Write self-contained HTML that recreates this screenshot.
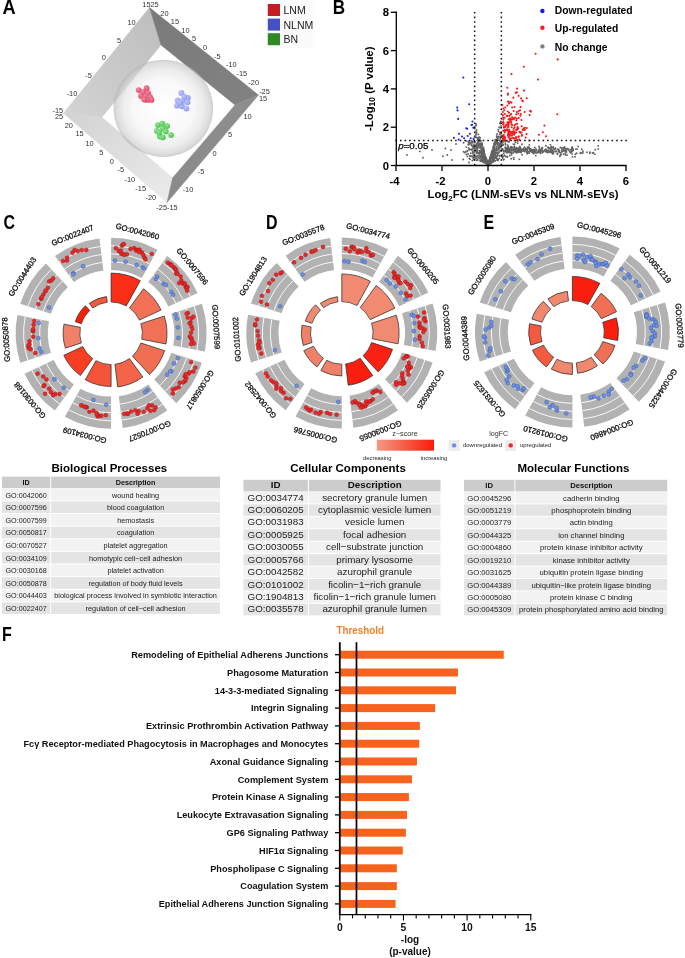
<!DOCTYPE html>
<html><head><meta charset="utf-8"><title>Figure</title>
<style>
html,body{margin:0;padding:0;background:#fff;}
body{width:685px;height:958px;position:relative;overflow:hidden;font-family:"Liberation Sans", sans-serif;}
</style></head><body>
<svg width="685" height="958" viewBox="0 0 685 958" style="position:absolute;left:0;top:0;will-change:transform">
<g font-family='"Liberation Sans", sans-serif'>
<defs><linearGradient id="gTL" x1="1" y1="0" x2="0" y2="1"><stop offset="0" stop-color="#bdbdbd"/><stop offset="1" stop-color="#d4d4d4"/></linearGradient><linearGradient id="gBL" x1="0" y1="0" x2="1" y2="1"><stop offset="0" stop-color="#d2d2d2"/><stop offset="1" stop-color="#ebebeb"/></linearGradient><linearGradient id="gTR" x1="0" y1="0" x2="1" y2="1"><stop offset="0" stop-color="#7a7a7a"/><stop offset="1" stop-color="#828282"/></linearGradient><linearGradient id="gBR" x1="1" y1="0" x2="0" y2="1"><stop offset="0" stop-color="#8e8e8e"/><stop offset="1" stop-color="#8a8a8a"/></linearGradient><radialGradient id="gSph" cx="0.5" cy="0.5" r="0.5"><stop offset="0" stop-color="#ffffff" stop-opacity="0.92"/><stop offset="0.6" stop-color="#f7f7f7" stop-opacity="0.88"/><stop offset="0.8" stop-color="#e6e6e6" stop-opacity="0.72"/><stop offset="0.93" stop-color="#cbcbcb" stop-opacity="0.62"/><stop offset="1" stop-color="#b2b2b2" stop-opacity="0.62"/></radialGradient><radialGradient id="dR" cx="0.35" cy="0.35" r="0.7"><stop offset="0" stop-color="#f08aa0"/><stop offset="1" stop-color="#e0486a"/></radialGradient><radialGradient id="dB" cx="0.35" cy="0.35" r="0.7"><stop offset="0" stop-color="#c0c8ff"/><stop offset="1" stop-color="#8c98ee"/></radialGradient><radialGradient id="dG" cx="0.35" cy="0.35" r="0.7"><stop offset="0" stop-color="#90e890"/><stop offset="1" stop-color="#4cc04c"/></radialGradient></defs>
<polygon points="149.5,7.5 63.4,113.2 102,117.3 161,45" fill="url(#gTL)" stroke="url(#gTL)" stroke-width="0.5" stroke-linejoin="round"/>
<polygon points="63.4,113.2 167,202.5 172.7,177.7 102,117.3" fill="url(#gBL)" stroke="url(#gBL)" stroke-width="0.5" stroke-linejoin="round"/>
<polygon points="149.5,7.5 258.5,95 235,105 161,45" fill="url(#gTR)" stroke="url(#gTR)" stroke-width="0.5" stroke-linejoin="round"/>
<polygon points="167,202.5 258.5,95 235,105 172.7,177.7" fill="url(#gBR)" stroke="url(#gBR)" stroke-width="0.5" stroke-linejoin="round"/>
<ellipse cx="163.3" cy="108.3" rx="49.8" ry="48.6" fill="url(#gSph)"/>
<circle cx="138.78" cy="90.09" r="2.9" fill="url(#dR)"/>
<circle cx="146.62" cy="88.13" r="2.9" fill="url(#dR)"/>
<circle cx="143.29" cy="92.25" r="2.9" fill="url(#dR)"/>
<circle cx="148.19" cy="93.23" r="2.9" fill="url(#dR)"/>
<circle cx="140.93" cy="95.98" r="2.9" fill="url(#dR)"/>
<circle cx="145.64" cy="96.56" r="2.9" fill="url(#dR)"/>
<circle cx="150.16" cy="97.15" r="2.9" fill="url(#dR)"/>
<circle cx="151.53" cy="99.9" r="2.9" fill="url(#dR)"/>
<circle cx="147.21" cy="99.9" r="2.9" fill="url(#dR)"/>
<circle cx="144.27" cy="99.51" r="2.9" fill="url(#dR)"/>
<circle cx="181.42" cy="92.89" r="2.9" fill="url(#dB)"/>
<circle cx="187.89" cy="97.79" r="2.9" fill="url(#dB)"/>
<circle cx="177.69" cy="100.34" r="2.9" fill="url(#dB)"/>
<circle cx="182.99" cy="100.73" r="2.9" fill="url(#dB)"/>
<circle cx="187.5" cy="102.3" r="2.9" fill="url(#dB)"/>
<circle cx="177.1" cy="105.64" r="2.9" fill="url(#dB)"/>
<circle cx="182.01" cy="106.23" r="2.9" fill="url(#dB)"/>
<circle cx="186.32" cy="108.58" r="2.9" fill="url(#dB)"/>
<circle cx="180.04" cy="102.7" r="2.9" fill="url(#dB)"/>
<circle cx="184.36" cy="96.81" r="2.9" fill="url(#dB)"/>
<circle cx="157.93" cy="125.08" r="2.9" fill="url(#dG)"/>
<circle cx="162.44" cy="123.7" r="2.9" fill="url(#dG)"/>
<circle cx="167.15" cy="126.06" r="2.9" fill="url(#dG)"/>
<circle cx="156.95" cy="130.96" r="2.9" fill="url(#dG)"/>
<circle cx="162.84" cy="128.61" r="2.9" fill="url(#dG)"/>
<circle cx="165.78" cy="131.55" r="2.9" fill="url(#dG)"/>
<circle cx="159.89" cy="136.46" r="2.9" fill="url(#dG)"/>
<circle cx="162.84" cy="137.44" r="2.9" fill="url(#dG)"/>
<circle cx="171.08" cy="135.08" r="2.9" fill="url(#dG)"/>
<circle cx="159.3" cy="132.53" r="2.9" fill="url(#dG)"/>
<text x="150.5" y="7.3" font-size="7.4" font-weight="normal" text-anchor="middle" fill="#333" >1525</text>
<text x="131.5" y="25.3" font-size="7.4" font-weight="normal" text-anchor="middle" fill="#333" >10</text>
<text x="119" y="42.5" font-size="7.4" font-weight="normal" text-anchor="middle" fill="#333" >5</text>
<text x="103.7" y="60.3" font-size="7.4" font-weight="normal" text-anchor="middle" fill="#333" >0</text>
<text x="88.6" y="77.5" font-size="7.4" font-weight="normal" text-anchor="middle" fill="#333" >-5</text>
<text x="72" y="95.5" font-size="7.4" font-weight="normal" text-anchor="middle" fill="#333" >-10</text>
<text x="57.8" y="112.7" font-size="7.4" font-weight="normal" text-anchor="middle" fill="#333" >-15</text>
<text x="59" y="118.8" font-size="7.4" font-weight="normal" text-anchor="middle" fill="#333" >25</text>
<text x="68.8" y="127.5" font-size="7.4" font-weight="normal" text-anchor="middle" fill="#333" >20</text>
<text x="79.6" y="136.4" font-size="7.4" font-weight="normal" text-anchor="middle" fill="#333" >15</text>
<text x="89.6" y="145.8" font-size="7.4" font-weight="normal" text-anchor="middle" fill="#333" >10</text>
<text x="101.2" y="154.8" font-size="7.4" font-weight="normal" text-anchor="middle" fill="#333" >5</text>
<text x="111.7" y="163.5" font-size="7.4" font-weight="normal" text-anchor="middle" fill="#333" >0</text>
<text x="120.9" y="172.4" font-size="7.4" font-weight="normal" text-anchor="middle" fill="#333" >-5</text>
<text x="129.8" y="181.8" font-size="7.4" font-weight="normal" text-anchor="middle" fill="#333" >-10</text>
<text x="140.7" y="190.8" font-size="7.4" font-weight="normal" text-anchor="middle" fill="#333" >-15</text>
<text x="150.8" y="200" font-size="7.4" font-weight="normal" text-anchor="middle" fill="#333" >-20</text>
<text x="167" y="209.5" font-size="7.4" font-weight="normal" text-anchor="middle" fill="#333" >-25-15</text>
<text x="164.4" y="15.5" font-size="7.4" font-weight="normal" text-anchor="middle" fill="#333" >20</text>
<text x="174.9" y="24.3" font-size="7.4" font-weight="normal" text-anchor="middle" fill="#333" >15</text>
<text x="185.4" y="32.7" font-size="7.4" font-weight="normal" text-anchor="middle" fill="#333" >10</text>
<text x="194" y="41.4" font-size="7.4" font-weight="normal" text-anchor="middle" fill="#333" >5</text>
<text x="205" y="49.8" font-size="7.4" font-weight="normal" text-anchor="middle" fill="#333" >0</text>
<text x="217.4" y="59" font-size="7.4" font-weight="normal" text-anchor="middle" fill="#333" >-5</text>
<text x="231.4" y="66.9" font-size="7.4" font-weight="normal" text-anchor="middle" fill="#333" >-10</text>
<text x="241.9" y="76.1" font-size="7.4" font-weight="normal" text-anchor="middle" fill="#333" >-15</text>
<text x="253.7" y="85.3" font-size="7.4" font-weight="normal" text-anchor="middle" fill="#333" >-20</text>
<text x="264.5" y="94.3" font-size="7.4" font-weight="normal" text-anchor="middle" fill="#333" >-25</text>
<text x="263" y="100.7" font-size="7.4" font-weight="normal" text-anchor="middle" fill="#333" >15</text>
<text x="247.5" y="118.7" font-size="7.4" font-weight="normal" text-anchor="middle" fill="#333" >10</text>
<text x="230" y="136.7" font-size="7.4" font-weight="normal" text-anchor="middle" fill="#333" >5</text>
<text x="214.5" y="155.5" font-size="7.4" font-weight="normal" text-anchor="middle" fill="#333" >0</text>
<text x="201" y="173.6" font-size="7.4" font-weight="normal" text-anchor="middle" fill="#333" >-5</text>
<text x="188" y="191.6" font-size="7.4" font-weight="normal" text-anchor="middle" fill="#333" >-10</text>
<rect x="265" y="0" width="48.5" height="48" fill="#fbfbfb"/>
<rect x="267.8" y="4" width="12.2" height="12" fill="#c41c23"/>
<text x="283.5" y="14" font-size="10.5" font-weight="normal" text-anchor="start" fill="#222" >LNM</text>
<rect x="267.8" y="18.6" width="12.2" height="12" fill="#4750c2"/>
<text x="283.5" y="28.6" font-size="10.5" font-weight="normal" text-anchor="start" fill="#222" >NLNM</text>
<rect x="267.8" y="33.2" width="12.2" height="12" fill="#2e8b24"/>
<text x="283.5" y="43.2" font-size="10.5" font-weight="normal" text-anchor="start" fill="#222" >BN</text>
<circle cx="489.06" cy="160.59" r="0.95" fill="#636363"/>
<circle cx="490.46" cy="160.11" r="0.95" fill="#636363"/>
<circle cx="502.66" cy="149.25" r="0.95" fill="#636363"/>
<circle cx="487.74" cy="163.9" r="0.95" fill="#636363"/>
<circle cx="486.38" cy="159.53" r="0.95" fill="#636363"/>
<circle cx="499.05" cy="152.01" r="0.95" fill="#636363"/>
<circle cx="488.48" cy="163.94" r="0.95" fill="#636363"/>
<circle cx="482.09" cy="144.48" r="0.95" fill="#636363"/>
<circle cx="485.27" cy="162.91" r="0.95" fill="#636363"/>
<circle cx="487.37" cy="163.74" r="0.95" fill="#636363"/>
<circle cx="481.43" cy="149.77" r="0.95" fill="#636363"/>
<circle cx="473.02" cy="153.74" r="0.95" fill="#636363"/>
<circle cx="498.08" cy="159.64" r="0.95" fill="#636363"/>
<circle cx="477.88" cy="150.35" r="0.95" fill="#636363"/>
<circle cx="488.88" cy="162.59" r="0.95" fill="#636363"/>
<circle cx="490" cy="158.6" r="0.95" fill="#636363"/>
<circle cx="480.84" cy="140.93" r="0.95" fill="#636363"/>
<circle cx="477.22" cy="146.7" r="0.95" fill="#636363"/>
<circle cx="486.28" cy="163.24" r="0.95" fill="#636363"/>
<circle cx="494.82" cy="160.47" r="0.95" fill="#636363"/>
<circle cx="499.48" cy="148.54" r="0.95" fill="#636363"/>
<circle cx="493.85" cy="152.88" r="0.95" fill="#636363"/>
<circle cx="485.85" cy="160.6" r="0.95" fill="#636363"/>
<circle cx="500.72" cy="121.59" r="0.95" fill="#636363"/>
<circle cx="497.63" cy="153.86" r="0.95" fill="#636363"/>
<circle cx="491.51" cy="152.42" r="0.95" fill="#636363"/>
<circle cx="500.5" cy="137.68" r="0.95" fill="#636363"/>
<circle cx="485.5" cy="161.88" r="0.95" fill="#636363"/>
<circle cx="463.57" cy="151.82" r="0.95" fill="#636363"/>
<circle cx="481.47" cy="145.74" r="0.95" fill="#636363"/>
<circle cx="501" cy="125.98" r="0.95" fill="#636363"/>
<circle cx="488.66" cy="162.93" r="0.95" fill="#636363"/>
<circle cx="471.51" cy="156.27" r="0.95" fill="#636363"/>
<circle cx="496.94" cy="159.99" r="0.95" fill="#636363"/>
<circle cx="488.07" cy="164.2" r="0.95" fill="#636363"/>
<circle cx="500.35" cy="142.03" r="0.95" fill="#636363"/>
<circle cx="489.65" cy="161.07" r="0.95" fill="#636363"/>
<circle cx="500.01" cy="123.3" r="0.95" fill="#636363"/>
<circle cx="494.82" cy="144.21" r="0.95" fill="#636363"/>
<circle cx="505.46" cy="156.53" r="0.95" fill="#636363"/>
<circle cx="502.87" cy="145.22" r="0.95" fill="#636363"/>
<circle cx="488.5" cy="164.72" r="0.95" fill="#636363"/>
<circle cx="484.01" cy="154.14" r="0.95" fill="#636363"/>
<circle cx="500.54" cy="147.38" r="0.95" fill="#636363"/>
<circle cx="482.36" cy="157.82" r="0.95" fill="#636363"/>
<circle cx="477.46" cy="145.2" r="0.95" fill="#636363"/>
<circle cx="495.15" cy="141.81" r="0.95" fill="#636363"/>
<circle cx="481.53" cy="152.25" r="0.95" fill="#636363"/>
<circle cx="483.43" cy="161.78" r="0.95" fill="#636363"/>
<circle cx="499.95" cy="143.62" r="0.95" fill="#636363"/>
<circle cx="508.52" cy="147.7" r="0.95" fill="#636363"/>
<circle cx="479.84" cy="144.95" r="0.95" fill="#636363"/>
<circle cx="503.43" cy="159.74" r="0.95" fill="#636363"/>
<circle cx="475.78" cy="151.33" r="0.95" fill="#636363"/>
<circle cx="496.66" cy="147.22" r="0.95" fill="#636363"/>
<circle cx="481.33" cy="150.79" r="0.95" fill="#636363"/>
<circle cx="501.26" cy="144.58" r="0.95" fill="#636363"/>
<circle cx="499.91" cy="144.94" r="0.95" fill="#636363"/>
<circle cx="497.43" cy="144.86" r="0.95" fill="#636363"/>
<circle cx="480.45" cy="152.52" r="0.95" fill="#636363"/>
<circle cx="488.87" cy="163.36" r="0.95" fill="#636363"/>
<circle cx="472.52" cy="141.88" r="0.95" fill="#636363"/>
<circle cx="471.69" cy="149.47" r="0.95" fill="#636363"/>
<circle cx="479.93" cy="141.43" r="0.95" fill="#636363"/>
<circle cx="487.47" cy="163.61" r="0.95" fill="#636363"/>
<circle cx="484.56" cy="157.2" r="0.95" fill="#636363"/>
<circle cx="487.6" cy="164.2" r="0.95" fill="#636363"/>
<circle cx="467.3" cy="150.82" r="0.95" fill="#636363"/>
<circle cx="486.19" cy="160.26" r="0.95" fill="#636363"/>
<circle cx="484.18" cy="158.78" r="0.95" fill="#636363"/>
<circle cx="483.93" cy="159.24" r="0.95" fill="#636363"/>
<circle cx="477.2" cy="146.22" r="0.95" fill="#636363"/>
<circle cx="472.85" cy="152.23" r="0.95" fill="#636363"/>
<circle cx="480.75" cy="144.84" r="0.95" fill="#636363"/>
<circle cx="483.41" cy="147.37" r="0.95" fill="#636363"/>
<circle cx="509.06" cy="141.88" r="0.95" fill="#636363"/>
<circle cx="494.34" cy="144.06" r="0.95" fill="#636363"/>
<circle cx="480.33" cy="155.79" r="0.95" fill="#636363"/>
<circle cx="493.3" cy="155.31" r="0.95" fill="#636363"/>
<circle cx="476.18" cy="131.09" r="0.95" fill="#636363"/>
<circle cx="480.37" cy="146.01" r="0.95" fill="#636363"/>
<circle cx="479.34" cy="158.55" r="0.95" fill="#636363"/>
<circle cx="497.46" cy="143.21" r="0.95" fill="#636363"/>
<circle cx="503.07" cy="141.8" r="0.95" fill="#636363"/>
<circle cx="488.5" cy="163.07" r="0.95" fill="#636363"/>
<circle cx="487.09" cy="162.16" r="0.95" fill="#636363"/>
<circle cx="484.78" cy="161.51" r="0.95" fill="#636363"/>
<circle cx="492.99" cy="152.81" r="0.95" fill="#636363"/>
<circle cx="480.09" cy="151.15" r="0.95" fill="#636363"/>
<circle cx="506.16" cy="151.47" r="0.95" fill="#636363"/>
<circle cx="474.05" cy="145.4" r="0.95" fill="#636363"/>
<circle cx="473.92" cy="159.6" r="0.95" fill="#636363"/>
<circle cx="493.13" cy="155.99" r="0.95" fill="#636363"/>
<circle cx="494.6" cy="157.58" r="0.95" fill="#636363"/>
<circle cx="500.43" cy="138.75" r="0.95" fill="#636363"/>
<circle cx="481.64" cy="161.01" r="0.95" fill="#636363"/>
<circle cx="507.3" cy="157.13" r="0.95" fill="#636363"/>
<circle cx="477.67" cy="143.65" r="0.95" fill="#636363"/>
<circle cx="483.46" cy="159.83" r="0.95" fill="#636363"/>
<circle cx="473.01" cy="146.98" r="0.95" fill="#636363"/>
<circle cx="487.02" cy="163.45" r="0.95" fill="#636363"/>
<circle cx="485.55" cy="157.34" r="0.95" fill="#636363"/>
<circle cx="474.37" cy="152.42" r="0.95" fill="#636363"/>
<circle cx="500.61" cy="144.09" r="0.95" fill="#636363"/>
<circle cx="488.89" cy="163.85" r="0.95" fill="#636363"/>
<circle cx="487.52" cy="164.25" r="0.95" fill="#636363"/>
<circle cx="494.54" cy="150.88" r="0.95" fill="#636363"/>
<circle cx="486.3" cy="162.23" r="0.95" fill="#636363"/>
<circle cx="492.07" cy="153.39" r="0.95" fill="#636363"/>
<circle cx="484.91" cy="155.27" r="0.95" fill="#636363"/>
<circle cx="485.05" cy="161.02" r="0.95" fill="#636363"/>
<circle cx="485.28" cy="161.2" r="0.95" fill="#636363"/>
<circle cx="486.92" cy="164.53" r="0.95" fill="#636363"/>
<circle cx="493.88" cy="153.07" r="0.95" fill="#636363"/>
<circle cx="496.61" cy="156.58" r="0.95" fill="#636363"/>
<circle cx="491.87" cy="157.28" r="0.95" fill="#636363"/>
<circle cx="484.82" cy="161.75" r="0.95" fill="#636363"/>
<circle cx="473.84" cy="155.86" r="0.95" fill="#636363"/>
<circle cx="481.7" cy="159.56" r="0.95" fill="#636363"/>
<circle cx="481.58" cy="160.12" r="0.95" fill="#636363"/>
<circle cx="495.33" cy="153.46" r="0.95" fill="#636363"/>
<circle cx="479.78" cy="150.99" r="0.95" fill="#636363"/>
<circle cx="510.97" cy="148.97" r="0.95" fill="#636363"/>
<circle cx="482.25" cy="144.99" r="0.95" fill="#636363"/>
<circle cx="490.74" cy="156.56" r="0.95" fill="#636363"/>
<circle cx="485.56" cy="162.3" r="0.95" fill="#636363"/>
<circle cx="484.44" cy="162.07" r="0.95" fill="#636363"/>
<circle cx="490.54" cy="163.54" r="0.95" fill="#636363"/>
<circle cx="476.06" cy="123.97" r="0.95" fill="#636363"/>
<circle cx="479.73" cy="150.65" r="0.95" fill="#636363"/>
<circle cx="472.39" cy="160.57" r="0.95" fill="#636363"/>
<circle cx="496.59" cy="146.41" r="0.95" fill="#636363"/>
<circle cx="489.6" cy="162.38" r="0.95" fill="#636363"/>
<circle cx="499.91" cy="140.48" r="0.95" fill="#636363"/>
<circle cx="491.3" cy="154.02" r="0.95" fill="#636363"/>
<circle cx="486.91" cy="162.35" r="0.95" fill="#636363"/>
<circle cx="487.95" cy="164.84" r="0.95" fill="#636363"/>
<circle cx="469.61" cy="149.25" r="0.95" fill="#636363"/>
<circle cx="495.82" cy="139.63" r="0.95" fill="#636363"/>
<circle cx="489.17" cy="162.76" r="0.95" fill="#636363"/>
<circle cx="492.55" cy="156.98" r="0.95" fill="#636363"/>
<circle cx="484.39" cy="156.93" r="0.95" fill="#636363"/>
<circle cx="514.33" cy="146.75" r="0.95" fill="#636363"/>
<circle cx="508.04" cy="147" r="0.95" fill="#636363"/>
<circle cx="488.99" cy="164.3" r="0.95" fill="#636363"/>
<circle cx="473.73" cy="155.99" r="0.95" fill="#636363"/>
<circle cx="490.81" cy="161.93" r="0.95" fill="#636363"/>
<circle cx="501.9" cy="144.02" r="0.95" fill="#636363"/>
<circle cx="494.03" cy="151.33" r="0.95" fill="#636363"/>
<circle cx="490.14" cy="158.37" r="0.95" fill="#636363"/>
<circle cx="478.39" cy="153.37" r="0.95" fill="#636363"/>
<circle cx="483.4" cy="151.66" r="0.95" fill="#636363"/>
<circle cx="482.94" cy="156.64" r="0.95" fill="#636363"/>
<circle cx="473.17" cy="146.24" r="0.95" fill="#636363"/>
<circle cx="488.85" cy="164.28" r="0.95" fill="#636363"/>
<circle cx="467.39" cy="156.55" r="0.95" fill="#636363"/>
<circle cx="495.24" cy="160.75" r="0.95" fill="#636363"/>
<circle cx="475.86" cy="149.55" r="0.95" fill="#636363"/>
<circle cx="476.46" cy="133.15" r="0.95" fill="#636363"/>
<circle cx="469.76" cy="155.74" r="0.95" fill="#636363"/>
<circle cx="504.09" cy="141" r="0.95" fill="#636363"/>
<circle cx="495.06" cy="157.93" r="0.95" fill="#636363"/>
<circle cx="485.64" cy="162.47" r="0.95" fill="#636363"/>
<circle cx="503.32" cy="144.67" r="0.95" fill="#636363"/>
<circle cx="513.62" cy="157.82" r="0.95" fill="#636363"/>
<circle cx="481.96" cy="153.88" r="0.95" fill="#636363"/>
<circle cx="481.27" cy="158.32" r="0.95" fill="#636363"/>
<circle cx="478.98" cy="155.96" r="0.95" fill="#636363"/>
<circle cx="500.29" cy="137.19" r="0.95" fill="#636363"/>
<circle cx="479.05" cy="139.73" r="0.95" fill="#636363"/>
<circle cx="485.14" cy="156.71" r="0.95" fill="#636363"/>
<circle cx="496.57" cy="149.97" r="0.95" fill="#636363"/>
<circle cx="491.67" cy="158.03" r="0.95" fill="#636363"/>
<circle cx="486.1" cy="162.26" r="0.95" fill="#636363"/>
<circle cx="492.67" cy="156.2" r="0.95" fill="#636363"/>
<circle cx="486.29" cy="158.98" r="0.95" fill="#636363"/>
<circle cx="487.47" cy="165.2" r="0.95" fill="#636363"/>
<circle cx="477.3" cy="140.46" r="0.95" fill="#636363"/>
<circle cx="485.78" cy="160.14" r="0.95" fill="#636363"/>
<circle cx="492.75" cy="152.22" r="0.95" fill="#636363"/>
<circle cx="487.84" cy="164.09" r="0.95" fill="#636363"/>
<circle cx="494.16" cy="149.15" r="0.95" fill="#636363"/>
<circle cx="486.03" cy="158.35" r="0.95" fill="#636363"/>
<circle cx="500.14" cy="123.38" r="0.95" fill="#636363"/>
<circle cx="517.66" cy="141.1" r="0.95" fill="#636363"/>
<circle cx="478.07" cy="145.26" r="0.95" fill="#636363"/>
<circle cx="483.88" cy="156.36" r="0.95" fill="#636363"/>
<circle cx="475.92" cy="157.68" r="0.95" fill="#636363"/>
<circle cx="513.8" cy="159.17" r="0.95" fill="#636363"/>
<circle cx="466.36" cy="154.56" r="0.95" fill="#636363"/>
<circle cx="507.15" cy="141.1" r="0.95" fill="#636363"/>
<circle cx="491.59" cy="161.35" r="0.95" fill="#636363"/>
<circle cx="479.09" cy="147.8" r="0.95" fill="#636363"/>
<circle cx="490.12" cy="161.82" r="0.95" fill="#636363"/>
<circle cx="491.76" cy="154.19" r="0.95" fill="#636363"/>
<circle cx="497.8" cy="160.49" r="0.95" fill="#636363"/>
<circle cx="484.84" cy="159.33" r="0.95" fill="#636363"/>
<circle cx="486.34" cy="161.03" r="0.95" fill="#636363"/>
<circle cx="469.83" cy="142.08" r="0.95" fill="#636363"/>
<circle cx="468.61" cy="142.62" r="0.95" fill="#636363"/>
<circle cx="486.28" cy="161.19" r="0.95" fill="#636363"/>
<circle cx="483.38" cy="154.71" r="0.95" fill="#636363"/>
<circle cx="485.35" cy="162.81" r="0.95" fill="#636363"/>
<circle cx="483.36" cy="149.58" r="0.95" fill="#636363"/>
<circle cx="497.21" cy="138.91" r="0.95" fill="#636363"/>
<circle cx="469.89" cy="143.66" r="0.95" fill="#636363"/>
<circle cx="480.45" cy="140.73" r="0.95" fill="#636363"/>
<circle cx="483.29" cy="151.88" r="0.95" fill="#636363"/>
<circle cx="487.5" cy="162.39" r="0.95" fill="#636363"/>
<circle cx="487.31" cy="162.88" r="0.95" fill="#636363"/>
<circle cx="464.81" cy="152.67" r="0.95" fill="#636363"/>
<circle cx="490.36" cy="157.81" r="0.95" fill="#636363"/>
<circle cx="492.29" cy="151.16" r="0.95" fill="#636363"/>
<circle cx="476.88" cy="145.74" r="0.95" fill="#636363"/>
<circle cx="488.18" cy="164.47" r="0.95" fill="#636363"/>
<circle cx="486.79" cy="163.14" r="0.95" fill="#636363"/>
<circle cx="485.85" cy="160.87" r="0.95" fill="#636363"/>
<circle cx="493.77" cy="150.03" r="0.95" fill="#636363"/>
<circle cx="483.3" cy="151.66" r="0.95" fill="#636363"/>
<circle cx="492.89" cy="159.82" r="0.95" fill="#636363"/>
<circle cx="493.77" cy="147.46" r="0.95" fill="#636363"/>
<circle cx="483.56" cy="156.86" r="0.95" fill="#636363"/>
<circle cx="493.76" cy="150.03" r="0.95" fill="#636363"/>
<circle cx="489.55" cy="161.87" r="0.95" fill="#636363"/>
<circle cx="478.13" cy="157.34" r="0.95" fill="#636363"/>
<circle cx="499.57" cy="156.06" r="0.95" fill="#636363"/>
<circle cx="494.87" cy="144.16" r="0.95" fill="#636363"/>
<circle cx="481.04" cy="151.47" r="0.95" fill="#636363"/>
<circle cx="490.65" cy="160.45" r="0.95" fill="#636363"/>
<circle cx="496.63" cy="136.05" r="0.95" fill="#636363"/>
<circle cx="487.05" cy="161.31" r="0.95" fill="#636363"/>
<circle cx="505.05" cy="151.73" r="0.95" fill="#636363"/>
<circle cx="475.9" cy="137.15" r="0.95" fill="#636363"/>
<circle cx="493.54" cy="155.48" r="0.95" fill="#636363"/>
<circle cx="477" cy="156.35" r="0.95" fill="#636363"/>
<circle cx="483.95" cy="151.32" r="0.95" fill="#636363"/>
<circle cx="482.9" cy="150.76" r="0.95" fill="#636363"/>
<circle cx="500.96" cy="132.38" r="0.95" fill="#636363"/>
<circle cx="493.78" cy="159.45" r="0.95" fill="#636363"/>
<circle cx="487.92" cy="164.42" r="0.95" fill="#636363"/>
<circle cx="493.28" cy="159.01" r="0.95" fill="#636363"/>
<circle cx="493.14" cy="157.57" r="0.95" fill="#636363"/>
<circle cx="490.97" cy="162.31" r="0.95" fill="#636363"/>
<circle cx="498.37" cy="136.78" r="0.95" fill="#636363"/>
<circle cx="486.61" cy="162.74" r="0.95" fill="#636363"/>
<circle cx="484.4" cy="157.87" r="0.95" fill="#636363"/>
<circle cx="488.89" cy="162.9" r="0.95" fill="#636363"/>
<circle cx="488.52" cy="163.93" r="0.95" fill="#636363"/>
<circle cx="476.66" cy="129.88" r="0.95" fill="#636363"/>
<circle cx="476.66" cy="160.22" r="0.95" fill="#636363"/>
<circle cx="507.11" cy="151.11" r="0.95" fill="#636363"/>
<circle cx="485.58" cy="160.76" r="0.95" fill="#636363"/>
<circle cx="484.97" cy="155.68" r="0.95" fill="#636363"/>
<circle cx="497.21" cy="152.25" r="0.95" fill="#636363"/>
<circle cx="489.62" cy="161.47" r="0.95" fill="#636363"/>
<circle cx="476.57" cy="146.18" r="0.95" fill="#636363"/>
<circle cx="482.98" cy="149.67" r="0.95" fill="#636363"/>
<circle cx="485.36" cy="157.07" r="0.95" fill="#636363"/>
<circle cx="481.38" cy="144.52" r="0.95" fill="#636363"/>
<circle cx="486.28" cy="160.21" r="0.95" fill="#636363"/>
<circle cx="503.98" cy="159.37" r="0.95" fill="#636363"/>
<circle cx="484.59" cy="158.65" r="0.95" fill="#636363"/>
<circle cx="484.38" cy="157.7" r="0.95" fill="#636363"/>
<circle cx="473.16" cy="145.87" r="0.95" fill="#636363"/>
<circle cx="495.04" cy="154.99" r="0.95" fill="#636363"/>
<circle cx="481.92" cy="160.49" r="0.95" fill="#636363"/>
<circle cx="493.4" cy="147.87" r="0.95" fill="#636363"/>
<circle cx="505.8" cy="147.4" r="0.95" fill="#636363"/>
<circle cx="485.81" cy="159.47" r="0.95" fill="#636363"/>
<circle cx="495.46" cy="142.01" r="0.95" fill="#636363"/>
<circle cx="491.83" cy="158" r="0.95" fill="#636363"/>
<circle cx="481.74" cy="157.95" r="0.95" fill="#636363"/>
<circle cx="485.94" cy="159.2" r="0.95" fill="#636363"/>
<circle cx="483.2" cy="149.17" r="0.95" fill="#636363"/>
<circle cx="485.35" cy="162.39" r="0.95" fill="#636363"/>
<circle cx="478.3" cy="134.47" r="0.95" fill="#636363"/>
<circle cx="495.77" cy="155.17" r="0.95" fill="#636363"/>
<circle cx="493.52" cy="157.17" r="0.95" fill="#636363"/>
<circle cx="470.9" cy="149.76" r="0.95" fill="#636363"/>
<circle cx="473.97" cy="144.09" r="0.95" fill="#636363"/>
<circle cx="493.56" cy="155.9" r="0.95" fill="#636363"/>
<circle cx="493.31" cy="159.69" r="0.95" fill="#636363"/>
<circle cx="507.8" cy="150.87" r="0.95" fill="#636363"/>
<circle cx="487.1" cy="164.31" r="0.95" fill="#636363"/>
<circle cx="492.99" cy="160.65" r="0.95" fill="#636363"/>
<circle cx="494.58" cy="150.16" r="0.95" fill="#636363"/>
<circle cx="482.28" cy="156.11" r="0.95" fill="#636363"/>
<circle cx="509.28" cy="151.28" r="0.95" fill="#636363"/>
<circle cx="488.96" cy="162.38" r="0.95" fill="#636363"/>
<circle cx="482.3" cy="153.18" r="0.95" fill="#636363"/>
<circle cx="482.31" cy="150.72" r="0.95" fill="#636363"/>
<circle cx="484.77" cy="155.91" r="0.95" fill="#636363"/>
<circle cx="489.42" cy="160.56" r="0.95" fill="#636363"/>
<circle cx="489.95" cy="162.23" r="0.95" fill="#636363"/>
<circle cx="485.88" cy="162.37" r="0.95" fill="#636363"/>
<circle cx="503.38" cy="156.43" r="0.95" fill="#636363"/>
<circle cx="476.74" cy="145.81" r="0.95" fill="#636363"/>
<circle cx="491.95" cy="157.69" r="0.95" fill="#636363"/>
<circle cx="485.95" cy="158.19" r="0.95" fill="#636363"/>
<circle cx="493.1" cy="154.29" r="0.95" fill="#636363"/>
<circle cx="481.04" cy="160.38" r="0.95" fill="#636363"/>
<circle cx="475.12" cy="135.77" r="0.95" fill="#636363"/>
<circle cx="494.63" cy="153.78" r="0.95" fill="#636363"/>
<circle cx="491.81" cy="162.38" r="0.95" fill="#636363"/>
<circle cx="485.61" cy="162.93" r="0.95" fill="#636363"/>
<circle cx="479.69" cy="152.99" r="0.95" fill="#636363"/>
<circle cx="463.6" cy="142.71" r="0.95" fill="#636363"/>
<circle cx="489.8" cy="162.72" r="0.95" fill="#636363"/>
<circle cx="482.5" cy="149.78" r="0.95" fill="#636363"/>
<circle cx="479.78" cy="139.63" r="0.95" fill="#636363"/>
<circle cx="490.95" cy="156.74" r="0.95" fill="#636363"/>
<circle cx="480.95" cy="160.47" r="0.95" fill="#636363"/>
<circle cx="483.28" cy="161.24" r="0.95" fill="#636363"/>
<circle cx="471.61" cy="144.52" r="0.95" fill="#636363"/>
<circle cx="496.48" cy="148.64" r="0.95" fill="#636363"/>
<circle cx="475.22" cy="147.12" r="0.95" fill="#636363"/>
<circle cx="485.77" cy="161.95" r="0.95" fill="#636363"/>
<circle cx="496.07" cy="142.17" r="0.95" fill="#636363"/>
<circle cx="483.72" cy="154.64" r="0.95" fill="#636363"/>
<circle cx="489.46" cy="159.94" r="0.95" fill="#636363"/>
<circle cx="489.7" cy="163.02" r="0.95" fill="#636363"/>
<circle cx="483.85" cy="153.47" r="0.95" fill="#636363"/>
<circle cx="501.23" cy="142.27" r="0.95" fill="#636363"/>
<circle cx="482.09" cy="159.57" r="0.95" fill="#636363"/>
<circle cx="501.4" cy="143.3" r="0.95" fill="#636363"/>
<circle cx="487.28" cy="163.64" r="0.95" fill="#636363"/>
<circle cx="497.4" cy="139.2" r="0.95" fill="#636363"/>
<circle cx="486.96" cy="161.49" r="0.95" fill="#636363"/>
<circle cx="487.48" cy="163.47" r="0.95" fill="#636363"/>
<circle cx="480.32" cy="147.65" r="0.95" fill="#636363"/>
<circle cx="491.7" cy="154.16" r="0.95" fill="#636363"/>
<circle cx="473.77" cy="147.82" r="0.95" fill="#636363"/>
<circle cx="478.08" cy="138.03" r="0.95" fill="#636363"/>
<circle cx="492.53" cy="157.81" r="0.95" fill="#636363"/>
<circle cx="490.97" cy="156.68" r="0.95" fill="#636363"/>
<circle cx="476.25" cy="132.2" r="0.95" fill="#636363"/>
<circle cx="478.29" cy="141.63" r="0.95" fill="#636363"/>
<circle cx="496.28" cy="139.9" r="0.95" fill="#636363"/>
<circle cx="474.69" cy="128.54" r="0.95" fill="#636363"/>
<circle cx="489.99" cy="161.2" r="0.95" fill="#636363"/>
<circle cx="506.22" cy="149.78" r="0.95" fill="#636363"/>
<circle cx="502.96" cy="150.49" r="0.95" fill="#636363"/>
<circle cx="481.18" cy="159.65" r="0.95" fill="#636363"/>
<circle cx="493.67" cy="160.69" r="0.95" fill="#636363"/>
<circle cx="480.98" cy="153.58" r="0.95" fill="#636363"/>
<circle cx="488.92" cy="162.11" r="0.95" fill="#636363"/>
<circle cx="498.16" cy="149.81" r="0.95" fill="#636363"/>
<circle cx="483.13" cy="159.87" r="0.95" fill="#636363"/>
<circle cx="485.34" cy="158.82" r="0.95" fill="#636363"/>
<circle cx="484.35" cy="156.46" r="0.95" fill="#636363"/>
<circle cx="480.44" cy="156.82" r="0.95" fill="#636363"/>
<circle cx="499.4" cy="155.71" r="0.95" fill="#636363"/>
<circle cx="488.8" cy="164.24" r="0.95" fill="#636363"/>
<circle cx="491.95" cy="152.23" r="0.95" fill="#636363"/>
<circle cx="484.22" cy="152.27" r="0.95" fill="#636363"/>
<circle cx="477.51" cy="142.86" r="0.95" fill="#636363"/>
<circle cx="477.61" cy="147.68" r="0.95" fill="#636363"/>
<circle cx="488.43" cy="164.27" r="0.95" fill="#636363"/>
<circle cx="474.54" cy="148.06" r="0.95" fill="#636363"/>
<circle cx="498.89" cy="152.88" r="0.95" fill="#636363"/>
<circle cx="480.86" cy="161.28" r="0.95" fill="#636363"/>
<circle cx="492.37" cy="157.56" r="0.95" fill="#636363"/>
<circle cx="483.25" cy="153.6" r="0.95" fill="#636363"/>
<circle cx="470.53" cy="156.32" r="0.95" fill="#636363"/>
<circle cx="511.11" cy="158.81" r="0.95" fill="#636363"/>
<circle cx="481.27" cy="155.42" r="0.95" fill="#636363"/>
<circle cx="477.19" cy="151.38" r="0.95" fill="#636363"/>
<circle cx="471.54" cy="145.66" r="0.95" fill="#636363"/>
<circle cx="469.68" cy="143.45" r="0.95" fill="#636363"/>
<circle cx="479.53" cy="137.31" r="0.95" fill="#636363"/>
<circle cx="488.65" cy="164.17" r="0.95" fill="#636363"/>
<circle cx="502.59" cy="154.85" r="0.95" fill="#636363"/>
<circle cx="484.67" cy="160.37" r="0.95" fill="#636363"/>
<circle cx="494.32" cy="152.42" r="0.95" fill="#636363"/>
<circle cx="494.28" cy="147.16" r="0.95" fill="#636363"/>
<circle cx="487.1" cy="164.52" r="0.95" fill="#636363"/>
<circle cx="498.13" cy="145" r="0.95" fill="#636363"/>
<circle cx="485.8" cy="161.91" r="0.95" fill="#636363"/>
<circle cx="491.2" cy="158.57" r="0.95" fill="#636363"/>
<circle cx="482.16" cy="155.25" r="0.95" fill="#636363"/>
<circle cx="479.08" cy="145.17" r="0.95" fill="#636363"/>
<circle cx="515.47" cy="142.29" r="0.95" fill="#636363"/>
<circle cx="486.9" cy="162.35" r="0.95" fill="#636363"/>
<circle cx="487.93" cy="165.28" r="0.95" fill="#636363"/>
<circle cx="495.72" cy="143.92" r="0.95" fill="#636363"/>
<circle cx="490.45" cy="156.47" r="0.95" fill="#636363"/>
<circle cx="475.87" cy="145.24" r="0.95" fill="#636363"/>
<circle cx="501.94" cy="149.17" r="0.95" fill="#636363"/>
<circle cx="491.7" cy="153.85" r="0.95" fill="#636363"/>
<circle cx="487.17" cy="161.97" r="0.95" fill="#636363"/>
<circle cx="478.12" cy="140.04" r="0.95" fill="#636363"/>
<circle cx="506.85" cy="148.94" r="0.95" fill="#636363"/>
<circle cx="477.34" cy="145.23" r="0.95" fill="#636363"/>
<circle cx="481.59" cy="145.52" r="0.95" fill="#636363"/>
<circle cx="476.96" cy="149.2" r="0.95" fill="#636363"/>
<circle cx="491.03" cy="163.56" r="0.95" fill="#636363"/>
<circle cx="491.84" cy="151.22" r="0.95" fill="#636363"/>
<circle cx="486.78" cy="161.67" r="0.95" fill="#636363"/>
<circle cx="486.51" cy="160.75" r="0.95" fill="#636363"/>
<circle cx="498.75" cy="136.48" r="0.95" fill="#636363"/>
<circle cx="486.48" cy="161.41" r="0.95" fill="#636363"/>
<circle cx="483.61" cy="152.84" r="0.95" fill="#636363"/>
<circle cx="493.21" cy="147.91" r="0.95" fill="#636363"/>
<circle cx="469.4" cy="158.45" r="0.95" fill="#636363"/>
<circle cx="514.33" cy="147.71" r="0.95" fill="#636363"/>
<circle cx="494.07" cy="158.4" r="0.95" fill="#636363"/>
<circle cx="508.22" cy="141.73" r="0.95" fill="#636363"/>
<circle cx="469.34" cy="143.05" r="0.95" fill="#636363"/>
<circle cx="491.82" cy="154.06" r="0.95" fill="#636363"/>
<circle cx="494.77" cy="148" r="0.95" fill="#636363"/>
<circle cx="493.51" cy="157.85" r="0.95" fill="#636363"/>
<circle cx="488.56" cy="164.42" r="0.95" fill="#636363"/>
<circle cx="484.23" cy="156.4" r="0.95" fill="#636363"/>
<circle cx="494.21" cy="150.17" r="0.95" fill="#636363"/>
<circle cx="502.55" cy="157.94" r="0.95" fill="#636363"/>
<circle cx="475.83" cy="158.34" r="0.95" fill="#636363"/>
<circle cx="486.6" cy="161.26" r="0.95" fill="#636363"/>
<circle cx="473.11" cy="158.08" r="0.95" fill="#636363"/>
<circle cx="495.11" cy="156.01" r="0.95" fill="#636363"/>
<circle cx="490.31" cy="159.49" r="0.95" fill="#636363"/>
<circle cx="483.77" cy="151.26" r="0.95" fill="#636363"/>
<circle cx="485.48" cy="160.87" r="0.95" fill="#636363"/>
<circle cx="502.15" cy="156.3" r="0.95" fill="#636363"/>
<circle cx="484.36" cy="158.54" r="0.95" fill="#636363"/>
<circle cx="482.98" cy="156.45" r="0.95" fill="#636363"/>
<circle cx="485.02" cy="159.01" r="0.95" fill="#636363"/>
<circle cx="480.66" cy="143.73" r="0.95" fill="#636363"/>
<circle cx="473.6" cy="157.7" r="0.95" fill="#636363"/>
<circle cx="511.53" cy="154.9" r="0.95" fill="#636363"/>
<circle cx="486.83" cy="162.51" r="0.95" fill="#636363"/>
<circle cx="500.9" cy="123.59" r="0.95" fill="#636363"/>
<circle cx="494.07" cy="143.33" r="0.95" fill="#636363"/>
<circle cx="501.04" cy="121.53" r="0.95" fill="#636363"/>
<circle cx="494.01" cy="151.12" r="0.95" fill="#636363"/>
<circle cx="488.07" cy="164.82" r="0.95" fill="#636363"/>
<circle cx="492.62" cy="154.36" r="0.95" fill="#636363"/>
<circle cx="483.55" cy="159.95" r="0.95" fill="#636363"/>
<circle cx="475.47" cy="149.91" r="0.95" fill="#636363"/>
<circle cx="492.16" cy="153.6" r="0.95" fill="#636363"/>
<circle cx="500.85" cy="144.76" r="0.95" fill="#636363"/>
<circle cx="483.6" cy="149.74" r="0.95" fill="#636363"/>
<circle cx="496.06" cy="158.07" r="0.95" fill="#636363"/>
<circle cx="502.64" cy="144.27" r="0.95" fill="#636363"/>
<circle cx="478.6" cy="145.55" r="0.95" fill="#636363"/>
<circle cx="481.99" cy="154.23" r="0.95" fill="#636363"/>
<circle cx="487.72" cy="164.42" r="0.95" fill="#636363"/>
<circle cx="507.23" cy="156.44" r="0.95" fill="#636363"/>
<circle cx="497.77" cy="143.35" r="0.95" fill="#636363"/>
<circle cx="499.76" cy="134.36" r="0.95" fill="#636363"/>
<circle cx="495.46" cy="152.35" r="0.95" fill="#636363"/>
<circle cx="490.12" cy="158.03" r="0.95" fill="#636363"/>
<circle cx="498.25" cy="137.91" r="0.95" fill="#636363"/>
<circle cx="480.73" cy="145.63" r="0.95" fill="#636363"/>
<circle cx="476.79" cy="148.17" r="0.95" fill="#636363"/>
<circle cx="466.3" cy="140.9" r="0.95" fill="#636363"/>
<circle cx="478.72" cy="137.46" r="0.95" fill="#636363"/>
<circle cx="487.24" cy="161.51" r="0.95" fill="#636363"/>
<circle cx="501.94" cy="149.19" r="0.95" fill="#636363"/>
<circle cx="482.6" cy="158.83" r="0.95" fill="#636363"/>
<circle cx="489.49" cy="163.6" r="0.95" fill="#636363"/>
<circle cx="520.87" cy="150.38" r="0.95" fill="#636363"/>
<circle cx="482.96" cy="158.6" r="0.95" fill="#636363"/>
<circle cx="493.33" cy="158.45" r="0.95" fill="#636363"/>
<circle cx="479" cy="146.04" r="0.95" fill="#636363"/>
<circle cx="483.21" cy="155.22" r="0.95" fill="#636363"/>
<circle cx="493.71" cy="158.52" r="0.95" fill="#636363"/>
<circle cx="472.3" cy="149.1" r="0.95" fill="#636363"/>
<circle cx="486.65" cy="161.14" r="0.95" fill="#636363"/>
<circle cx="494.82" cy="143.44" r="0.95" fill="#636363"/>
<circle cx="470.75" cy="143.16" r="0.95" fill="#636363"/>
<circle cx="476.02" cy="125.46" r="0.95" fill="#636363"/>
<circle cx="487.24" cy="163.1" r="0.95" fill="#636363"/>
<circle cx="490.71" cy="156.04" r="0.95" fill="#636363"/>
<circle cx="496.54" cy="142.89" r="0.95" fill="#636363"/>
<circle cx="476.33" cy="143.92" r="0.95" fill="#636363"/>
<circle cx="504.65" cy="155.17" r="0.95" fill="#636363"/>
<circle cx="468.07" cy="154.03" r="0.95" fill="#636363"/>
<circle cx="483.09" cy="159.4" r="0.95" fill="#636363"/>
<circle cx="493.95" cy="144.94" r="0.95" fill="#636363"/>
<circle cx="496.08" cy="150.53" r="0.95" fill="#636363"/>
<circle cx="472.57" cy="156.52" r="0.95" fill="#636363"/>
<circle cx="487.32" cy="163.76" r="0.95" fill="#636363"/>
<circle cx="483.69" cy="162.4" r="0.95" fill="#636363"/>
<circle cx="487.27" cy="162.98" r="0.95" fill="#636363"/>
<circle cx="483.65" cy="151.26" r="0.95" fill="#636363"/>
<circle cx="488.91" cy="164.23" r="0.95" fill="#636363"/>
<circle cx="482.19" cy="148.42" r="0.95" fill="#636363"/>
<circle cx="480.47" cy="143.75" r="0.95" fill="#636363"/>
<circle cx="500" cy="151.02" r="0.95" fill="#636363"/>
<circle cx="496.37" cy="152.77" r="0.95" fill="#636363"/>
<circle cx="480" cy="137.95" r="0.95" fill="#636363"/>
<circle cx="493.82" cy="146.86" r="0.95" fill="#636363"/>
<circle cx="488.61" cy="163.19" r="0.95" fill="#636363"/>
<circle cx="486.64" cy="160.78" r="0.95" fill="#636363"/>
<circle cx="488.49" cy="163.18" r="0.95" fill="#636363"/>
<circle cx="480" cy="144.05" r="0.95" fill="#636363"/>
<circle cx="496.8" cy="136.83" r="0.95" fill="#636363"/>
<circle cx="472.79" cy="142.07" r="0.95" fill="#636363"/>
<circle cx="481.5" cy="145.21" r="0.95" fill="#636363"/>
<circle cx="479.5" cy="154.07" r="0.95" fill="#636363"/>
<circle cx="475.98" cy="134.68" r="0.95" fill="#636363"/>
<circle cx="487.72" cy="163.54" r="0.95" fill="#636363"/>
<circle cx="500.87" cy="133.82" r="0.95" fill="#636363"/>
<circle cx="469.92" cy="159.34" r="0.95" fill="#636363"/>
<circle cx="493.26" cy="151.02" r="0.95" fill="#636363"/>
<circle cx="493.52" cy="146.71" r="0.95" fill="#636363"/>
<circle cx="497.56" cy="154.98" r="0.95" fill="#636363"/>
<circle cx="485.44" cy="160.58" r="0.95" fill="#636363"/>
<circle cx="483.56" cy="159.75" r="0.95" fill="#636363"/>
<circle cx="483.66" cy="149.05" r="0.95" fill="#636363"/>
<circle cx="481.05" cy="157.4" r="0.95" fill="#636363"/>
<circle cx="483.04" cy="153.13" r="0.95" fill="#636363"/>
<circle cx="488.45" cy="163.76" r="0.95" fill="#636363"/>
<circle cx="498.57" cy="146.98" r="0.95" fill="#636363"/>
<circle cx="493.85" cy="154.05" r="0.95" fill="#636363"/>
<circle cx="489.23" cy="160.93" r="0.95" fill="#636363"/>
<circle cx="474.52" cy="154.82" r="0.95" fill="#636363"/>
<circle cx="488.28" cy="164.29" r="0.95" fill="#636363"/>
<circle cx="497.37" cy="143.52" r="0.95" fill="#636363"/>
<circle cx="480.84" cy="144.89" r="0.95" fill="#636363"/>
<circle cx="481.06" cy="147.04" r="0.95" fill="#636363"/>
<circle cx="477.5" cy="159.13" r="0.95" fill="#636363"/>
<circle cx="497.11" cy="136.94" r="0.95" fill="#636363"/>
<circle cx="473.46" cy="147.72" r="0.95" fill="#636363"/>
<circle cx="474.89" cy="141.91" r="0.95" fill="#636363"/>
<circle cx="471.84" cy="140.96" r="0.95" fill="#636363"/>
<circle cx="479.59" cy="143.82" r="0.95" fill="#636363"/>
<circle cx="490.73" cy="156.59" r="0.95" fill="#636363"/>
<circle cx="470.77" cy="153.25" r="0.95" fill="#636363"/>
<circle cx="488.49" cy="164.4" r="0.95" fill="#636363"/>
<circle cx="509.76" cy="155.64" r="0.95" fill="#636363"/>
<circle cx="504.06" cy="150.86" r="0.95" fill="#636363"/>
<circle cx="489.48" cy="159.87" r="0.95" fill="#636363"/>
<circle cx="486.47" cy="162.73" r="0.95" fill="#636363"/>
<circle cx="467.28" cy="151.62" r="0.95" fill="#636363"/>
<circle cx="487.26" cy="164.09" r="0.95" fill="#636363"/>
<circle cx="507.85" cy="145.25" r="0.95" fill="#636363"/>
<circle cx="479.12" cy="153.3" r="0.95" fill="#636363"/>
<circle cx="499.45" cy="146.65" r="0.95" fill="#636363"/>
<circle cx="496.7" cy="141.61" r="0.95" fill="#636363"/>
<circle cx="483.03" cy="148.81" r="0.95" fill="#636363"/>
<circle cx="499.73" cy="144.56" r="0.95" fill="#636363"/>
<circle cx="484.12" cy="153.22" r="0.95" fill="#636363"/>
<circle cx="499.14" cy="158.43" r="0.95" fill="#636363"/>
<circle cx="480.91" cy="161" r="0.95" fill="#636363"/>
<circle cx="479.2" cy="144.61" r="0.95" fill="#636363"/>
<circle cx="487.56" cy="163.84" r="0.95" fill="#636363"/>
<circle cx="482.96" cy="150.9" r="0.95" fill="#636363"/>
<circle cx="484.84" cy="161.81" r="0.95" fill="#636363"/>
<circle cx="477.73" cy="142.79" r="0.95" fill="#636363"/>
<circle cx="497.55" cy="137.44" r="0.95" fill="#636363"/>
<circle cx="491.46" cy="158.2" r="0.95" fill="#636363"/>
<circle cx="494.92" cy="141.62" r="0.95" fill="#636363"/>
<circle cx="466.35" cy="147.11" r="0.95" fill="#636363"/>
<circle cx="480.24" cy="157.25" r="0.95" fill="#636363"/>
<circle cx="477.11" cy="155.36" r="0.95" fill="#636363"/>
<circle cx="487.29" cy="164.44" r="0.95" fill="#636363"/>
<circle cx="485.65" cy="157.74" r="0.95" fill="#636363"/>
<circle cx="483.14" cy="149.68" r="0.95" fill="#636363"/>
<circle cx="501.26" cy="150.48" r="0.95" fill="#636363"/>
<circle cx="492.28" cy="157.89" r="0.95" fill="#636363"/>
<circle cx="493.9" cy="152.25" r="0.95" fill="#636363"/>
<circle cx="476.8" cy="151.37" r="0.95" fill="#636363"/>
<circle cx="492.07" cy="157.84" r="0.95" fill="#636363"/>
<circle cx="493.04" cy="157.97" r="0.95" fill="#636363"/>
<circle cx="481.87" cy="160.09" r="0.95" fill="#636363"/>
<circle cx="476.51" cy="152.95" r="0.95" fill="#636363"/>
<circle cx="482.83" cy="154.66" r="0.95" fill="#636363"/>
<circle cx="499.69" cy="127.83" r="0.95" fill="#636363"/>
<circle cx="498.96" cy="147.12" r="0.95" fill="#636363"/>
<circle cx="490.61" cy="158.56" r="0.95" fill="#636363"/>
<circle cx="517.64" cy="143.28" r="0.95" fill="#636363"/>
<circle cx="476.82" cy="147.21" r="0.95" fill="#636363"/>
<circle cx="491.31" cy="158.14" r="0.95" fill="#636363"/>
<circle cx="483.26" cy="152.69" r="0.95" fill="#636363"/>
<circle cx="497.77" cy="149.81" r="0.95" fill="#636363"/>
<circle cx="479.25" cy="143.78" r="0.95" fill="#636363"/>
<circle cx="468.63" cy="147.9" r="0.95" fill="#636363"/>
<circle cx="493.92" cy="151.83" r="0.95" fill="#636363"/>
<circle cx="478.58" cy="153.41" r="0.95" fill="#636363"/>
<circle cx="468.26" cy="144.38" r="0.95" fill="#636363"/>
<circle cx="487.6" cy="163.95" r="0.95" fill="#636363"/>
<circle cx="491.39" cy="161.45" r="0.95" fill="#636363"/>
<circle cx="486.59" cy="163.6" r="0.95" fill="#636363"/>
<circle cx="468.98" cy="162.47" r="0.95" fill="#636363"/>
<circle cx="486.45" cy="159.7" r="0.95" fill="#636363"/>
<circle cx="486.04" cy="160.15" r="0.95" fill="#636363"/>
<circle cx="482.43" cy="149.35" r="0.95" fill="#636363"/>
<circle cx="477.6" cy="138.78" r="0.95" fill="#636363"/>
<circle cx="494.81" cy="149.66" r="0.95" fill="#636363"/>
<circle cx="499.51" cy="132.58" r="0.95" fill="#636363"/>
<circle cx="484.59" cy="159.34" r="0.95" fill="#636363"/>
<circle cx="495.79" cy="152.21" r="0.95" fill="#636363"/>
<circle cx="491.62" cy="157.67" r="0.95" fill="#636363"/>
<circle cx="493.44" cy="148.81" r="0.95" fill="#636363"/>
<circle cx="483.86" cy="153.28" r="0.95" fill="#636363"/>
<circle cx="484.49" cy="153.84" r="0.95" fill="#636363"/>
<circle cx="492.74" cy="149.83" r="0.95" fill="#636363"/>
<circle cx="493.95" cy="146.52" r="0.95" fill="#636363"/>
<circle cx="505.27" cy="141.11" r="0.95" fill="#636363"/>
<circle cx="489.59" cy="160.68" r="0.95" fill="#636363"/>
<circle cx="502.58" cy="149.28" r="0.95" fill="#636363"/>
<circle cx="484.63" cy="156.2" r="0.95" fill="#636363"/>
<circle cx="488.19" cy="164.15" r="0.95" fill="#636363"/>
<circle cx="465.72" cy="151.65" r="0.95" fill="#636363"/>
<circle cx="519.35" cy="159.37" r="0.95" fill="#636363"/>
<circle cx="475.71" cy="125.48" r="0.95" fill="#636363"/>
<circle cx="483.93" cy="160.19" r="0.95" fill="#636363"/>
<circle cx="485.72" cy="157.57" r="0.95" fill="#636363"/>
<circle cx="482.38" cy="148.75" r="0.95" fill="#636363"/>
<circle cx="501.16" cy="133.46" r="0.95" fill="#636363"/>
<circle cx="486.23" cy="163.67" r="0.95" fill="#636363"/>
<circle cx="490.57" cy="161.54" r="0.95" fill="#636363"/>
<circle cx="486.46" cy="161.24" r="0.95" fill="#636363"/>
<circle cx="501.61" cy="149.65" r="0.95" fill="#636363"/>
<circle cx="481.76" cy="160.29" r="0.95" fill="#636363"/>
<circle cx="481.63" cy="145.28" r="0.95" fill="#636363"/>
<circle cx="491.73" cy="160.93" r="0.95" fill="#636363"/>
<circle cx="501.25" cy="145.49" r="0.95" fill="#636363"/>
<circle cx="476.99" cy="137.63" r="0.95" fill="#636363"/>
<circle cx="490.95" cy="159.06" r="0.95" fill="#636363"/>
<circle cx="492.66" cy="158.18" r="0.95" fill="#636363"/>
<circle cx="481.29" cy="148.65" r="0.95" fill="#636363"/>
<circle cx="513.32" cy="144.1" r="0.95" fill="#636363"/>
<circle cx="485.29" cy="158.45" r="0.95" fill="#636363"/>
<circle cx="492.96" cy="152.22" r="0.95" fill="#636363"/>
<circle cx="489.76" cy="159.23" r="0.95" fill="#636363"/>
<circle cx="493.74" cy="161.37" r="0.95" fill="#636363"/>
<circle cx="489.49" cy="161.42" r="0.95" fill="#636363"/>
<circle cx="480.03" cy="160.85" r="0.95" fill="#636363"/>
<circle cx="494.63" cy="145.65" r="0.95" fill="#636363"/>
<circle cx="481.72" cy="149.04" r="0.95" fill="#636363"/>
<circle cx="472.05" cy="142.81" r="0.95" fill="#636363"/>
<circle cx="482.48" cy="148.59" r="0.95" fill="#636363"/>
<circle cx="498.24" cy="129.75" r="0.95" fill="#636363"/>
<circle cx="472.64" cy="151.21" r="0.95" fill="#636363"/>
<circle cx="463.24" cy="159.54" r="0.95" fill="#636363"/>
<circle cx="499.03" cy="140.25" r="0.95" fill="#636363"/>
<circle cx="468.22" cy="141.39" r="0.95" fill="#636363"/>
<circle cx="503.69" cy="153.13" r="0.95" fill="#636363"/>
<circle cx="491.16" cy="162.19" r="0.95" fill="#636363"/>
<circle cx="502.01" cy="149.49" r="0.95" fill="#636363"/>
<circle cx="501.68" cy="156.46" r="0.95" fill="#636363"/>
<circle cx="474.08" cy="146.87" r="0.95" fill="#636363"/>
<circle cx="503.66" cy="151.09" r="0.95" fill="#636363"/>
<circle cx="496.02" cy="140.81" r="0.95" fill="#636363"/>
<circle cx="479.16" cy="144.65" r="0.95" fill="#636363"/>
<circle cx="498.5" cy="131.34" r="0.95" fill="#636363"/>
<circle cx="484.64" cy="155.88" r="0.95" fill="#636363"/>
<circle cx="497.45" cy="154.04" r="0.95" fill="#636363"/>
<circle cx="482.24" cy="154.6" r="0.95" fill="#636363"/>
<circle cx="489.93" cy="158.59" r="0.95" fill="#636363"/>
<circle cx="497.12" cy="141.91" r="0.95" fill="#636363"/>
<circle cx="484" cy="153.79" r="0.95" fill="#636363"/>
<circle cx="484.27" cy="155.85" r="0.95" fill="#636363"/>
<circle cx="485.31" cy="162.67" r="0.95" fill="#636363"/>
<circle cx="490.69" cy="160.5" r="0.95" fill="#636363"/>
<circle cx="500.03" cy="146.83" r="0.95" fill="#636363"/>
<circle cx="490.71" cy="157.23" r="0.95" fill="#636363"/>
<circle cx="491.93" cy="154.21" r="0.95" fill="#636363"/>
<circle cx="482.02" cy="143.35" r="0.95" fill="#636363"/>
<circle cx="485.16" cy="158.73" r="0.95" fill="#636363"/>
<circle cx="494.97" cy="144.79" r="0.95" fill="#636363"/>
<circle cx="494.63" cy="143.53" r="0.95" fill="#636363"/>
<circle cx="488.11" cy="164.87" r="0.95" fill="#636363"/>
<circle cx="482.54" cy="161.53" r="0.95" fill="#636363"/>
<circle cx="485.92" cy="161.55" r="0.95" fill="#636363"/>
<circle cx="483.11" cy="147.74" r="0.95" fill="#636363"/>
<circle cx="495.33" cy="139.75" r="0.95" fill="#636363"/>
<circle cx="501.68" cy="143.54" r="0.95" fill="#636363"/>
<circle cx="487.99" cy="164.98" r="0.95" fill="#636363"/>
<circle cx="485.07" cy="155.87" r="0.95" fill="#636363"/>
<circle cx="501.24" cy="135.79" r="0.95" fill="#636363"/>
<circle cx="489" cy="161.87" r="0.95" fill="#636363"/>
<circle cx="478.55" cy="152.76" r="0.95" fill="#636363"/>
<circle cx="503.3" cy="141.44" r="0.95" fill="#636363"/>
<circle cx="468.98" cy="149.81" r="0.95" fill="#636363"/>
<circle cx="475.44" cy="156.88" r="0.95" fill="#636363"/>
<circle cx="484.04" cy="154.03" r="0.95" fill="#636363"/>
<circle cx="496.34" cy="149.39" r="0.95" fill="#636363"/>
<circle cx="494.11" cy="157.39" r="0.95" fill="#636363"/>
<circle cx="481.69" cy="143.32" r="0.95" fill="#636363"/>
<circle cx="474.19" cy="149.92" r="0.95" fill="#636363"/>
<circle cx="511.37" cy="153.6" r="0.95" fill="#636363"/>
<circle cx="493.25" cy="161.91" r="0.95" fill="#636363"/>
<circle cx="477.26" cy="143.85" r="0.95" fill="#636363"/>
<circle cx="489.52" cy="162.17" r="0.95" fill="#636363"/>
<circle cx="495.17" cy="144.49" r="0.95" fill="#636363"/>
<circle cx="490.89" cy="156.22" r="0.95" fill="#636363"/>
<circle cx="485.36" cy="159.01" r="0.95" fill="#636363"/>
<circle cx="487.03" cy="164.08" r="0.95" fill="#636363"/>
<circle cx="492.9" cy="152.35" r="0.95" fill="#636363"/>
<circle cx="487.2" cy="162.88" r="0.95" fill="#636363"/>
<circle cx="477.85" cy="160.01" r="0.95" fill="#636363"/>
<circle cx="484.58" cy="157.56" r="0.95" fill="#636363"/>
<circle cx="486.93" cy="160.68" r="0.95" fill="#636363"/>
<circle cx="493.46" cy="146.84" r="0.95" fill="#636363"/>
<circle cx="481.31" cy="157.25" r="0.95" fill="#636363"/>
<circle cx="494.94" cy="155.41" r="0.95" fill="#636363"/>
<circle cx="483.71" cy="150.61" r="0.95" fill="#636363"/>
<circle cx="508.45" cy="147.84" r="0.95" fill="#636363"/>
<circle cx="487.43" cy="163.66" r="0.95" fill="#636363"/>
<circle cx="475.57" cy="150.08" r="0.95" fill="#636363"/>
<circle cx="487.98" cy="164.99" r="0.95" fill="#636363"/>
<circle cx="477.33" cy="152.36" r="0.95" fill="#636363"/>
<circle cx="474.68" cy="148.43" r="0.95" fill="#636363"/>
<circle cx="496.9" cy="140.25" r="0.95" fill="#636363"/>
<circle cx="468.7" cy="144.79" r="0.95" fill="#636363"/>
<circle cx="474.33" cy="159.44" r="0.95" fill="#636363"/>
<circle cx="486.09" cy="160.72" r="0.95" fill="#636363"/>
<circle cx="474.04" cy="157.64" r="0.95" fill="#636363"/>
<circle cx="486.39" cy="159.93" r="0.95" fill="#636363"/>
<circle cx="499.2" cy="127.15" r="0.95" fill="#636363"/>
<circle cx="483.17" cy="160.45" r="0.95" fill="#636363"/>
<circle cx="497.06" cy="134.06" r="0.95" fill="#636363"/>
<circle cx="498.39" cy="142.97" r="0.95" fill="#636363"/>
<circle cx="485.83" cy="159.59" r="0.95" fill="#636363"/>
<circle cx="500.71" cy="122.94" r="0.95" fill="#636363"/>
<circle cx="495.43" cy="155.63" r="0.95" fill="#636363"/>
<circle cx="499.33" cy="144.92" r="0.95" fill="#636363"/>
<circle cx="482.14" cy="158.83" r="0.95" fill="#636363"/>
<circle cx="489.05" cy="162.96" r="0.95" fill="#636363"/>
<circle cx="486.36" cy="162.73" r="0.95" fill="#636363"/>
<circle cx="492.24" cy="151.98" r="0.95" fill="#636363"/>
<circle cx="482.38" cy="147.13" r="0.95" fill="#636363"/>
<circle cx="490.72" cy="158.56" r="0.95" fill="#636363"/>
<circle cx="484.01" cy="155.69" r="0.95" fill="#636363"/>
<circle cx="496.15" cy="157.8" r="0.95" fill="#636363"/>
<circle cx="497.3" cy="158.8" r="0.95" fill="#636363"/>
<circle cx="496.17" cy="143.05" r="0.95" fill="#636363"/>
<circle cx="486.57" cy="160.63" r="0.95" fill="#636363"/>
<circle cx="483.32" cy="161.71" r="0.95" fill="#636363"/>
<circle cx="483.07" cy="151.8" r="0.95" fill="#636363"/>
<circle cx="491.41" cy="155.07" r="0.95" fill="#636363"/>
<circle cx="492.81" cy="152.3" r="0.95" fill="#636363"/>
<circle cx="498.44" cy="148.51" r="0.95" fill="#636363"/>
<circle cx="484.08" cy="152.43" r="0.95" fill="#636363"/>
<circle cx="489.98" cy="157.58" r="0.95" fill="#636363"/>
<circle cx="486.99" cy="162.28" r="0.95" fill="#636363"/>
<circle cx="497.08" cy="156.14" r="0.95" fill="#636363"/>
<circle cx="529.87" cy="150.93" r="0.95" fill="#636363"/>
<circle cx="582.18" cy="153.1" r="0.95" fill="#636363"/>
<circle cx="548.16" cy="150.78" r="0.95" fill="#636363"/>
<circle cx="559.86" cy="156.38" r="0.95" fill="#636363"/>
<circle cx="505.79" cy="149.61" r="0.95" fill="#636363"/>
<circle cx="524.28" cy="151.61" r="0.95" fill="#636363"/>
<circle cx="514.42" cy="144.55" r="0.95" fill="#636363"/>
<circle cx="561.57" cy="148.03" r="0.95" fill="#636363"/>
<circle cx="541.97" cy="149.98" r="0.95" fill="#636363"/>
<circle cx="559.18" cy="152.11" r="0.95" fill="#636363"/>
<circle cx="566.42" cy="151.88" r="0.95" fill="#636363"/>
<circle cx="573.04" cy="148.93" r="0.95" fill="#636363"/>
<circle cx="582.88" cy="152.83" r="0.95" fill="#636363"/>
<circle cx="598.24" cy="148.89" r="0.95" fill="#636363"/>
<circle cx="552.82" cy="147.65" r="0.95" fill="#636363"/>
<circle cx="515.49" cy="149.27" r="0.95" fill="#636363"/>
<circle cx="559.06" cy="151.55" r="0.95" fill="#636363"/>
<circle cx="571.94" cy="150.8" r="0.95" fill="#636363"/>
<circle cx="509.15" cy="150.37" r="0.95" fill="#636363"/>
<circle cx="510.55" cy="147.18" r="0.95" fill="#636363"/>
<circle cx="527.38" cy="150.22" r="0.95" fill="#636363"/>
<circle cx="589.88" cy="152.18" r="0.95" fill="#636363"/>
<circle cx="563.78" cy="150.71" r="0.95" fill="#636363"/>
<circle cx="510.46" cy="149.88" r="0.95" fill="#636363"/>
<circle cx="511.44" cy="147.37" r="0.95" fill="#636363"/>
<circle cx="530.5" cy="151.09" r="0.95" fill="#636363"/>
<circle cx="565.48" cy="154.95" r="0.95" fill="#636363"/>
<circle cx="516.42" cy="149.85" r="0.95" fill="#636363"/>
<circle cx="505.53" cy="150.51" r="0.95" fill="#636363"/>
<circle cx="512.14" cy="147.56" r="0.95" fill="#636363"/>
<circle cx="534.84" cy="150.92" r="0.95" fill="#636363"/>
<circle cx="507.67" cy="150.69" r="0.95" fill="#636363"/>
<circle cx="513.18" cy="150.8" r="0.95" fill="#636363"/>
<circle cx="553.19" cy="146.96" r="0.95" fill="#636363"/>
<circle cx="520.31" cy="148.53" r="0.95" fill="#636363"/>
<circle cx="537.59" cy="152.57" r="0.95" fill="#636363"/>
<circle cx="535.78" cy="150.6" r="0.95" fill="#636363"/>
<circle cx="576.62" cy="153.29" r="0.95" fill="#636363"/>
<circle cx="529.31" cy="148.92" r="0.95" fill="#636363"/>
<circle cx="574.94" cy="156.77" r="0.95" fill="#636363"/>
<circle cx="505.26" cy="147.54" r="0.95" fill="#636363"/>
<circle cx="523.73" cy="150.16" r="0.95" fill="#636363"/>
<circle cx="507.24" cy="151.11" r="0.95" fill="#636363"/>
<circle cx="572" cy="148.8" r="0.95" fill="#636363"/>
<circle cx="546.29" cy="151.48" r="0.95" fill="#636363"/>
<circle cx="553.31" cy="151.97" r="0.95" fill="#636363"/>
<circle cx="516.57" cy="152.8" r="0.95" fill="#636363"/>
<circle cx="540.89" cy="151.66" r="0.95" fill="#636363"/>
<circle cx="515.87" cy="151.15" r="0.95" fill="#636363"/>
<circle cx="514.28" cy="151.76" r="0.95" fill="#636363"/>
<circle cx="508.31" cy="150.88" r="0.95" fill="#636363"/>
<circle cx="553.25" cy="151.67" r="0.95" fill="#636363"/>
<circle cx="582.94" cy="151.28" r="0.95" fill="#636363"/>
<circle cx="530.52" cy="148.74" r="0.95" fill="#636363"/>
<circle cx="581.82" cy="149.23" r="0.95" fill="#636363"/>
<circle cx="533.67" cy="149.59" r="0.95" fill="#636363"/>
<circle cx="519.81" cy="150.82" r="0.95" fill="#636363"/>
<circle cx="551.06" cy="152.36" r="0.95" fill="#636363"/>
<circle cx="565.84" cy="150.29" r="0.95" fill="#636363"/>
<circle cx="553.13" cy="149.3" r="0.95" fill="#636363"/>
<circle cx="561.99" cy="151.77" r="0.95" fill="#636363"/>
<circle cx="520.26" cy="150.4" r="0.95" fill="#636363"/>
<circle cx="538.41" cy="150.91" r="0.95" fill="#636363"/>
<circle cx="545.36" cy="151.09" r="0.95" fill="#636363"/>
<circle cx="538.34" cy="151.83" r="0.95" fill="#636363"/>
<circle cx="511.88" cy="150.34" r="0.95" fill="#636363"/>
<circle cx="563.7" cy="154.06" r="0.95" fill="#636363"/>
<circle cx="525.17" cy="148.11" r="0.95" fill="#636363"/>
<circle cx="521.18" cy="151.51" r="0.95" fill="#636363"/>
<circle cx="528.87" cy="147.11" r="0.95" fill="#636363"/>
<circle cx="563.47" cy="150.53" r="0.95" fill="#636363"/>
<circle cx="529.33" cy="144.92" r="0.95" fill="#636363"/>
<circle cx="551.62" cy="152.12" r="0.95" fill="#636363"/>
<circle cx="523.36" cy="148.73" r="0.95" fill="#636363"/>
<circle cx="557.55" cy="154.27" r="0.95" fill="#636363"/>
<circle cx="580.19" cy="153.18" r="0.95" fill="#636363"/>
<circle cx="549.31" cy="151.81" r="0.95" fill="#636363"/>
<circle cx="556.62" cy="151.41" r="0.95" fill="#636363"/>
<circle cx="547.38" cy="152.36" r="0.95" fill="#636363"/>
<circle cx="553.55" cy="153.59" r="0.95" fill="#636363"/>
<circle cx="547.37" cy="152.47" r="0.95" fill="#636363"/>
<circle cx="564.68" cy="148.13" r="0.95" fill="#636363"/>
<circle cx="507.94" cy="151.3" r="0.95" fill="#636363"/>
<circle cx="565.32" cy="148.7" r="0.95" fill="#636363"/>
<circle cx="510.52" cy="152.06" r="0.95" fill="#636363"/>
<circle cx="549.21" cy="152.32" r="0.95" fill="#636363"/>
<circle cx="542.05" cy="147.73" r="0.95" fill="#636363"/>
<circle cx="560.48" cy="147.47" r="0.95" fill="#636363"/>
<circle cx="560.23" cy="155.12" r="0.95" fill="#636363"/>
<circle cx="516.15" cy="152.23" r="0.95" fill="#636363"/>
<circle cx="508.14" cy="147.65" r="0.95" fill="#636363"/>
<circle cx="508.28" cy="150.51" r="0.95" fill="#636363"/>
<circle cx="555.29" cy="148.27" r="0.95" fill="#636363"/>
<circle cx="563.33" cy="149.08" r="0.95" fill="#636363"/>
<circle cx="520.92" cy="150.36" r="0.95" fill="#636363"/>
<circle cx="555.22" cy="148.37" r="0.95" fill="#636363"/>
<circle cx="553.13" cy="151.43" r="0.95" fill="#636363"/>
<circle cx="567.11" cy="148.64" r="0.95" fill="#636363"/>
<circle cx="598.23" cy="145.89" r="0.95" fill="#636363"/>
<circle cx="507.17" cy="148.02" r="0.95" fill="#636363"/>
<circle cx="535.75" cy="155.6" r="0.95" fill="#636363"/>
<circle cx="527.52" cy="147.22" r="0.95" fill="#636363"/>
<circle cx="514.2" cy="148.39" r="0.95" fill="#636363"/>
<circle cx="518.37" cy="151.24" r="0.95" fill="#636363"/>
<circle cx="533.26" cy="149.68" r="0.95" fill="#636363"/>
<circle cx="528.08" cy="151.88" r="0.95" fill="#636363"/>
<circle cx="551.08" cy="148.38" r="0.95" fill="#636363"/>
<circle cx="527.73" cy="152.71" r="0.95" fill="#636363"/>
<circle cx="515.82" cy="151.91" r="0.95" fill="#636363"/>
<circle cx="548.19" cy="150.42" r="0.95" fill="#636363"/>
<circle cx="508.33" cy="152.22" r="0.95" fill="#636363"/>
<circle cx="567.19" cy="155.08" r="0.95" fill="#636363"/>
<circle cx="572.47" cy="156.92" r="0.95" fill="#636363"/>
<circle cx="562.12" cy="149.53" r="0.95" fill="#636363"/>
<circle cx="593.41" cy="152.74" r="0.95" fill="#636363"/>
<circle cx="569.6" cy="151.51" r="0.95" fill="#636363"/>
<circle cx="549.97" cy="151.51" r="0.95" fill="#636363"/>
<circle cx="564.42" cy="148.48" r="0.95" fill="#636363"/>
<circle cx="518.1" cy="152.21" r="0.95" fill="#636363"/>
<circle cx="532.03" cy="151.9" r="0.95" fill="#636363"/>
<circle cx="549.33" cy="151.81" r="0.95" fill="#636363"/>
<circle cx="542.87" cy="151.78" r="0.95" fill="#636363"/>
<circle cx="508.92" cy="151.92" r="0.95" fill="#636363"/>
<circle cx="510.83" cy="146.87" r="0.95" fill="#636363"/>
<circle cx="539.49" cy="148" r="0.95" fill="#636363"/>
<circle cx="548.16" cy="147.18" r="0.95" fill="#636363"/>
<circle cx="530.96" cy="149.4" r="0.95" fill="#636363"/>
<circle cx="565.88" cy="150.59" r="0.95" fill="#636363"/>
<circle cx="551" cy="151.9" r="0.95" fill="#636363"/>
<circle cx="551.79" cy="150.43" r="0.95" fill="#636363"/>
<circle cx="511.88" cy="147.58" r="0.95" fill="#636363"/>
<circle cx="546.23" cy="150.08" r="0.95" fill="#636363"/>
<circle cx="540.67" cy="152.03" r="0.95" fill="#636363"/>
<circle cx="542.45" cy="150.79" r="0.95" fill="#636363"/>
<circle cx="520.21" cy="148.06" r="0.95" fill="#636363"/>
<circle cx="524.35" cy="147.31" r="0.95" fill="#636363"/>
<circle cx="565.28" cy="151.85" r="0.95" fill="#636363"/>
<circle cx="509.48" cy="149.15" r="0.95" fill="#636363"/>
<circle cx="507.6" cy="149.78" r="0.95" fill="#636363"/>
<circle cx="526.5" cy="151.51" r="0.95" fill="#636363"/>
<circle cx="511.76" cy="147.27" r="0.95" fill="#636363"/>
<circle cx="516.15" cy="147.59" r="0.95" fill="#636363"/>
<circle cx="552.36" cy="152.46" r="0.95" fill="#636363"/>
<circle cx="505.5" cy="148.44" r="0.95" fill="#636363"/>
<circle cx="526.98" cy="152.23" r="0.95" fill="#636363"/>
<circle cx="516.62" cy="148.73" r="0.95" fill="#636363"/>
<circle cx="507.29" cy="152.66" r="0.95" fill="#636363"/>
<circle cx="561.15" cy="154.43" r="0.95" fill="#636363"/>
<circle cx="534.8" cy="147.46" r="0.95" fill="#636363"/>
<circle cx="517.77" cy="149.9" r="0.95" fill="#636363"/>
<circle cx="544.66" cy="150.32" r="0.95" fill="#636363"/>
<circle cx="521.01" cy="152.43" r="0.95" fill="#636363"/>
<circle cx="570.24" cy="149.59" r="0.95" fill="#636363"/>
<circle cx="568.22" cy="149.83" r="0.95" fill="#636363"/>
<circle cx="559.33" cy="150.62" r="0.95" fill="#636363"/>
<circle cx="592.52" cy="153.06" r="0.95" fill="#636363"/>
<circle cx="559.34" cy="150.72" r="0.95" fill="#636363"/>
<circle cx="505.35" cy="143.25" r="0.95" fill="#636363"/>
<circle cx="533.79" cy="153.46" r="0.95" fill="#636363"/>
<circle cx="530.35" cy="151.25" r="0.95" fill="#636363"/>
<circle cx="526.32" cy="151.68" r="0.95" fill="#636363"/>
<circle cx="555.78" cy="151.34" r="0.95" fill="#636363"/>
<circle cx="532.99" cy="150.33" r="0.95" fill="#636363"/>
<circle cx="542.52" cy="148.12" r="0.95" fill="#636363"/>
<circle cx="511.85" cy="150.67" r="0.95" fill="#636363"/>
<circle cx="525.25" cy="150.27" r="0.95" fill="#636363"/>
<circle cx="534.87" cy="152.31" r="0.95" fill="#636363"/>
<circle cx="519.98" cy="152.25" r="0.95" fill="#636363"/>
<circle cx="514.25" cy="149.64" r="0.95" fill="#636363"/>
<circle cx="594.74" cy="154.13" r="0.95" fill="#636363"/>
<circle cx="550.32" cy="144.62" r="0.95" fill="#636363"/>
<circle cx="519.82" cy="148.06" r="0.95" fill="#636363"/>
<circle cx="529.25" cy="153.33" r="0.95" fill="#636363"/>
<circle cx="514.57" cy="149.09" r="0.95" fill="#636363"/>
<circle cx="511.81" cy="149.7" r="0.95" fill="#636363"/>
<circle cx="545.96" cy="145.68" r="0.95" fill="#636363"/>
<circle cx="572.16" cy="150.48" r="0.95" fill="#636363"/>
<circle cx="507.11" cy="151.41" r="0.95" fill="#636363"/>
<circle cx="519.5" cy="149.13" r="0.95" fill="#636363"/>
<circle cx="525.72" cy="149.32" r="0.95" fill="#636363"/>
<circle cx="527.35" cy="149.88" r="0.95" fill="#636363"/>
<circle cx="595.24" cy="149.65" r="0.95" fill="#636363"/>
<circle cx="533.94" cy="151.8" r="0.95" fill="#636363"/>
<circle cx="542.77" cy="152.62" r="0.95" fill="#636363"/>
<circle cx="532.42" cy="150.82" r="0.95" fill="#636363"/>
<circle cx="533.37" cy="150.63" r="0.95" fill="#636363"/>
<circle cx="572.79" cy="150.03" r="0.95" fill="#636363"/>
<circle cx="518.24" cy="149.38" r="0.95" fill="#636363"/>
<circle cx="518.47" cy="151.63" r="0.95" fill="#636363"/>
<circle cx="505.59" cy="144.72" r="0.95" fill="#636363"/>
<circle cx="572.24" cy="154.11" r="0.95" fill="#636363"/>
<circle cx="578.08" cy="146.45" r="0.95" fill="#636363"/>
<circle cx="573.09" cy="150.46" r="0.95" fill="#636363"/>
<circle cx="558.64" cy="149.57" r="0.95" fill="#636363"/>
<circle cx="505.91" cy="150.84" r="0.95" fill="#636363"/>
<circle cx="522.05" cy="149.36" r="0.95" fill="#636363"/>
<circle cx="540.72" cy="149.58" r="0.95" fill="#636363"/>
<circle cx="508.31" cy="148.84" r="0.95" fill="#636363"/>
<circle cx="539.29" cy="151.73" r="0.95" fill="#636363"/>
<circle cx="557.46" cy="149.14" r="0.95" fill="#636363"/>
<circle cx="545.57" cy="149.46" r="0.95" fill="#636363"/>
<circle cx="510.08" cy="148.86" r="0.95" fill="#636363"/>
<circle cx="509.31" cy="149.46" r="0.95" fill="#636363"/>
<circle cx="557.3" cy="153.49" r="0.95" fill="#636363"/>
<circle cx="576.95" cy="149.14" r="0.95" fill="#636363"/>
<circle cx="547.95" cy="150.54" r="0.95" fill="#636363"/>
<circle cx="558.83" cy="151.42" r="0.95" fill="#636363"/>
<circle cx="540" cy="150.1" r="0.95" fill="#636363"/>
<circle cx="536.7" cy="150.12" r="0.95" fill="#636363"/>
<circle cx="508.71" cy="150.52" r="0.95" fill="#636363"/>
<circle cx="539.11" cy="149.68" r="0.95" fill="#636363"/>
<circle cx="514.43" cy="149.46" r="0.95" fill="#636363"/>
<circle cx="515.66" cy="150.66" r="0.95" fill="#636363"/>
<circle cx="545.27" cy="151.56" r="0.95" fill="#636363"/>
<circle cx="505.67" cy="148.94" r="0.95" fill="#636363"/>
<circle cx="540.36" cy="152.93" r="0.95" fill="#636363"/>
<circle cx="575.45" cy="154.25" r="0.95" fill="#636363"/>
<circle cx="528.58" cy="147.7" r="0.95" fill="#636363"/>
<circle cx="550.93" cy="151.16" r="0.95" fill="#636363"/>
<circle cx="518.38" cy="151.62" r="0.95" fill="#636363"/>
<circle cx="513.5" cy="149.21" r="0.95" fill="#636363"/>
<circle cx="572.11" cy="147.57" r="0.95" fill="#636363"/>
<circle cx="521.97" cy="144.2" r="0.95" fill="#636363"/>
<circle cx="530.51" cy="150.58" r="0.95" fill="#636363"/>
<circle cx="534.3" cy="149.94" r="0.95" fill="#636363"/>
<circle cx="566.12" cy="151.77" r="0.95" fill="#636363"/>
<circle cx="538.9" cy="146.37" r="0.95" fill="#636363"/>
<circle cx="550.88" cy="149.7" r="0.95" fill="#636363"/>
<circle cx="551.31" cy="146.47" r="0.95" fill="#636363"/>
<circle cx="551.4" cy="147.24" r="0.95" fill="#636363"/>
<circle cx="565.77" cy="151.38" r="0.95" fill="#636363"/>
<circle cx="519.86" cy="146.57" r="0.95" fill="#636363"/>
<circle cx="510.95" cy="149.65" r="0.95" fill="#636363"/>
<circle cx="535.91" cy="151.65" r="0.95" fill="#636363"/>
<circle cx="566.66" cy="148.67" r="0.95" fill="#636363"/>
<circle cx="563.76" cy="149.9" r="0.95" fill="#636363"/>
<circle cx="516.55" cy="150.81" r="0.95" fill="#636363"/>
<circle cx="516.14" cy="149.96" r="0.95" fill="#636363"/>
<circle cx="543.18" cy="151.14" r="0.95" fill="#636363"/>
<circle cx="533.26" cy="151.4" r="0.95" fill="#636363"/>
<circle cx="563.69" cy="150.22" r="0.95" fill="#636363"/>
<circle cx="531" cy="150.09" r="0.95" fill="#636363"/>
<circle cx="515" cy="149.29" r="0.95" fill="#636363"/>
<circle cx="554.71" cy="149.58" r="0.95" fill="#636363"/>
<circle cx="517.03" cy="148.38" r="0.95" fill="#636363"/>
<circle cx="551.88" cy="150.74" r="0.95" fill="#636363"/>
<circle cx="565.69" cy="154.04" r="0.95" fill="#636363"/>
<circle cx="570.67" cy="152.44" r="0.95" fill="#636363"/>
<circle cx="513.87" cy="150.08" r="0.95" fill="#636363"/>
<circle cx="560.48" cy="152.73" r="0.95" fill="#636363"/>
<circle cx="521.16" cy="149.34" r="0.95" fill="#636363"/>
<circle cx="589.79" cy="153.3" r="0.95" fill="#636363"/>
<circle cx="575.88" cy="149.13" r="0.95" fill="#636363"/>
<circle cx="556.33" cy="151.21" r="0.95" fill="#636363"/>
<circle cx="516.46" cy="149.36" r="0.95" fill="#636363"/>
<circle cx="517.28" cy="148.46" r="0.95" fill="#636363"/>
<circle cx="535.92" cy="148.98" r="0.95" fill="#636363"/>
<circle cx="539.13" cy="150.55" r="0.95" fill="#636363"/>
<circle cx="572.26" cy="147.53" r="0.95" fill="#636363"/>
<circle cx="508.02" cy="147.39" r="0.95" fill="#636363"/>
<circle cx="569.87" cy="151.11" r="0.95" fill="#636363"/>
<circle cx="564.56" cy="146.96" r="0.95" fill="#636363"/>
<circle cx="530.48" cy="149.54" r="0.95" fill="#636363"/>
<circle cx="553.84" cy="149.47" r="0.95" fill="#636363"/>
<circle cx="551.31" cy="147.36" r="0.95" fill="#636363"/>
<circle cx="540.9" cy="150.47" r="0.95" fill="#636363"/>
<circle cx="541.83" cy="148.42" r="0.95" fill="#636363"/>
<circle cx="555.18" cy="151.59" r="0.95" fill="#636363"/>
<circle cx="518.46" cy="150.7" r="0.95" fill="#636363"/>
<circle cx="529" cy="147.98" r="0.95" fill="#636363"/>
<circle cx="524.19" cy="149.69" r="0.95" fill="#636363"/>
<circle cx="571.93" cy="149.58" r="0.95" fill="#636363"/>
<circle cx="546.52" cy="150.84" r="0.95" fill="#636363"/>
<circle cx="516.29" cy="150.22" r="0.95" fill="#636363"/>
<circle cx="536.1" cy="153.01" r="0.95" fill="#636363"/>
<circle cx="517.3" cy="151.95" r="0.95" fill="#636363"/>
<circle cx="513.96" cy="149.68" r="0.95" fill="#636363"/>
<circle cx="572.36" cy="147.77" r="0.95" fill="#636363"/>
<circle cx="511.64" cy="152.56" r="0.95" fill="#636363"/>
<circle cx="515.3" cy="149.19" r="0.95" fill="#636363"/>
<circle cx="548" cy="147.67" r="0.95" fill="#636363"/>
<circle cx="534.75" cy="150.74" r="0.95" fill="#636363"/>
<circle cx="552.47" cy="153.8" r="0.95" fill="#636363"/>
<circle cx="510.02" cy="152.7" r="0.95" fill="#636363"/>
<circle cx="550.11" cy="149.5" r="0.95" fill="#636363"/>
<circle cx="548.9" cy="148" r="0.95" fill="#636363"/>
<circle cx="531.53" cy="151.94" r="0.95" fill="#636363"/>
<circle cx="522.14" cy="154.79" r="0.95" fill="#636363"/>
<circle cx="513.1" cy="152.95" r="0.95" fill="#636363"/>
<circle cx="508.79" cy="151.93" r="0.95" fill="#636363"/>
<circle cx="523.06" cy="149.56" r="0.95" fill="#636363"/>
<circle cx="538.68" cy="151.47" r="0.95" fill="#636363"/>
<circle cx="533.54" cy="150.01" r="0.95" fill="#636363"/>
<circle cx="526.62" cy="149.52" r="0.95" fill="#636363"/>
<circle cx="580.91" cy="152.82" r="0.95" fill="#636363"/>
<circle cx="527.25" cy="153.68" r="0.95" fill="#636363"/>
<circle cx="563.34" cy="150.85" r="0.95" fill="#636363"/>
<circle cx="532.98" cy="153.05" r="0.95" fill="#636363"/>
<circle cx="513.17" cy="148.86" r="0.95" fill="#636363"/>
<circle cx="516.19" cy="150.44" r="0.95" fill="#636363"/>
<circle cx="568.4" cy="149.41" r="0.95" fill="#636363"/>
<circle cx="520.41" cy="151.74" r="0.95" fill="#636363"/>
<circle cx="537.99" cy="152.41" r="0.95" fill="#636363"/>
<circle cx="540.58" cy="153.22" r="0.95" fill="#636363"/>
<circle cx="522.84" cy="151.15" r="0.95" fill="#636363"/>
<circle cx="517.04" cy="149.85" r="0.95" fill="#636363"/>
<circle cx="533.53" cy="152.79" r="0.95" fill="#636363"/>
<circle cx="570.75" cy="152.76" r="0.95" fill="#636363"/>
<circle cx="586.94" cy="152.22" r="0.95" fill="#636363"/>
<circle cx="549.66" cy="148.27" r="0.95" fill="#636363"/>
<circle cx="562.03" cy="151.03" r="0.95" fill="#636363"/>
<circle cx="521.4" cy="149.73" r="0.95" fill="#636363"/>
<circle cx="521.09" cy="149.6" r="0.95" fill="#636363"/>
<circle cx="561.21" cy="154.39" r="0.95" fill="#636363"/>
<circle cx="553" cy="153.01" r="0.95" fill="#636363"/>
<circle cx="532.15" cy="150.57" r="0.95" fill="#636363"/>
<circle cx="519.6" cy="147.14" r="0.95" fill="#636363"/>
<circle cx="516.33" cy="148.96" r="0.95" fill="#636363"/>
<circle cx="563.09" cy="147.8" r="0.95" fill="#636363"/>
<circle cx="527.16" cy="148.66" r="0.95" fill="#636363"/>
<circle cx="518.55" cy="148.18" r="0.95" fill="#636363"/>
<circle cx="506.83" cy="152.38" r="0.95" fill="#636363"/>
<circle cx="528.89" cy="152.05" r="0.95" fill="#636363"/>
<circle cx="545.94" cy="149.44" r="0.95" fill="#636363"/>
<circle cx="553.09" cy="152.33" r="0.95" fill="#636363"/>
<circle cx="518.67" cy="149.98" r="0.95" fill="#636363"/>
<circle cx="571.72" cy="151.76" r="0.95" fill="#636363"/>
<circle cx="568.34" cy="149.13" r="0.95" fill="#636363"/>
<circle cx="529.63" cy="150.96" r="0.95" fill="#636363"/>
<circle cx="519.52" cy="150.88" r="0.95" fill="#636363"/>
<circle cx="419.8" cy="151.4" r="0.95" fill="#636363"/>
<circle cx="423" cy="157.7" r="0.95" fill="#636363"/>
<circle cx="445.4" cy="148.5" r="0.95" fill="#636363"/>
<circle cx="442.9" cy="156.2" r="0.95" fill="#636363"/>
<circle cx="447.3" cy="155" r="0.95" fill="#636363"/>
<circle cx="407" cy="155" r="0.95" fill="#636363"/>
<circle cx="432" cy="150" r="0.95" fill="#636363"/>
<circle cx="452" cy="160" r="0.95" fill="#636363"/>
<circle cx="456" cy="144" r="0.95" fill="#636363"/>
<circle cx="451" cy="150" r="0.95" fill="#636363"/>
<circle cx="508.39" cy="124.71" r="1.05" fill="#f21b1b"/>
<circle cx="507.38" cy="115.85" r="1.05" fill="#f21b1b"/>
<circle cx="511.34" cy="124.35" r="1.05" fill="#f21b1b"/>
<circle cx="516.96" cy="129.45" r="1.05" fill="#f21b1b"/>
<circle cx="503.41" cy="119.58" r="1.05" fill="#f21b1b"/>
<circle cx="529.59" cy="115.1" r="1.05" fill="#f21b1b"/>
<circle cx="517.45" cy="140.26" r="1.05" fill="#f21b1b"/>
<circle cx="524.71" cy="112.01" r="1.05" fill="#f21b1b"/>
<circle cx="513.42" cy="97.67" r="1.05" fill="#f21b1b"/>
<circle cx="509.66" cy="135.95" r="1.05" fill="#f21b1b"/>
<circle cx="511.28" cy="135.27" r="1.05" fill="#f21b1b"/>
<circle cx="514.44" cy="127.38" r="1.05" fill="#f21b1b"/>
<circle cx="505.15" cy="131.07" r="1.05" fill="#f21b1b"/>
<circle cx="513.59" cy="119.29" r="1.05" fill="#f21b1b"/>
<circle cx="516.18" cy="137.12" r="1.05" fill="#f21b1b"/>
<circle cx="513.48" cy="138.03" r="1.05" fill="#f21b1b"/>
<circle cx="518.36" cy="113.54" r="1.05" fill="#f21b1b"/>
<circle cx="518.84" cy="118.02" r="1.05" fill="#f21b1b"/>
<circle cx="508.45" cy="133.46" r="1.05" fill="#f21b1b"/>
<circle cx="503.68" cy="134.72" r="1.05" fill="#f21b1b"/>
<circle cx="503.18" cy="139.8" r="1.05" fill="#f21b1b"/>
<circle cx="524.09" cy="90.67" r="1.05" fill="#f21b1b"/>
<circle cx="503.71" cy="137.93" r="1.05" fill="#f21b1b"/>
<circle cx="517.49" cy="127.05" r="1.05" fill="#f21b1b"/>
<circle cx="513.08" cy="132.03" r="1.05" fill="#f21b1b"/>
<circle cx="509.03" cy="112.71" r="1.05" fill="#f21b1b"/>
<circle cx="518.74" cy="111.08" r="1.05" fill="#f21b1b"/>
<circle cx="514.25" cy="118.62" r="1.05" fill="#f21b1b"/>
<circle cx="506.07" cy="129.96" r="1.05" fill="#f21b1b"/>
<circle cx="508.54" cy="119.26" r="1.05" fill="#f21b1b"/>
<circle cx="520.33" cy="132.67" r="1.05" fill="#f21b1b"/>
<circle cx="514.27" cy="131.62" r="1.05" fill="#f21b1b"/>
<circle cx="522.75" cy="130.1" r="1.05" fill="#f21b1b"/>
<circle cx="515.21" cy="117.47" r="1.05" fill="#f21b1b"/>
<circle cx="507.8" cy="130.29" r="1.05" fill="#f21b1b"/>
<circle cx="509.71" cy="139.92" r="1.05" fill="#f21b1b"/>
<circle cx="511.65" cy="127.31" r="1.05" fill="#f21b1b"/>
<circle cx="511.08" cy="138.33" r="1.05" fill="#f21b1b"/>
<circle cx="509.89" cy="118.66" r="1.05" fill="#f21b1b"/>
<circle cx="517.18" cy="123.68" r="1.05" fill="#f21b1b"/>
<circle cx="503.77" cy="126.62" r="1.05" fill="#f21b1b"/>
<circle cx="515.96" cy="138.1" r="1.05" fill="#f21b1b"/>
<circle cx="517.08" cy="88.59" r="1.05" fill="#f21b1b"/>
<circle cx="503.06" cy="122.52" r="1.05" fill="#f21b1b"/>
<circle cx="520.55" cy="106.88" r="1.05" fill="#f21b1b"/>
<circle cx="502.3" cy="105.08" r="1.05" fill="#f21b1b"/>
<circle cx="520.05" cy="110.22" r="1.05" fill="#f21b1b"/>
<circle cx="508.19" cy="135.32" r="1.05" fill="#f21b1b"/>
<circle cx="503.3" cy="135.55" r="1.05" fill="#f21b1b"/>
<circle cx="508.64" cy="131.74" r="1.05" fill="#f21b1b"/>
<circle cx="538.95" cy="134.71" r="1.05" fill="#f21b1b"/>
<circle cx="510.56" cy="118.96" r="1.05" fill="#f21b1b"/>
<circle cx="511.09" cy="114.15" r="1.05" fill="#f21b1b"/>
<circle cx="529.37" cy="140.45" r="1.05" fill="#f21b1b"/>
<circle cx="503.2" cy="124.5" r="1.05" fill="#f21b1b"/>
<circle cx="503.64" cy="136.63" r="1.05" fill="#f21b1b"/>
<circle cx="508.64" cy="122.32" r="1.05" fill="#f21b1b"/>
<circle cx="502.81" cy="115.16" r="1.05" fill="#f21b1b"/>
<circle cx="504.57" cy="117.82" r="1.05" fill="#f21b1b"/>
<circle cx="512.6" cy="118.33" r="1.05" fill="#f21b1b"/>
<circle cx="508.18" cy="127.37" r="1.05" fill="#f21b1b"/>
<circle cx="504.79" cy="136.88" r="1.05" fill="#f21b1b"/>
<circle cx="524.49" cy="129.77" r="1.05" fill="#f21b1b"/>
<circle cx="503.45" cy="122.16" r="1.05" fill="#f21b1b"/>
<circle cx="510.16" cy="102.12" r="1.05" fill="#f21b1b"/>
<circle cx="508.22" cy="135.83" r="1.05" fill="#f21b1b"/>
<circle cx="522.86" cy="101.21" r="1.05" fill="#f21b1b"/>
<circle cx="515.8" cy="92.89" r="1.05" fill="#f21b1b"/>
<circle cx="518.3" cy="128.55" r="1.05" fill="#f21b1b"/>
<circle cx="514.29" cy="134.81" r="1.05" fill="#f21b1b"/>
<circle cx="510.93" cy="131.87" r="1.05" fill="#f21b1b"/>
<circle cx="512.51" cy="117.68" r="1.05" fill="#f21b1b"/>
<circle cx="508.61" cy="124.11" r="1.05" fill="#f21b1b"/>
<circle cx="517.24" cy="129.61" r="1.05" fill="#f21b1b"/>
<circle cx="503.99" cy="127.33" r="1.05" fill="#f21b1b"/>
<circle cx="508.3" cy="101.8" r="1.05" fill="#f21b1b"/>
<circle cx="511.96" cy="132" r="1.05" fill="#f21b1b"/>
<circle cx="520.4" cy="115.8" r="1.05" fill="#f21b1b"/>
<circle cx="508.38" cy="101.56" r="1.05" fill="#f21b1b"/>
<circle cx="517.72" cy="128.23" r="1.05" fill="#f21b1b"/>
<circle cx="504.28" cy="127.43" r="1.05" fill="#f21b1b"/>
<circle cx="509.26" cy="129.92" r="1.05" fill="#f21b1b"/>
<circle cx="507.25" cy="87.73" r="1.05" fill="#f21b1b"/>
<circle cx="518.71" cy="136.28" r="1.05" fill="#f21b1b"/>
<circle cx="508.55" cy="137.45" r="1.05" fill="#f21b1b"/>
<circle cx="516.91" cy="111.95" r="1.05" fill="#f21b1b"/>
<circle cx="512.09" cy="117.25" r="1.05" fill="#f21b1b"/>
<circle cx="504.47" cy="129.98" r="1.05" fill="#f21b1b"/>
<circle cx="513.67" cy="110.95" r="1.05" fill="#f21b1b"/>
<circle cx="504.22" cy="110.18" r="1.05" fill="#f21b1b"/>
<circle cx="503.39" cy="108.45" r="1.05" fill="#f21b1b"/>
<circle cx="513.66" cy="129.09" r="1.05" fill="#f21b1b"/>
<circle cx="514.65" cy="125.29" r="1.05" fill="#f21b1b"/>
<circle cx="512.13" cy="133.28" r="1.05" fill="#f21b1b"/>
<circle cx="531.05" cy="111.58" r="1.05" fill="#f21b1b"/>
<circle cx="513.03" cy="138.11" r="1.05" fill="#f21b1b"/>
<circle cx="507.45" cy="122.27" r="1.05" fill="#f21b1b"/>
<circle cx="512.21" cy="124.94" r="1.05" fill="#f21b1b"/>
<circle cx="515.75" cy="124.2" r="1.05" fill="#f21b1b"/>
<circle cx="526.84" cy="127.95" r="1.05" fill="#f21b1b"/>
<circle cx="511.81" cy="119.78" r="1.05" fill="#f21b1b"/>
<circle cx="517.15" cy="139.92" r="1.05" fill="#f21b1b"/>
<circle cx="519.5" cy="131.83" r="1.05" fill="#f21b1b"/>
<circle cx="503.13" cy="138.79" r="1.05" fill="#f21b1b"/>
<circle cx="521.54" cy="132.53" r="1.05" fill="#f21b1b"/>
<circle cx="516.37" cy="114.38" r="1.05" fill="#f21b1b"/>
<circle cx="512.05" cy="135.59" r="1.05" fill="#f21b1b"/>
<circle cx="507.88" cy="135.15" r="1.05" fill="#f21b1b"/>
<circle cx="521.95" cy="135.71" r="1.05" fill="#f21b1b"/>
<circle cx="511.43" cy="102.59" r="1.05" fill="#f21b1b"/>
<circle cx="506.49" cy="124.61" r="1.05" fill="#f21b1b"/>
<circle cx="508.44" cy="133.11" r="1.05" fill="#f21b1b"/>
<circle cx="509.06" cy="103.45" r="1.05" fill="#f21b1b"/>
<circle cx="530.2" cy="110.92" r="1.05" fill="#f21b1b"/>
<circle cx="505.01" cy="137.92" r="1.05" fill="#f21b1b"/>
<circle cx="519.29" cy="139.62" r="1.05" fill="#f21b1b"/>
<circle cx="521.16" cy="98.39" r="1.05" fill="#f21b1b"/>
<circle cx="504.58" cy="139.64" r="1.05" fill="#f21b1b"/>
<circle cx="510.79" cy="114.53" r="1.05" fill="#f21b1b"/>
<circle cx="504.71" cy="132.34" r="1.05" fill="#f21b1b"/>
<circle cx="510.56" cy="121.84" r="1.05" fill="#f21b1b"/>
<circle cx="506.89" cy="129.2" r="1.05" fill="#f21b1b"/>
<circle cx="505.36" cy="126.24" r="1.05" fill="#f21b1b"/>
<circle cx="516.14" cy="129.88" r="1.05" fill="#f21b1b"/>
<circle cx="512.14" cy="107.5" r="1.05" fill="#f21b1b"/>
<circle cx="505.9" cy="125.49" r="1.05" fill="#f21b1b"/>
<circle cx="522.04" cy="135.12" r="1.05" fill="#f21b1b"/>
<circle cx="511.99" cy="132.29" r="1.05" fill="#f21b1b"/>
<circle cx="516.36" cy="120.4" r="1.05" fill="#f21b1b"/>
<circle cx="516.2" cy="132.47" r="1.05" fill="#f21b1b"/>
<circle cx="505.35" cy="127.07" r="1.05" fill="#f21b1b"/>
<circle cx="518.48" cy="137.19" r="1.05" fill="#f21b1b"/>
<circle cx="502.83" cy="136.27" r="1.05" fill="#f21b1b"/>
<circle cx="526.73" cy="98.18" r="1.05" fill="#f21b1b"/>
<circle cx="514.56" cy="140.52" r="1.05" fill="#f21b1b"/>
<circle cx="502.82" cy="112.09" r="1.05" fill="#f21b1b"/>
<circle cx="503.22" cy="130.76" r="1.05" fill="#f21b1b"/>
<circle cx="526.5" cy="133.95" r="1.05" fill="#f21b1b"/>
<circle cx="507.92" cy="94.79" r="1.05" fill="#f21b1b"/>
<circle cx="503" cy="138.11" r="1.05" fill="#f21b1b"/>
<circle cx="503.65" cy="123.99" r="1.05" fill="#f21b1b"/>
<circle cx="524.85" cy="129.67" r="1.05" fill="#f21b1b"/>
<circle cx="522.36" cy="100.62" r="1.05" fill="#f21b1b"/>
<circle cx="524.81" cy="127.87" r="1.05" fill="#f21b1b"/>
<circle cx="510.01" cy="138.44" r="1.05" fill="#f21b1b"/>
<circle cx="513.24" cy="131.19" r="1.05" fill="#f21b1b"/>
<circle cx="504.88" cy="140.56" r="1.05" fill="#f21b1b"/>
<circle cx="509.33" cy="131.9" r="1.05" fill="#f21b1b"/>
<circle cx="507.97" cy="123.57" r="1.05" fill="#f21b1b"/>
<circle cx="508.09" cy="125.75" r="1.05" fill="#f21b1b"/>
<circle cx="503.04" cy="117.65" r="1.05" fill="#f21b1b"/>
<circle cx="521.46" cy="119.96" r="1.05" fill="#f21b1b"/>
<circle cx="509.7" cy="134.58" r="1.05" fill="#f21b1b"/>
<circle cx="504.7" cy="140.11" r="1.05" fill="#f21b1b"/>
<circle cx="510.31" cy="133.43" r="1.05" fill="#f21b1b"/>
<circle cx="514.55" cy="107.12" r="1.05" fill="#f21b1b"/>
<circle cx="511.25" cy="122.32" r="1.05" fill="#f21b1b"/>
<circle cx="518.62" cy="95.87" r="1.05" fill="#f21b1b"/>
<circle cx="510.04" cy="120.14" r="1.05" fill="#f21b1b"/>
<circle cx="514.53" cy="133.37" r="1.05" fill="#f21b1b"/>
<circle cx="508.72" cy="122.65" r="1.05" fill="#f21b1b"/>
<circle cx="507.9" cy="93.54" r="1.05" fill="#f21b1b"/>
<circle cx="516.93" cy="118.48" r="1.05" fill="#f21b1b"/>
<circle cx="516.96" cy="92.22" r="1.05" fill="#f21b1b"/>
<circle cx="507.82" cy="111.51" r="1.05" fill="#f21b1b"/>
<circle cx="525.65" cy="137.44" r="1.05" fill="#f21b1b"/>
<circle cx="507.4" cy="105.44" r="1.05" fill="#f21b1b"/>
<circle cx="509.36" cy="115.88" r="1.05" fill="#f21b1b"/>
<circle cx="523.41" cy="128.48" r="1.05" fill="#f21b1b"/>
<circle cx="507.56" cy="130.49" r="1.05" fill="#f21b1b"/>
<circle cx="514.82" cy="138.66" r="1.05" fill="#f21b1b"/>
<circle cx="505.27" cy="107.54" r="1.05" fill="#f21b1b"/>
<circle cx="508.41" cy="126.3" r="1.05" fill="#f21b1b"/>
<circle cx="521.64" cy="126.25" r="1.05" fill="#f21b1b"/>
<circle cx="520.84" cy="113.93" r="1.05" fill="#f21b1b"/>
<circle cx="504.86" cy="113.86" r="1.05" fill="#f21b1b"/>
<circle cx="513.12" cy="134.03" r="1.05" fill="#f21b1b"/>
<circle cx="515.03" cy="132.77" r="1.05" fill="#f21b1b"/>
<circle cx="506.89" cy="115.91" r="1.05" fill="#f21b1b"/>
<circle cx="535.6" cy="53.7" r="1.05" fill="#f21b1b"/>
<circle cx="557.7" cy="59.4" r="1.05" fill="#f21b1b"/>
<circle cx="523.8" cy="66.8" r="1.05" fill="#f21b1b"/>
<circle cx="511.5" cy="74.1" r="1.05" fill="#f21b1b"/>
<circle cx="538" cy="79.6" r="1.05" fill="#f21b1b"/>
<circle cx="557.3" cy="114.2" r="1.05" fill="#f21b1b"/>
<circle cx="544.4" cy="125.6" r="1.05" fill="#f21b1b"/>
<circle cx="542.8" cy="132.2" r="1.05" fill="#f21b1b"/>
<circle cx="546" cy="136.2" r="1.05" fill="#f21b1b"/>
<circle cx="463.3" cy="77.6" r="1.05" fill="#2020f0"/>
<circle cx="469.2" cy="104.3" r="1.05" fill="#2020f0"/>
<circle cx="457.2" cy="107.5" r="1.05" fill="#2020f0"/>
<circle cx="457.5" cy="110.4" r="1.05" fill="#2020f0"/>
<circle cx="458.2" cy="118.9" r="1.05" fill="#2020f0"/>
<circle cx="466.3" cy="128.2" r="1.05" fill="#2020f0"/>
<circle cx="467.2" cy="128.7" r="1.05" fill="#2020f0"/>
<circle cx="472.1" cy="124.7" r="1.05" fill="#2020f0"/>
<circle cx="473.3" cy="127.7" r="1.05" fill="#2020f0"/>
<circle cx="474.3" cy="127.2" r="1.05" fill="#2020f0"/>
<circle cx="459" cy="133.8" r="1.05" fill="#2020f0"/>
<circle cx="453.9" cy="137.9" r="1.05" fill="#2020f0"/>
<circle cx="464.1" cy="138.2" r="1.05" fill="#2020f0"/>
<circle cx="467.7" cy="136" r="1.05" fill="#2020f0"/>
<circle cx="469.9" cy="133.8" r="1.05" fill="#2020f0"/>
<circle cx="470.7" cy="138.2" r="1.05" fill="#2020f0"/>
<circle cx="458.7" cy="139.6" r="1.05" fill="#2020f0"/>
<circle cx="473.6" cy="138.9" r="1.05" fill="#2020f0"/>
<circle cx="471.4" cy="125" r="1.05" fill="#2020f0"/>
<circle cx="472.5" cy="121.5" r="1.05" fill="#2020f0"/>
<circle cx="462" cy="136.5" r="1.05" fill="#2020f0"/>
<line x1="474.66" y1="12" x2="474.66" y2="165" stroke="#111" stroke-width="1.5" stroke-dasharray="1.6 3.0"/>
<line x1="501.34" y1="12" x2="501.34" y2="165" stroke="#111" stroke-width="1.5" stroke-dasharray="1.6 3.0"/>
<line x1="395.3" y1="140.6" x2="628" y2="140.6" stroke="#111" stroke-width="1.5" stroke-dasharray="1.6 3.0"/>
<line x1="396.3" y1="11.5" x2="396.3" y2="166.1" stroke="#000" stroke-width="1.3"/>
<line x1="395.6" y1="165.5" x2="626.6" y2="165.5" stroke="#000" stroke-width="1.3"/>
<line x1="390.8" y1="165.5" x2="396.3" y2="165.5" stroke="#000" stroke-width="1.3"/>
<text x="389" y="169.5" font-size="11.3" font-weight="bold" text-anchor="end" fill="#000" >0</text>
<line x1="390.8" y1="127.2" x2="396.3" y2="127.2" stroke="#000" stroke-width="1.3"/>
<text x="389" y="131.2" font-size="11.3" font-weight="bold" text-anchor="end" fill="#000" >2</text>
<line x1="390.8" y1="88.9" x2="396.3" y2="88.9" stroke="#000" stroke-width="1.3"/>
<text x="389" y="92.9" font-size="11.3" font-weight="bold" text-anchor="end" fill="#000" >4</text>
<line x1="390.8" y1="50.6" x2="396.3" y2="50.6" stroke="#000" stroke-width="1.3"/>
<text x="389" y="54.6" font-size="11.3" font-weight="bold" text-anchor="end" fill="#000" >6</text>
<line x1="390.8" y1="12.3" x2="396.3" y2="12.3" stroke="#000" stroke-width="1.3"/>
<text x="389" y="16.3" font-size="11.3" font-weight="bold" text-anchor="end" fill="#000" >8</text>
<line x1="396" y1="165.5" x2="396" y2="171" stroke="#000" stroke-width="1.3"/>
<text x="394.5" y="184.5" font-size="11.3" font-weight="bold" text-anchor="middle" fill="#000" >-4</text>
<line x1="442" y1="165.5" x2="442" y2="171" stroke="#000" stroke-width="1.3"/>
<text x="440.5" y="184.5" font-size="11.3" font-weight="bold" text-anchor="middle" fill="#000" >-2</text>
<line x1="488" y1="165.5" x2="488" y2="171" stroke="#000" stroke-width="1.3"/>
<text x="488" y="184.5" font-size="11.3" font-weight="bold" text-anchor="middle" fill="#000" >0</text>
<line x1="534" y1="165.5" x2="534" y2="171" stroke="#000" stroke-width="1.3"/>
<text x="534" y="184.5" font-size="11.3" font-weight="bold" text-anchor="middle" fill="#000" >2</text>
<line x1="580" y1="165.5" x2="580" y2="171" stroke="#000" stroke-width="1.3"/>
<text x="580" y="184.5" font-size="11.3" font-weight="bold" text-anchor="middle" fill="#000" >4</text>
<line x1="626" y1="165.5" x2="626" y2="171" stroke="#000" stroke-width="1.3"/>
<text x="626" y="184.5" font-size="11.3" font-weight="bold" text-anchor="middle" fill="#000" >6</text>
<text x="398.2" y="149.3" font-size="9.8" font-weight="normal" text-anchor="start" fill="#000" stroke="#000" stroke-width="0.25"><tspan font-style="italic">p</tspan>=0.05</text>
<text x="523" y="198.3" font-size="11.4" font-weight="bold" text-anchor="middle">Log<tspan font-size="8" dy="2.5">2</tspan><tspan dy="-2.5">FC (LNM-sEVs vs NLNM-sEVs)</tspan></text>
<text transform="translate(372.7,88.8) rotate(-90)" font-size="11.4" font-weight="bold" text-anchor="middle">-Log<tspan font-size="8.5" dy="2.5">10</tspan><tspan dy="-2.5"> (P value)</tspan></text>
<circle cx="542.4" cy="11" r="2.2" fill="#1a1ae6"/>
<text x="554.8" y="14" font-size="10.3" font-weight="bold" text-anchor="start" fill="#000" >Down-regulated</text>
<circle cx="542.4" cy="27.8" r="2.2" fill="#f22020"/>
<text x="554.8" y="31.8" font-size="10.3" font-weight="bold" text-anchor="start" fill="#000" >Up-regulated</text>
<circle cx="542.4" cy="46.4" r="2.2" fill="#808080"/>
<text x="554.8" y="51" font-size="10.3" font-weight="bold" text-anchor="start" fill="#000" >No change</text>
<g transform="translate(111.1,0) scale(1.0,1) translate(-111.1,0)">
<path d="M111.1,237.8 A95.5,95.5 0 0 1 157.4,249.77 L141.79,277.94 A63.3,63.3 0 0 0 111.1,270 Z" fill="#b2b2b2"/>
<path d="M111.1,261.9 A71.4,71.4 0 0 1 145.72,270.85" fill="none" stroke="#fff" stroke-width="0.9"/>
<path d="M111.1,253.9 A79.4,79.4 0 0 1 149.59,263.86" fill="none" stroke="#fff" stroke-width="0.9"/>
<path d="M111.1,245.8 A87.5,87.5 0 0 1 153.52,256.77" fill="none" stroke="#fff" stroke-width="0.9"/>
<path d="M167.23,256.04 A95.5,95.5 0 0 1 197.65,292.94 L168.47,306.55 A63.3,63.3 0 0 0 148.31,282.09 Z" fill="#b2b2b2"/>
<path d="M153.07,275.54 A71.4,71.4 0 0 1 175.81,303.13" fill="none" stroke="#fff" stroke-width="0.9"/>
<path d="M157.77,269.06 A79.4,79.4 0 0 1 183.06,299.74" fill="none" stroke="#fff" stroke-width="0.9"/>
<path d="M162.53,262.51 A87.5,87.5 0 0 1 190.4,296.32" fill="none" stroke="#fff" stroke-width="0.9"/>
<path d="M201.93,303.79 A95.5,95.5 0 0 1 204.85,351.52 L173.24,345.38 A63.3,63.3 0 0 0 171.3,313.74 Z" fill="#b2b2b2"/>
<path d="M179.01,311.24 A71.4,71.4 0 0 1 181.19,346.92" fill="none" stroke="#fff" stroke-width="0.9"/>
<path d="M186.61,308.76 A79.4,79.4 0 0 1 189.04,348.45" fill="none" stroke="#fff" stroke-width="0.9"/>
<path d="M194.32,306.26 A87.5,87.5 0 0 1 196.99,350" fill="none" stroke="#fff" stroke-width="0.9"/>
<path d="M201.93,362.81 A95.5,95.5 0 0 1 176.23,403.14 L154.27,379.59 A63.3,63.3 0 0 0 171.3,352.86 Z" fill="#b2b2b2"/>
<path d="M179.01,355.36 A71.4,71.4 0 0 1 159.79,385.52" fill="none" stroke="#fff" stroke-width="0.9"/>
<path d="M186.61,357.84 A79.4,79.4 0 0 1 165.25,391.37" fill="none" stroke="#fff" stroke-width="0.9"/>
<path d="M194.32,360.34 A87.5,87.5 0 0 1 170.77,397.29" fill="none" stroke="#fff" stroke-width="0.9"/>
<path d="M167.23,410.56 A95.5,95.5 0 0 1 122.74,428.09 L118.81,396.13 A63.3,63.3 0 0 0 148.31,384.51 Z" fill="#b2b2b2"/>
<path d="M153.07,391.06 A71.4,71.4 0 0 1 119.8,404.17" fill="none" stroke="#fff" stroke-width="0.9"/>
<path d="M157.77,397.54 A79.4,79.4 0 0 1 120.78,412.11" fill="none" stroke="#fff" stroke-width="0.9"/>
<path d="M162.53,404.09 A87.5,87.5 0 0 1 121.76,420.15" fill="none" stroke="#fff" stroke-width="0.9"/>
<path d="M111.1,428.8 A95.5,95.5 0 0 1 64.8,416.83 L80.41,388.66 A63.3,63.3 0 0 0 111.1,396.6 Z" fill="#b2b2b2"/>
<path d="M111.1,404.7 A71.4,71.4 0 0 1 76.48,395.75" fill="none" stroke="#fff" stroke-width="0.9"/>
<path d="M111.1,412.7 A79.4,79.4 0 0 1 72.61,402.74" fill="none" stroke="#fff" stroke-width="0.9"/>
<path d="M111.1,420.8 A87.5,87.5 0 0 1 68.68,409.83" fill="none" stroke="#fff" stroke-width="0.9"/>
<path d="M54.97,410.56 A95.5,95.5 0 0 1 24.55,373.66 L53.73,360.05 A63.3,63.3 0 0 0 73.89,384.51 Z" fill="#b2b2b2"/>
<path d="M69.13,391.06 A71.4,71.4 0 0 1 46.39,363.47" fill="none" stroke="#fff" stroke-width="0.9"/>
<path d="M64.43,397.54 A79.4,79.4 0 0 1 39.14,366.86" fill="none" stroke="#fff" stroke-width="0.9"/>
<path d="M59.67,404.09 A87.5,87.5 0 0 1 31.8,370.28" fill="none" stroke="#fff" stroke-width="0.9"/>
<path d="M20.27,362.81 A95.5,95.5 0 0 1 17.35,315.08 L48.96,321.22 A63.3,63.3 0 0 0 50.9,352.86 Z" fill="#b2b2b2"/>
<path d="M43.19,355.36 A71.4,71.4 0 0 1 41.01,319.68" fill="none" stroke="#fff" stroke-width="0.9"/>
<path d="M35.59,357.84 A79.4,79.4 0 0 1 33.16,318.15" fill="none" stroke="#fff" stroke-width="0.9"/>
<path d="M27.88,360.34 A87.5,87.5 0 0 1 25.21,316.6" fill="none" stroke="#fff" stroke-width="0.9"/>
<path d="M20.27,303.79 A95.5,95.5 0 0 1 45.97,263.46 L67.93,287.01 A63.3,63.3 0 0 0 50.9,313.74 Z" fill="#b2b2b2"/>
<path d="M43.19,311.24 A71.4,71.4 0 0 1 62.41,281.08" fill="none" stroke="#fff" stroke-width="0.9"/>
<path d="M35.59,308.76 A79.4,79.4 0 0 1 56.95,275.23" fill="none" stroke="#fff" stroke-width="0.9"/>
<path d="M27.88,306.26 A87.5,87.5 0 0 1 51.43,269.31" fill="none" stroke="#fff" stroke-width="0.9"/>
<path d="M54.97,256.04 A95.5,95.5 0 0 1 99.46,238.51 L103.39,270.47 A63.3,63.3 0 0 0 73.89,282.09 Z" fill="#b2b2b2"/>
<path d="M69.13,275.54 A71.4,71.4 0 0 1 102.4,262.43" fill="none" stroke="#fff" stroke-width="0.9"/>
<path d="M64.43,269.06 A79.4,79.4 0 0 1 101.42,254.49" fill="none" stroke="#fff" stroke-width="0.9"/>
<path d="M59.67,262.51 A87.5,87.5 0 0 1 100.44,246.45" fill="none" stroke="#fff" stroke-width="0.9"/>
<circle cx="115.96" cy="248.16" r="1.95" fill="#ec2828" stroke="#9a1414" stroke-width="0.45"/>
<circle cx="118.82" cy="250.94" r="1.95" fill="#ec2828" stroke="#9a1414" stroke-width="0.45"/>
<circle cx="120.88" cy="250.6" r="1.95" fill="#ec2828" stroke="#9a1414" stroke-width="0.45"/>
<circle cx="121.29" cy="253.76" r="1.95" fill="#ec2828" stroke="#9a1414" stroke-width="0.45"/>
<circle cx="123.78" cy="254.36" r="1.95" fill="#ec2828" stroke="#9a1414" stroke-width="0.45"/>
<circle cx="124.24" cy="254.75" r="1.95" fill="#ec2828" stroke="#9a1414" stroke-width="0.45"/>
<circle cx="126.94" cy="254.33" r="1.95" fill="#ec2828" stroke="#9a1414" stroke-width="0.45"/>
<circle cx="130.51" cy="248.93" r="1.95" fill="#ec2828" stroke="#9a1414" stroke-width="0.45"/>
<circle cx="134.12" cy="248.16" r="1.95" fill="#ec2828" stroke="#9a1414" stroke-width="0.45"/>
<circle cx="136.11" cy="249.73" r="1.95" fill="#ec2828" stroke="#9a1414" stroke-width="0.45"/>
<circle cx="136.16" cy="250.64" r="1.95" fill="#ec2828" stroke="#9a1414" stroke-width="0.45"/>
<circle cx="138.4" cy="249.95" r="1.95" fill="#ec2828" stroke="#9a1414" stroke-width="0.45"/>
<circle cx="139.56" cy="249.78" r="1.95" fill="#ec2828" stroke="#9a1414" stroke-width="0.45"/>
<circle cx="139.15" cy="252.09" r="1.95" fill="#ec2828" stroke="#9a1414" stroke-width="0.45"/>
<circle cx="142.05" cy="252.57" r="1.95" fill="#ec2828" stroke="#9a1414" stroke-width="0.45"/>
<circle cx="143.18" cy="254.79" r="1.95" fill="#ec2828" stroke="#9a1414" stroke-width="0.45"/>
<circle cx="144.48" cy="257.52" r="1.95" fill="#ec2828" stroke="#9a1414" stroke-width="0.45"/>
<circle cx="145.39" cy="259.41" r="1.95" fill="#ec2828" stroke="#9a1414" stroke-width="0.45"/>
<circle cx="151.69" cy="254.1" r="1.95" fill="#ec2828" stroke="#9a1414" stroke-width="0.45"/>
<circle cx="121.9" cy="245.6" r="1.95" fill="#ec2828" stroke="#9a1414" stroke-width="0.45"/>
<circle cx="123.28" cy="244.31" r="1.95" fill="#ec2828" stroke="#9a1414" stroke-width="0.45"/>
<circle cx="123.82" cy="244.15" r="1.95" fill="#ec2828" stroke="#9a1414" stroke-width="0.45"/>
<circle cx="114.92" cy="260.65" r="1.95" fill="#6a90e8" stroke="#34549e" stroke-width="0.45"/>
<circle cx="125.65" cy="261.76" r="1.95" fill="#6a90e8" stroke="#34549e" stroke-width="0.45"/>
<circle cx="136.74" cy="264.95" r="1.95" fill="#6a90e8" stroke="#34549e" stroke-width="0.45"/>
<circle cx="142.66" cy="267.48" r="1.95" fill="#6a90e8" stroke="#34549e" stroke-width="0.45"/>
<circle cx="144.19" cy="268.54" r="1.95" fill="#6a90e8" stroke="#34549e" stroke-width="0.45"/>
<circle cx="167.82" cy="262.74" r="1.95" fill="#ec2828" stroke="#9a1414" stroke-width="0.45"/>
<circle cx="170.46" cy="264.33" r="1.95" fill="#ec2828" stroke="#9a1414" stroke-width="0.45"/>
<circle cx="171.02" cy="264.81" r="1.95" fill="#ec2828" stroke="#9a1414" stroke-width="0.45"/>
<circle cx="171.41" cy="265.16" r="1.95" fill="#ec2828" stroke="#9a1414" stroke-width="0.45"/>
<circle cx="173.76" cy="267.31" r="1.95" fill="#ec2828" stroke="#9a1414" stroke-width="0.45"/>
<circle cx="175.15" cy="268.65" r="1.95" fill="#ec2828" stroke="#9a1414" stroke-width="0.45"/>
<circle cx="175.76" cy="269.45" r="1.95" fill="#ec2828" stroke="#9a1414" stroke-width="0.45"/>
<circle cx="176.73" cy="272.14" r="1.95" fill="#ec2828" stroke="#9a1414" stroke-width="0.45"/>
<circle cx="176.23" cy="273.57" r="1.95" fill="#ec2828" stroke="#9a1414" stroke-width="0.45"/>
<circle cx="177.61" cy="274.02" r="1.95" fill="#ec2828" stroke="#9a1414" stroke-width="0.45"/>
<circle cx="180.52" cy="276.47" r="1.95" fill="#ec2828" stroke="#9a1414" stroke-width="0.45"/>
<circle cx="181.25" cy="280.25" r="1.95" fill="#ec2828" stroke="#9a1414" stroke-width="0.45"/>
<circle cx="179.13" cy="283.1" r="1.95" fill="#ec2828" stroke="#9a1414" stroke-width="0.45"/>
<circle cx="182.74" cy="283.57" r="1.95" fill="#ec2828" stroke="#9a1414" stroke-width="0.45"/>
<circle cx="184.36" cy="283.24" r="1.95" fill="#ec2828" stroke="#9a1414" stroke-width="0.45"/>
<circle cx="184.95" cy="284.3" r="1.95" fill="#ec2828" stroke="#9a1414" stroke-width="0.45"/>
<circle cx="185.83" cy="287.31" r="1.95" fill="#ec2828" stroke="#9a1414" stroke-width="0.45"/>
<circle cx="187.51" cy="286.94" r="1.95" fill="#ec2828" stroke="#9a1414" stroke-width="0.45"/>
<circle cx="186.6" cy="288.2" r="1.95" fill="#ec2828" stroke="#9a1414" stroke-width="0.45"/>
<circle cx="187.1" cy="290.68" r="1.95" fill="#ec2828" stroke="#9a1414" stroke-width="0.45"/>
<circle cx="155.8" cy="278.85" r="1.95" fill="#6a90e8" stroke="#34549e" stroke-width="0.45"/>
<circle cx="163.46" cy="283.8" r="1.95" fill="#6a90e8" stroke="#34549e" stroke-width="0.45"/>
<circle cx="165.9" cy="285.07" r="1.95" fill="#6a90e8" stroke="#34549e" stroke-width="0.45"/>
<circle cx="171.26" cy="291.95" r="1.95" fill="#6a90e8" stroke="#34549e" stroke-width="0.45"/>
<circle cx="173.03" cy="294.66" r="1.95" fill="#6a90e8" stroke="#34549e" stroke-width="0.45"/>
<circle cx="157.07" cy="276.6" r="1.95" fill="#6a90e8" stroke="#34549e" stroke-width="0.45"/>
<circle cx="187.8" cy="312.96" r="1.95" fill="#ec2828" stroke="#9a1414" stroke-width="0.45"/>
<circle cx="186.61" cy="313.77" r="1.95" fill="#ec2828" stroke="#9a1414" stroke-width="0.45"/>
<circle cx="187.77" cy="317.67" r="1.95" fill="#ec2828" stroke="#9a1414" stroke-width="0.45"/>
<circle cx="191.4" cy="318.35" r="1.95" fill="#ec2828" stroke="#9a1414" stroke-width="0.45"/>
<circle cx="190.5" cy="322.2" r="1.95" fill="#ec2828" stroke="#9a1414" stroke-width="0.45"/>
<circle cx="189.6" cy="323.36" r="1.95" fill="#ec2828" stroke="#9a1414" stroke-width="0.45"/>
<circle cx="191.37" cy="326.38" r="1.95" fill="#ec2828" stroke="#9a1414" stroke-width="0.45"/>
<circle cx="192.21" cy="328.92" r="1.95" fill="#ec2828" stroke="#9a1414" stroke-width="0.45"/>
<circle cx="190.98" cy="332.71" r="1.95" fill="#ec2828" stroke="#9a1414" stroke-width="0.45"/>
<circle cx="189.74" cy="336.64" r="1.95" fill="#ec2828" stroke="#9a1414" stroke-width="0.45"/>
<circle cx="191.41" cy="337.86" r="1.95" fill="#ec2828" stroke="#9a1414" stroke-width="0.45"/>
<circle cx="191.45" cy="340" r="1.95" fill="#ec2828" stroke="#9a1414" stroke-width="0.45"/>
<circle cx="192.33" cy="340.66" r="1.95" fill="#ec2828" stroke="#9a1414" stroke-width="0.45"/>
<circle cx="193.92" cy="343.54" r="1.95" fill="#ec2828" stroke="#9a1414" stroke-width="0.45"/>
<circle cx="190.84" cy="344.04" r="1.95" fill="#ec2828" stroke="#9a1414" stroke-width="0.45"/>
<circle cx="193.43" cy="316.73" r="1.95" fill="#ec2828" stroke="#9a1414" stroke-width="0.45"/>
<circle cx="175.49" cy="314.39" r="1.95" fill="#6a90e8" stroke="#34549e" stroke-width="0.45"/>
<circle cx="177.84" cy="327.42" r="1.95" fill="#6a90e8" stroke="#34549e" stroke-width="0.45"/>
<circle cx="178.39" cy="337.9" r="1.95" fill="#6a90e8" stroke="#34549e" stroke-width="0.45"/>
<circle cx="176.78" cy="318.45" r="1.95" fill="#6a90e8" stroke="#34549e" stroke-width="0.45"/>
<circle cx="191.17" cy="362.12" r="1.95" fill="#ec2828" stroke="#9a1414" stroke-width="0.45"/>
<circle cx="195.39" cy="367.59" r="1.95" fill="#ec2828" stroke="#9a1414" stroke-width="0.45"/>
<circle cx="193.36" cy="371.55" r="1.95" fill="#ec2828" stroke="#9a1414" stroke-width="0.45"/>
<circle cx="188.58" cy="373.53" r="1.95" fill="#ec2828" stroke="#9a1414" stroke-width="0.45"/>
<circle cx="184.77" cy="376.32" r="1.95" fill="#ec2828" stroke="#9a1414" stroke-width="0.45"/>
<circle cx="184.82" cy="381.33" r="1.95" fill="#ec2828" stroke="#9a1414" stroke-width="0.45"/>
<circle cx="179.72" cy="382.81" r="1.95" fill="#ec2828" stroke="#9a1414" stroke-width="0.45"/>
<circle cx="178.83" cy="387.19" r="1.95" fill="#ec2828" stroke="#9a1414" stroke-width="0.45"/>
<circle cx="175.86" cy="388.38" r="1.95" fill="#ec2828" stroke="#9a1414" stroke-width="0.45"/>
<circle cx="172.87" cy="389.47" r="1.95" fill="#ec2828" stroke="#9a1414" stroke-width="0.45"/>
<circle cx="172.87" cy="393.49" r="1.95" fill="#ec2828" stroke="#9a1414" stroke-width="0.45"/>
<circle cx="189.74" cy="372.27" r="1.95" fill="#ec2828" stroke="#9a1414" stroke-width="0.45"/>
<circle cx="185.69" cy="374.1" r="1.95" fill="#ec2828" stroke="#9a1414" stroke-width="0.45"/>
<circle cx="186.29" cy="377.72" r="1.95" fill="#ec2828" stroke="#9a1414" stroke-width="0.45"/>
<circle cx="185.52" cy="379.93" r="1.95" fill="#ec2828" stroke="#9a1414" stroke-width="0.45"/>
<circle cx="182.88" cy="382.53" r="1.95" fill="#ec2828" stroke="#9a1414" stroke-width="0.45"/>
<circle cx="177.83" cy="358.11" r="1.95" fill="#6a90e8" stroke="#34549e" stroke-width="0.45"/>
<circle cx="173.9" cy="363.53" r="1.95" fill="#6a90e8" stroke="#34549e" stroke-width="0.45"/>
<circle cx="171.41" cy="371.1" r="1.95" fill="#6a90e8" stroke="#34549e" stroke-width="0.45"/>
<circle cx="170.14" cy="371.58" r="1.95" fill="#6a90e8" stroke="#34549e" stroke-width="0.45"/>
<circle cx="167.16" cy="374.75" r="1.95" fill="#6a90e8" stroke="#34549e" stroke-width="0.45"/>
<circle cx="155.65" cy="407.54" r="1.95" fill="#ec2828" stroke="#9a1414" stroke-width="0.45"/>
<circle cx="154.15" cy="410.17" r="1.95" fill="#ec2828" stroke="#9a1414" stroke-width="0.45"/>
<circle cx="150.28" cy="410.83" r="1.95" fill="#ec2828" stroke="#9a1414" stroke-width="0.45"/>
<circle cx="147.45" cy="408.2" r="1.95" fill="#ec2828" stroke="#9a1414" stroke-width="0.45"/>
<circle cx="143.79" cy="411.69" r="1.95" fill="#ec2828" stroke="#9a1414" stroke-width="0.45"/>
<circle cx="138.72" cy="411.31" r="1.95" fill="#ec2828" stroke="#9a1414" stroke-width="0.45"/>
<circle cx="137.54" cy="413.76" r="1.95" fill="#ec2828" stroke="#9a1414" stroke-width="0.45"/>
<circle cx="135.26" cy="410.09" r="1.95" fill="#ec2828" stroke="#9a1414" stroke-width="0.45"/>
<circle cx="131.19" cy="411.35" r="1.95" fill="#ec2828" stroke="#9a1414" stroke-width="0.45"/>
<circle cx="127.98" cy="413.82" r="1.95" fill="#ec2828" stroke="#9a1414" stroke-width="0.45"/>
<circle cx="126.71" cy="413.52" r="1.95" fill="#ec2828" stroke="#9a1414" stroke-width="0.45"/>
<circle cx="124.23" cy="413.72" r="1.95" fill="#ec2828" stroke="#9a1414" stroke-width="0.45"/>
<circle cx="152.12" cy="405.45" r="1.95" fill="#ec2828" stroke="#9a1414" stroke-width="0.45"/>
<circle cx="148.94" cy="405.27" r="1.95" fill="#ec2828" stroke="#9a1414" stroke-width="0.45"/>
<circle cx="147.57" cy="390.04" r="1.95" fill="#6a90e8" stroke="#34549e" stroke-width="0.45"/>
<circle cx="145.12" cy="392.06" r="1.95" fill="#6a90e8" stroke="#34549e" stroke-width="0.45"/>
<circle cx="105.77" cy="415.14" r="1.95" fill="#ec2828" stroke="#9a1414" stroke-width="0.45"/>
<circle cx="101.26" cy="415.91" r="1.95" fill="#ec2828" stroke="#9a1414" stroke-width="0.45"/>
<circle cx="98.51" cy="415.68" r="1.95" fill="#ec2828" stroke="#9a1414" stroke-width="0.45"/>
<circle cx="97.83" cy="416.36" r="1.95" fill="#ec2828" stroke="#9a1414" stroke-width="0.45"/>
<circle cx="96.93" cy="414.77" r="1.95" fill="#ec2828" stroke="#9a1414" stroke-width="0.45"/>
<circle cx="96.56" cy="413.04" r="1.95" fill="#ec2828" stroke="#9a1414" stroke-width="0.45"/>
<circle cx="93.48" cy="410.63" r="1.95" fill="#ec2828" stroke="#9a1414" stroke-width="0.45"/>
<circle cx="89.48" cy="411.64" r="1.95" fill="#ec2828" stroke="#9a1414" stroke-width="0.45"/>
<circle cx="86.84" cy="407.43" r="1.95" fill="#ec2828" stroke="#9a1414" stroke-width="0.45"/>
<circle cx="85.55" cy="407" r="1.95" fill="#ec2828" stroke="#9a1414" stroke-width="0.45"/>
<circle cx="85.04" cy="407.05" r="1.95" fill="#ec2828" stroke="#9a1414" stroke-width="0.45"/>
<circle cx="82.62" cy="405.92" r="1.95" fill="#ec2828" stroke="#9a1414" stroke-width="0.45"/>
<circle cx="81.04" cy="405.28" r="1.95" fill="#ec2828" stroke="#9a1414" stroke-width="0.45"/>
<circle cx="106.24" cy="404.67" r="1.95" fill="#6a90e8" stroke="#34549e" stroke-width="0.45"/>
<circle cx="93.47" cy="400.03" r="1.95" fill="#6a90e8" stroke="#34549e" stroke-width="0.45"/>
<circle cx="59.54" cy="394.06" r="1.95" fill="#ec2828" stroke="#9a1414" stroke-width="0.45"/>
<circle cx="55.41" cy="393.97" r="1.95" fill="#ec2828" stroke="#9a1414" stroke-width="0.45"/>
<circle cx="51.09" cy="392.3" r="1.95" fill="#ec2828" stroke="#9a1414" stroke-width="0.45"/>
<circle cx="49.22" cy="388.63" r="1.95" fill="#ec2828" stroke="#9a1414" stroke-width="0.45"/>
<circle cx="44.31" cy="385.13" r="1.95" fill="#ec2828" stroke="#9a1414" stroke-width="0.45"/>
<circle cx="46.42" cy="379.5" r="1.95" fill="#ec2828" stroke="#9a1414" stroke-width="0.45"/>
<circle cx="43.23" cy="376.52" r="1.95" fill="#ec2828" stroke="#9a1414" stroke-width="0.45"/>
<circle cx="37.59" cy="373.63" r="1.95" fill="#ec2828" stroke="#9a1414" stroke-width="0.45"/>
<circle cx="53.08" cy="395.31" r="1.95" fill="#ec2828" stroke="#9a1414" stroke-width="0.45"/>
<circle cx="45.09" cy="393.77" r="1.95" fill="#ec2828" stroke="#9a1414" stroke-width="0.45"/>
<circle cx="43.63" cy="386.19" r="1.95" fill="#ec2828" stroke="#9a1414" stroke-width="0.45"/>
<circle cx="63.73" cy="387.7" r="1.95" fill="#6a90e8" stroke="#34549e" stroke-width="0.45"/>
<circle cx="54.43" cy="379.31" r="1.95" fill="#6a90e8" stroke="#34549e" stroke-width="0.45"/>
<circle cx="35.26" cy="353.05" r="1.95" fill="#ec2828" stroke="#9a1414" stroke-width="0.45"/>
<circle cx="30.66" cy="349.24" r="1.95" fill="#ec2828" stroke="#9a1414" stroke-width="0.45"/>
<circle cx="28.88" cy="348.13" r="1.95" fill="#ec2828" stroke="#9a1414" stroke-width="0.45"/>
<circle cx="28.22" cy="345.88" r="1.95" fill="#ec2828" stroke="#9a1414" stroke-width="0.45"/>
<circle cx="29.2" cy="344.43" r="1.95" fill="#ec2828" stroke="#9a1414" stroke-width="0.45"/>
<circle cx="29.51" cy="341.1" r="1.95" fill="#ec2828" stroke="#9a1414" stroke-width="0.45"/>
<circle cx="33.18" cy="336.73" r="1.95" fill="#ec2828" stroke="#9a1414" stroke-width="0.45"/>
<circle cx="33.12" cy="331.41" r="1.95" fill="#ec2828" stroke="#9a1414" stroke-width="0.45"/>
<circle cx="32.9" cy="330.51" r="1.95" fill="#ec2828" stroke="#9a1414" stroke-width="0.45"/>
<circle cx="33.22" cy="328.94" r="1.95" fill="#ec2828" stroke="#9a1414" stroke-width="0.45"/>
<circle cx="33.57" cy="324.75" r="1.95" fill="#ec2828" stroke="#9a1414" stroke-width="0.45"/>
<circle cx="34.07" cy="321.04" r="1.95" fill="#ec2828" stroke="#9a1414" stroke-width="0.45"/>
<circle cx="41.49" cy="351.97" r="1.95" fill="#6a90e8" stroke="#34549e" stroke-width="0.45"/>
<circle cx="38.26" cy="338.13" r="1.95" fill="#6a90e8" stroke="#34549e" stroke-width="0.45"/>
<circle cx="38.85" cy="322.89" r="1.95" fill="#6a90e8" stroke="#34549e" stroke-width="0.45"/>
<circle cx="39.7" cy="348.52" r="1.95" fill="#6a90e8" stroke="#34549e" stroke-width="0.45"/>
<circle cx="38.37" cy="304.12" r="1.95" fill="#ec2828" stroke="#9a1414" stroke-width="0.45"/>
<circle cx="41.13" cy="298.83" r="1.95" fill="#ec2828" stroke="#9a1414" stroke-width="0.45"/>
<circle cx="43.48" cy="294.43" r="1.95" fill="#ec2828" stroke="#9a1414" stroke-width="0.45"/>
<circle cx="45.37" cy="291.3" r="1.95" fill="#ec2828" stroke="#9a1414" stroke-width="0.45"/>
<circle cx="45.68" cy="290.48" r="1.95" fill="#ec2828" stroke="#9a1414" stroke-width="0.45"/>
<circle cx="47.83" cy="287.69" r="1.95" fill="#ec2828" stroke="#9a1414" stroke-width="0.45"/>
<circle cx="49.13" cy="281.38" r="1.95" fill="#ec2828" stroke="#9a1414" stroke-width="0.45"/>
<circle cx="51.33" cy="280.55" r="1.95" fill="#ec2828" stroke="#9a1414" stroke-width="0.45"/>
<circle cx="53.21" cy="278.22" r="1.95" fill="#ec2828" stroke="#9a1414" stroke-width="0.45"/>
<circle cx="41.3" cy="298.46" r="1.95" fill="#ec2828" stroke="#9a1414" stroke-width="0.45"/>
<circle cx="41.77" cy="296.94" r="1.95" fill="#ec2828" stroke="#9a1414" stroke-width="0.45"/>
<circle cx="49.09" cy="307.57" r="1.95" fill="#6a90e8" stroke="#34549e" stroke-width="0.45"/>
<circle cx="62.98" cy="260.9" r="1.95" fill="#ec2828" stroke="#9a1414" stroke-width="0.45"/>
<circle cx="66.92" cy="260.62" r="1.95" fill="#ec2828" stroke="#9a1414" stroke-width="0.45"/>
<circle cx="67.09" cy="257.71" r="1.95" fill="#ec2828" stroke="#9a1414" stroke-width="0.45"/>
<circle cx="72.54" cy="252.7" r="1.95" fill="#ec2828" stroke="#9a1414" stroke-width="0.45"/>
<circle cx="74.59" cy="249.94" r="1.95" fill="#ec2828" stroke="#9a1414" stroke-width="0.45"/>
<circle cx="77.82" cy="251.1" r="1.95" fill="#ec2828" stroke="#9a1414" stroke-width="0.45"/>
<circle cx="81.77" cy="250.08" r="1.95" fill="#ec2828" stroke="#9a1414" stroke-width="0.45"/>
<circle cx="86.29" cy="249.95" r="1.95" fill="#ec2828" stroke="#9a1414" stroke-width="0.45"/>
<circle cx="73.53" cy="273.26" r="1.95" fill="#6a90e8" stroke="#34549e" stroke-width="0.45"/>
<circle cx="83.07" cy="266.3" r="1.95" fill="#6a90e8" stroke="#34549e" stroke-width="0.45"/>
<circle cx="73.19" cy="274.22" r="1.95" fill="#6a90e8" stroke="#34549e" stroke-width="0.45"/>
<path d="M111.1,273.1 A60.2,60.2 0 0 1 140.29,280.65 L126.27,305.92 A31.3,31.3 0 0 0 111.1,302 Z" fill="#fa2e16" stroke="#222" stroke-width="0.7"/>
<path d="M143.49,288.72 A55.1,55.1 0 0 1 161.04,310.01 L139.47,320.07 A31.3,31.3 0 0 0 129.5,307.98 Z" fill="#f07156" stroke="#222" stroke-width="0.7"/>
<path d="M164.26,316.03 A55.9,55.9 0 0 1 165.97,343.97 L141.82,339.27 A31.3,31.3 0 0 0 140.87,323.63 Z" fill="#f07156" stroke="#222" stroke-width="0.7"/>
<path d="M164.64,350.7 A56.3,56.3 0 0 1 149.5,374.48 L132.45,356.19 A31.3,31.3 0 0 0 140.87,342.97 Z" fill="#f06e52" stroke="#222" stroke-width="0.7"/>
<path d="M142.84,376.99 A54,54 0 0 1 117.68,386.9 L114.91,364.37 A31.3,31.3 0 0 0 129.5,358.62 Z" fill="#f46448" stroke="#222" stroke-width="0.7"/>
<path d="M111.1,386.5 A53.2,53.2 0 0 1 85.31,379.83 L95.93,360.68 A31.3,31.3 0 0 0 111.1,364.6 Z" fill="#f45538" stroke="#222" stroke-width="0.7"/>
<path d="M80.42,375.53 A52.2,52.2 0 0 1 63.79,355.36 L82.73,346.53 A31.3,31.3 0 0 0 92.7,358.62 Z" fill="#f83f24" stroke="#222" stroke-width="0.7"/>
<path d="M65.45,348.13 A48,48 0 0 1 63.98,324.14 L80.38,327.33 A31.3,31.3 0 0 0 81.33,342.97 Z" fill="#f08068" stroke="#222" stroke-width="0.7"/>
<path d="M75.34,321.68 A37.6,37.6 0 0 1 85.46,305.8 L89.75,310.41 A31.3,31.3 0 0 0 81.33,323.63 Z" fill="#f81e0a" stroke="#222" stroke-width="0.7"/>
<path d="M89.35,303.37 A37,37 0 0 1 106.59,296.58 L107.29,302.23 A31.3,31.3 0 0 0 92.7,307.98 Z" fill="#f25a3e" stroke="#222" stroke-width="0.7"/>
<text transform="rotate(14.5 111.1 333.3)" x="111.1" y="230.7" font-size="7.8" text-anchor="middle" fill="#111" stroke="#111" stroke-width="0.3">GO:0042060</text>
<text transform="rotate(50.5 111.1 333.3)" x="111.1" y="230.7" font-size="7.8" text-anchor="middle" fill="#111" stroke="#111" stroke-width="0.3">GO:0007596</text>
<text transform="rotate(86.5 111.1 333.3)" x="111.1" y="230.7" font-size="7.8" text-anchor="middle" fill="#111" stroke="#111" stroke-width="0.3">GO:0007599</text>
<text transform="rotate(122.5 111.1 333.3)" x="111.1" y="230.7" font-size="7.8" text-anchor="middle" fill="#111" stroke="#111" stroke-width="0.3">GO:0050817</text>
<text transform="rotate(158.5 111.1 333.3)" x="111.1" y="230.7" font-size="7.8" text-anchor="middle" fill="#111" stroke="#111" stroke-width="0.3">GO:0070527</text>
<text transform="rotate(194.5 111.1 333.3)" x="111.1" y="230.7" font-size="7.8" text-anchor="middle" fill="#111" stroke="#111" stroke-width="0.3">GO:0034109</text>
<text transform="rotate(230.5 111.1 333.3)" x="111.1" y="230.7" font-size="7.8" text-anchor="middle" fill="#111" stroke="#111" stroke-width="0.3">GO:0030168</text>
<text transform="rotate(266.5 111.1 333.3)" x="111.1" y="230.7" font-size="7.8" text-anchor="middle" fill="#111" stroke="#111" stroke-width="0.3">GO:0050878</text>
<text transform="rotate(302.5 111.1 333.3)" x="111.1" y="230.7" font-size="7.8" text-anchor="middle" fill="#111" stroke="#111" stroke-width="0.3">GO:0044403</text>
<text transform="rotate(338.5 111.1 333.3)" x="111.1" y="230.7" font-size="7.8" text-anchor="middle" fill="#111" stroke="#111" stroke-width="0.3">GO:0022407</text>
</g>
<g transform="translate(341.8,0) scale(1.0,1) translate(-341.8,0)">
<path d="M341.8,237.4 A95.5,95.5 0 0 1 388.1,249.37 L372.49,277.54 A63.3,63.3 0 0 0 341.8,269.6 Z" fill="#b2b2b2"/>
<path d="M341.8,261.5 A71.4,71.4 0 0 1 376.42,270.45" fill="none" stroke="#fff" stroke-width="0.9"/>
<path d="M341.8,253.5 A79.4,79.4 0 0 1 380.29,263.46" fill="none" stroke="#fff" stroke-width="0.9"/>
<path d="M341.8,245.4 A87.5,87.5 0 0 1 384.22,256.37" fill="none" stroke="#fff" stroke-width="0.9"/>
<path d="M397.93,255.64 A95.5,95.5 0 0 1 428.35,292.54 L399.17,306.15 A63.3,63.3 0 0 0 379.01,281.69 Z" fill="#b2b2b2"/>
<path d="M383.77,275.14 A71.4,71.4 0 0 1 406.51,302.73" fill="none" stroke="#fff" stroke-width="0.9"/>
<path d="M388.47,268.66 A79.4,79.4 0 0 1 413.76,299.34" fill="none" stroke="#fff" stroke-width="0.9"/>
<path d="M393.23,262.11 A87.5,87.5 0 0 1 421.1,295.92" fill="none" stroke="#fff" stroke-width="0.9"/>
<path d="M432.63,303.39 A95.5,95.5 0 0 1 435.55,351.12 L403.94,344.98 A63.3,63.3 0 0 0 402,313.34 Z" fill="#b2b2b2"/>
<path d="M409.71,310.84 A71.4,71.4 0 0 1 411.89,346.52" fill="none" stroke="#fff" stroke-width="0.9"/>
<path d="M417.31,308.36 A79.4,79.4 0 0 1 419.74,348.05" fill="none" stroke="#fff" stroke-width="0.9"/>
<path d="M425.02,305.86 A87.5,87.5 0 0 1 427.69,349.6" fill="none" stroke="#fff" stroke-width="0.9"/>
<path d="M432.63,362.41 A95.5,95.5 0 0 1 406.93,402.74 L384.97,379.19 A63.3,63.3 0 0 0 402,352.46 Z" fill="#b2b2b2"/>
<path d="M409.71,354.96 A71.4,71.4 0 0 1 390.49,385.12" fill="none" stroke="#fff" stroke-width="0.9"/>
<path d="M417.31,357.44 A79.4,79.4 0 0 1 395.95,390.97" fill="none" stroke="#fff" stroke-width="0.9"/>
<path d="M425.02,359.94 A87.5,87.5 0 0 1 401.47,396.89" fill="none" stroke="#fff" stroke-width="0.9"/>
<path d="M397.93,410.16 A95.5,95.5 0 0 1 353.44,427.69 L349.51,395.73 A63.3,63.3 0 0 0 379.01,384.11 Z" fill="#b2b2b2"/>
<path d="M383.77,390.66 A71.4,71.4 0 0 1 350.5,403.77" fill="none" stroke="#fff" stroke-width="0.9"/>
<path d="M388.47,397.14 A79.4,79.4 0 0 1 351.48,411.71" fill="none" stroke="#fff" stroke-width="0.9"/>
<path d="M393.23,403.69 A87.5,87.5 0 0 1 352.46,419.75" fill="none" stroke="#fff" stroke-width="0.9"/>
<path d="M341.8,428.4 A95.5,95.5 0 0 1 295.5,416.43 L311.11,388.26 A63.3,63.3 0 0 0 341.8,396.2 Z" fill="#b2b2b2"/>
<path d="M341.8,404.3 A71.4,71.4 0 0 1 307.18,395.35" fill="none" stroke="#fff" stroke-width="0.9"/>
<path d="M341.8,412.3 A79.4,79.4 0 0 1 303.31,402.34" fill="none" stroke="#fff" stroke-width="0.9"/>
<path d="M341.8,420.4 A87.5,87.5 0 0 1 299.38,409.43" fill="none" stroke="#fff" stroke-width="0.9"/>
<path d="M285.67,410.16 A95.5,95.5 0 0 1 255.25,373.26 L284.43,359.65 A63.3,63.3 0 0 0 304.59,384.11 Z" fill="#b2b2b2"/>
<path d="M299.83,390.66 A71.4,71.4 0 0 1 277.09,363.07" fill="none" stroke="#fff" stroke-width="0.9"/>
<path d="M295.13,397.14 A79.4,79.4 0 0 1 269.84,366.46" fill="none" stroke="#fff" stroke-width="0.9"/>
<path d="M290.37,403.69 A87.5,87.5 0 0 1 262.5,369.88" fill="none" stroke="#fff" stroke-width="0.9"/>
<path d="M250.97,362.41 A95.5,95.5 0 0 1 248.05,314.68 L279.66,320.82 A63.3,63.3 0 0 0 281.6,352.46 Z" fill="#b2b2b2"/>
<path d="M273.89,354.96 A71.4,71.4 0 0 1 271.71,319.28" fill="none" stroke="#fff" stroke-width="0.9"/>
<path d="M266.29,357.44 A79.4,79.4 0 0 1 263.86,317.75" fill="none" stroke="#fff" stroke-width="0.9"/>
<path d="M258.58,359.94 A87.5,87.5 0 0 1 255.91,316.2" fill="none" stroke="#fff" stroke-width="0.9"/>
<path d="M250.97,303.39 A95.5,95.5 0 0 1 276.67,263.06 L298.63,286.61 A63.3,63.3 0 0 0 281.6,313.34 Z" fill="#b2b2b2"/>
<path d="M273.89,310.84 A71.4,71.4 0 0 1 293.11,280.68" fill="none" stroke="#fff" stroke-width="0.9"/>
<path d="M266.29,308.36 A79.4,79.4 0 0 1 287.65,274.83" fill="none" stroke="#fff" stroke-width="0.9"/>
<path d="M258.58,305.86 A87.5,87.5 0 0 1 282.13,268.91" fill="none" stroke="#fff" stroke-width="0.9"/>
<path d="M285.67,255.64 A95.5,95.5 0 0 1 330.16,238.11 L334.09,270.07 A63.3,63.3 0 0 0 304.59,281.69 Z" fill="#b2b2b2"/>
<path d="M299.83,275.14 A71.4,71.4 0 0 1 333.1,262.03" fill="none" stroke="#fff" stroke-width="0.9"/>
<path d="M295.13,268.66 A79.4,79.4 0 0 1 332.12,254.09" fill="none" stroke="#fff" stroke-width="0.9"/>
<path d="M290.37,262.11 A87.5,87.5 0 0 1 331.14,246.05" fill="none" stroke="#fff" stroke-width="0.9"/>
<circle cx="345.81" cy="248.79" r="1.95" fill="#ec2828" stroke="#9a1414" stroke-width="0.45"/>
<circle cx="349.8" cy="251.29" r="1.95" fill="#ec2828" stroke="#9a1414" stroke-width="0.45"/>
<circle cx="351.55" cy="246.85" r="1.95" fill="#ec2828" stroke="#9a1414" stroke-width="0.45"/>
<circle cx="352.48" cy="247.01" r="1.95" fill="#ec2828" stroke="#9a1414" stroke-width="0.45"/>
<circle cx="353.83" cy="247.44" r="1.95" fill="#ec2828" stroke="#9a1414" stroke-width="0.45"/>
<circle cx="354.35" cy="249.22" r="1.95" fill="#ec2828" stroke="#9a1414" stroke-width="0.45"/>
<circle cx="357.65" cy="252.45" r="1.95" fill="#ec2828" stroke="#9a1414" stroke-width="0.45"/>
<circle cx="358.87" cy="250.82" r="1.95" fill="#ec2828" stroke="#9a1414" stroke-width="0.45"/>
<circle cx="360.81" cy="251.42" r="1.95" fill="#ec2828" stroke="#9a1414" stroke-width="0.45"/>
<circle cx="361.88" cy="252.07" r="1.95" fill="#ec2828" stroke="#9a1414" stroke-width="0.45"/>
<circle cx="366.31" cy="248.17" r="1.95" fill="#ec2828" stroke="#9a1414" stroke-width="0.45"/>
<circle cx="366.27" cy="251.35" r="1.95" fill="#ec2828" stroke="#9a1414" stroke-width="0.45"/>
<circle cx="368.7" cy="251.98" r="1.95" fill="#ec2828" stroke="#9a1414" stroke-width="0.45"/>
<circle cx="370.86" cy="255.5" r="1.95" fill="#ec2828" stroke="#9a1414" stroke-width="0.45"/>
<circle cx="372.26" cy="255.02" r="1.95" fill="#ec2828" stroke="#9a1414" stroke-width="0.45"/>
<circle cx="372.9" cy="254.8" r="1.95" fill="#ec2828" stroke="#9a1414" stroke-width="0.45"/>
<circle cx="344.39" cy="261.21" r="1.95" fill="#6a90e8" stroke="#34549e" stroke-width="0.45"/>
<circle cx="348.48" cy="261.74" r="1.95" fill="#6a90e8" stroke="#34549e" stroke-width="0.45"/>
<circle cx="362.35" cy="260.77" r="1.95" fill="#6a90e8" stroke="#34549e" stroke-width="0.45"/>
<circle cx="364.83" cy="261.84" r="1.95" fill="#6a90e8" stroke="#34549e" stroke-width="0.45"/>
<circle cx="393.67" cy="272.13" r="1.95" fill="#ec2828" stroke="#9a1414" stroke-width="0.45"/>
<circle cx="394.65" cy="273.96" r="1.95" fill="#ec2828" stroke="#9a1414" stroke-width="0.45"/>
<circle cx="394.34" cy="277.34" r="1.95" fill="#ec2828" stroke="#9a1414" stroke-width="0.45"/>
<circle cx="395.46" cy="276.65" r="1.95" fill="#ec2828" stroke="#9a1414" stroke-width="0.45"/>
<circle cx="397.93" cy="278" r="1.95" fill="#ec2828" stroke="#9a1414" stroke-width="0.45"/>
<circle cx="398.38" cy="280.14" r="1.95" fill="#ec2828" stroke="#9a1414" stroke-width="0.45"/>
<circle cx="399.35" cy="283.02" r="1.95" fill="#ec2828" stroke="#9a1414" stroke-width="0.45"/>
<circle cx="400.52" cy="283.14" r="1.95" fill="#ec2828" stroke="#9a1414" stroke-width="0.45"/>
<circle cx="405.43" cy="281.8" r="1.95" fill="#ec2828" stroke="#9a1414" stroke-width="0.45"/>
<circle cx="407.74" cy="284.07" r="1.95" fill="#ec2828" stroke="#9a1414" stroke-width="0.45"/>
<circle cx="411.04" cy="285.27" r="1.95" fill="#ec2828" stroke="#9a1414" stroke-width="0.45"/>
<circle cx="410.06" cy="288.08" r="1.95" fill="#ec2828" stroke="#9a1414" stroke-width="0.45"/>
<circle cx="406.05" cy="293.45" r="1.95" fill="#ec2828" stroke="#9a1414" stroke-width="0.45"/>
<circle cx="407.4" cy="296.08" r="1.95" fill="#ec2828" stroke="#9a1414" stroke-width="0.45"/>
<circle cx="410.67" cy="295.61" r="1.95" fill="#ec2828" stroke="#9a1414" stroke-width="0.45"/>
<circle cx="394.72" cy="277.82" r="1.95" fill="#ec2828" stroke="#9a1414" stroke-width="0.45"/>
<circle cx="398.46" cy="276.43" r="1.95" fill="#ec2828" stroke="#9a1414" stroke-width="0.45"/>
<circle cx="398.36" cy="280.28" r="1.95" fill="#ec2828" stroke="#9a1414" stroke-width="0.45"/>
<circle cx="386.67" cy="280.02" r="1.95" fill="#6a90e8" stroke="#34549e" stroke-width="0.45"/>
<circle cx="389.91" cy="283.44" r="1.95" fill="#6a90e8" stroke="#34549e" stroke-width="0.45"/>
<circle cx="395.63" cy="286.52" r="1.95" fill="#6a90e8" stroke="#34549e" stroke-width="0.45"/>
<circle cx="400.72" cy="292.93" r="1.95" fill="#6a90e8" stroke="#34549e" stroke-width="0.45"/>
<circle cx="405.36" cy="299.54" r="1.95" fill="#6a90e8" stroke="#34549e" stroke-width="0.45"/>
<circle cx="424.14" cy="312.48" r="1.95" fill="#ec2828" stroke="#9a1414" stroke-width="0.45"/>
<circle cx="418.05" cy="316.46" r="1.95" fill="#ec2828" stroke="#9a1414" stroke-width="0.45"/>
<circle cx="424.5" cy="318.17" r="1.95" fill="#ec2828" stroke="#9a1414" stroke-width="0.45"/>
<circle cx="425.46" cy="321.35" r="1.95" fill="#ec2828" stroke="#9a1414" stroke-width="0.45"/>
<circle cx="419.43" cy="322.61" r="1.95" fill="#ec2828" stroke="#9a1414" stroke-width="0.45"/>
<circle cx="419.62" cy="325.33" r="1.95" fill="#ec2828" stroke="#9a1414" stroke-width="0.45"/>
<circle cx="419.59" cy="327.23" r="1.95" fill="#ec2828" stroke="#9a1414" stroke-width="0.45"/>
<circle cx="420.35" cy="327.71" r="1.95" fill="#ec2828" stroke="#9a1414" stroke-width="0.45"/>
<circle cx="422.4" cy="328.31" r="1.95" fill="#ec2828" stroke="#9a1414" stroke-width="0.45"/>
<circle cx="424.77" cy="329.56" r="1.95" fill="#ec2828" stroke="#9a1414" stroke-width="0.45"/>
<circle cx="423.28" cy="332.03" r="1.95" fill="#ec2828" stroke="#9a1414" stroke-width="0.45"/>
<circle cx="419.73" cy="336.14" r="1.95" fill="#ec2828" stroke="#9a1414" stroke-width="0.45"/>
<circle cx="419.57" cy="338.93" r="1.95" fill="#ec2828" stroke="#9a1414" stroke-width="0.45"/>
<circle cx="421.84" cy="342.7" r="1.95" fill="#ec2828" stroke="#9a1414" stroke-width="0.45"/>
<circle cx="422.7" cy="346.27" r="1.95" fill="#ec2828" stroke="#9a1414" stroke-width="0.45"/>
<circle cx="424.05" cy="319.51" r="1.95" fill="#ec2828" stroke="#9a1414" stroke-width="0.45"/>
<circle cx="411.54" cy="314.78" r="1.95" fill="#6a90e8" stroke="#34549e" stroke-width="0.45"/>
<circle cx="413.83" cy="315.93" r="1.95" fill="#6a90e8" stroke="#34549e" stroke-width="0.45"/>
<circle cx="414.37" cy="323.11" r="1.95" fill="#6a90e8" stroke="#34549e" stroke-width="0.45"/>
<circle cx="413.8" cy="331.06" r="1.95" fill="#6a90e8" stroke="#34549e" stroke-width="0.45"/>
<circle cx="414.86" cy="339.65" r="1.95" fill="#6a90e8" stroke="#34549e" stroke-width="0.45"/>
<circle cx="407.94" cy="356.39" r="1.95" fill="#ec2828" stroke="#9a1414" stroke-width="0.45"/>
<circle cx="406.13" cy="356.09" r="1.95" fill="#ec2828" stroke="#9a1414" stroke-width="0.45"/>
<circle cx="405.99" cy="356.67" r="1.95" fill="#ec2828" stroke="#9a1414" stroke-width="0.45"/>
<circle cx="403.76" cy="358.38" r="1.95" fill="#ec2828" stroke="#9a1414" stroke-width="0.45"/>
<circle cx="408.69" cy="362.79" r="1.95" fill="#ec2828" stroke="#9a1414" stroke-width="0.45"/>
<circle cx="409.37" cy="366.16" r="1.95" fill="#ec2828" stroke="#9a1414" stroke-width="0.45"/>
<circle cx="410.9" cy="367.41" r="1.95" fill="#ec2828" stroke="#9a1414" stroke-width="0.45"/>
<circle cx="409.03" cy="368.21" r="1.95" fill="#ec2828" stroke="#9a1414" stroke-width="0.45"/>
<circle cx="407.73" cy="370.8" r="1.95" fill="#ec2828" stroke="#9a1414" stroke-width="0.45"/>
<circle cx="408.55" cy="374.63" r="1.95" fill="#ec2828" stroke="#9a1414" stroke-width="0.45"/>
<circle cx="402.32" cy="373.24" r="1.95" fill="#ec2828" stroke="#9a1414" stroke-width="0.45"/>
<circle cx="401.96" cy="375.89" r="1.95" fill="#ec2828" stroke="#9a1414" stroke-width="0.45"/>
<circle cx="402.71" cy="378.76" r="1.95" fill="#ec2828" stroke="#9a1414" stroke-width="0.45"/>
<circle cx="403.41" cy="381.2" r="1.95" fill="#ec2828" stroke="#9a1414" stroke-width="0.45"/>
<circle cx="404.24" cy="382.91" r="1.95" fill="#ec2828" stroke="#9a1414" stroke-width="0.45"/>
<circle cx="403.86" cy="383.38" r="1.95" fill="#ec2828" stroke="#9a1414" stroke-width="0.45"/>
<circle cx="401.97" cy="383.79" r="1.95" fill="#ec2828" stroke="#9a1414" stroke-width="0.45"/>
<circle cx="399.73" cy="383.15" r="1.95" fill="#ec2828" stroke="#9a1414" stroke-width="0.45"/>
<circle cx="396.04" cy="382.29" r="1.95" fill="#ec2828" stroke="#9a1414" stroke-width="0.45"/>
<circle cx="396.26" cy="384.76" r="1.95" fill="#ec2828" stroke="#9a1414" stroke-width="0.45"/>
<circle cx="408.7" cy="366.89" r="1.95" fill="#ec2828" stroke="#9a1414" stroke-width="0.45"/>
<circle cx="407.02" cy="366.63" r="1.95" fill="#ec2828" stroke="#9a1414" stroke-width="0.45"/>
<circle cx="380.32" cy="391.98" r="1.95" fill="#ec2828" stroke="#9a1414" stroke-width="0.45"/>
<circle cx="376.92" cy="390.56" r="1.95" fill="#ec2828" stroke="#9a1414" stroke-width="0.45"/>
<circle cx="375.16" cy="391" r="1.95" fill="#ec2828" stroke="#9a1414" stroke-width="0.45"/>
<circle cx="373.21" cy="392.08" r="1.95" fill="#ec2828" stroke="#9a1414" stroke-width="0.45"/>
<circle cx="372.58" cy="392.46" r="1.95" fill="#ec2828" stroke="#9a1414" stroke-width="0.45"/>
<circle cx="372.79" cy="399.2" r="1.95" fill="#ec2828" stroke="#9a1414" stroke-width="0.45"/>
<circle cx="370.52" cy="401.03" r="1.95" fill="#ec2828" stroke="#9a1414" stroke-width="0.45"/>
<circle cx="369.62" cy="401.61" r="1.95" fill="#ec2828" stroke="#9a1414" stroke-width="0.45"/>
<circle cx="367.96" cy="401.48" r="1.95" fill="#ec2828" stroke="#9a1414" stroke-width="0.45"/>
<circle cx="366.01" cy="401.43" r="1.95" fill="#ec2828" stroke="#9a1414" stroke-width="0.45"/>
<circle cx="366.5" cy="404.26" r="1.95" fill="#ec2828" stroke="#9a1414" stroke-width="0.45"/>
<circle cx="365.21" cy="406.48" r="1.95" fill="#ec2828" stroke="#9a1414" stroke-width="0.45"/>
<circle cx="362.62" cy="405.43" r="1.95" fill="#ec2828" stroke="#9a1414" stroke-width="0.45"/>
<circle cx="362.24" cy="407.41" r="1.95" fill="#ec2828" stroke="#9a1414" stroke-width="0.45"/>
<circle cx="360.94" cy="407.61" r="1.95" fill="#ec2828" stroke="#9a1414" stroke-width="0.45"/>
<circle cx="359.45" cy="403.66" r="1.95" fill="#ec2828" stroke="#9a1414" stroke-width="0.45"/>
<circle cx="359.13" cy="404.89" r="1.95" fill="#ec2828" stroke="#9a1414" stroke-width="0.45"/>
<circle cx="356.1" cy="402.62" r="1.95" fill="#ec2828" stroke="#9a1414" stroke-width="0.45"/>
<circle cx="354.99" cy="401.3" r="1.95" fill="#ec2828" stroke="#9a1414" stroke-width="0.45"/>
<circle cx="352.67" cy="402.5" r="1.95" fill="#ec2828" stroke="#9a1414" stroke-width="0.45"/>
<circle cx="336.6" cy="414.7" r="1.95" fill="#ec2828" stroke="#9a1414" stroke-width="0.45"/>
<circle cx="330.1" cy="413.9" r="1.95" fill="#ec2828" stroke="#9a1414" stroke-width="0.45"/>
<circle cx="326.93" cy="412.69" r="1.95" fill="#ec2828" stroke="#9a1414" stroke-width="0.45"/>
<circle cx="320.71" cy="412.02" r="1.95" fill="#ec2828" stroke="#9a1414" stroke-width="0.45"/>
<circle cx="319.11" cy="413.78" r="1.95" fill="#ec2828" stroke="#9a1414" stroke-width="0.45"/>
<circle cx="315.47" cy="412.67" r="1.95" fill="#ec2828" stroke="#9a1414" stroke-width="0.45"/>
<circle cx="311.06" cy="409.84" r="1.95" fill="#ec2828" stroke="#9a1414" stroke-width="0.45"/>
<circle cx="309.63" cy="410.5" r="1.95" fill="#ec2828" stroke="#9a1414" stroke-width="0.45"/>
<circle cx="307.99" cy="409.28" r="1.95" fill="#ec2828" stroke="#9a1414" stroke-width="0.45"/>
<circle cx="305.98" cy="407.5" r="1.95" fill="#ec2828" stroke="#9a1414" stroke-width="0.45"/>
<circle cx="338.31" cy="401.99" r="1.95" fill="#6a90e8" stroke="#34549e" stroke-width="0.45"/>
<circle cx="290.33" cy="398.87" r="1.95" fill="#ec2828" stroke="#9a1414" stroke-width="0.45"/>
<circle cx="286.01" cy="398.35" r="1.95" fill="#ec2828" stroke="#9a1414" stroke-width="0.45"/>
<circle cx="283.59" cy="392.69" r="1.95" fill="#ec2828" stroke="#9a1414" stroke-width="0.45"/>
<circle cx="281.11" cy="391.06" r="1.95" fill="#ec2828" stroke="#9a1414" stroke-width="0.45"/>
<circle cx="280.9" cy="388.23" r="1.95" fill="#ec2828" stroke="#9a1414" stroke-width="0.45"/>
<circle cx="276.32" cy="388.66" r="1.95" fill="#ec2828" stroke="#9a1414" stroke-width="0.45"/>
<circle cx="276.55" cy="386.02" r="1.95" fill="#ec2828" stroke="#9a1414" stroke-width="0.45"/>
<circle cx="276.11" cy="383.22" r="1.95" fill="#ec2828" stroke="#9a1414" stroke-width="0.45"/>
<circle cx="273.27" cy="382.01" r="1.95" fill="#ec2828" stroke="#9a1414" stroke-width="0.45"/>
<circle cx="270.97" cy="380.38" r="1.95" fill="#ec2828" stroke="#9a1414" stroke-width="0.45"/>
<circle cx="267.69" cy="376.53" r="1.95" fill="#ec2828" stroke="#9a1414" stroke-width="0.45"/>
<circle cx="265.94" cy="373.42" r="1.95" fill="#ec2828" stroke="#9a1414" stroke-width="0.45"/>
<circle cx="296.61" cy="385.89" r="1.95" fill="#6a90e8" stroke="#34549e" stroke-width="0.45"/>
<circle cx="261.3" cy="353.54" r="1.95" fill="#ec2828" stroke="#9a1414" stroke-width="0.45"/>
<circle cx="259.69" cy="347.95" r="1.95" fill="#ec2828" stroke="#9a1414" stroke-width="0.45"/>
<circle cx="258.79" cy="343.97" r="1.95" fill="#ec2828" stroke="#9a1414" stroke-width="0.45"/>
<circle cx="259.15" cy="340.42" r="1.95" fill="#ec2828" stroke="#9a1414" stroke-width="0.45"/>
<circle cx="258.07" cy="335.65" r="1.95" fill="#ec2828" stroke="#9a1414" stroke-width="0.45"/>
<circle cx="257.59" cy="331.08" r="1.95" fill="#ec2828" stroke="#9a1414" stroke-width="0.45"/>
<circle cx="255.21" cy="325.37" r="1.95" fill="#ec2828" stroke="#9a1414" stroke-width="0.45"/>
<circle cx="255.25" cy="324.05" r="1.95" fill="#ec2828" stroke="#9a1414" stroke-width="0.45"/>
<circle cx="256.84" cy="319.45" r="1.95" fill="#ec2828" stroke="#9a1414" stroke-width="0.45"/>
<circle cx="258.53" cy="348.38" r="1.95" fill="#ec2828" stroke="#9a1414" stroke-width="0.45"/>
<circle cx="257.78" cy="345.05" r="1.95" fill="#ec2828" stroke="#9a1414" stroke-width="0.45"/>
<circle cx="259.65" cy="342.44" r="1.95" fill="#ec2828" stroke="#9a1414" stroke-width="0.45"/>
<circle cx="274.81" cy="350.11" r="1.95" fill="#6a90e8" stroke="#34549e" stroke-width="0.45"/>
<circle cx="261" cy="301.72" r="1.95" fill="#ec2828" stroke="#9a1414" stroke-width="0.45"/>
<circle cx="261.98" cy="295.84" r="1.95" fill="#ec2828" stroke="#9a1414" stroke-width="0.45"/>
<circle cx="268.01" cy="291.06" r="1.95" fill="#ec2828" stroke="#9a1414" stroke-width="0.45"/>
<circle cx="269.37" cy="283.16" r="1.95" fill="#ec2828" stroke="#9a1414" stroke-width="0.45"/>
<circle cx="272.8" cy="279.84" r="1.95" fill="#ec2828" stroke="#9a1414" stroke-width="0.45"/>
<circle cx="276.14" cy="274.64" r="1.95" fill="#ec2828" stroke="#9a1414" stroke-width="0.45"/>
<circle cx="280.37" cy="273.28" r="1.95" fill="#ec2828" stroke="#9a1414" stroke-width="0.45"/>
<circle cx="281.87" cy="272.3" r="1.95" fill="#ec2828" stroke="#9a1414" stroke-width="0.45"/>
<circle cx="267.02" cy="304.48" r="1.95" fill="#ec2828" stroke="#9a1414" stroke-width="0.45"/>
<circle cx="280.09" cy="306.35" r="1.95" fill="#6a90e8" stroke="#34549e" stroke-width="0.45"/>
<circle cx="294.1" cy="262.32" r="1.95" fill="#ec2828" stroke="#9a1414" stroke-width="0.45"/>
<circle cx="301.06" cy="257.71" r="1.95" fill="#ec2828" stroke="#9a1414" stroke-width="0.45"/>
<circle cx="305.47" cy="254.69" r="1.95" fill="#ec2828" stroke="#9a1414" stroke-width="0.45"/>
<circle cx="311.34" cy="251.68" r="1.95" fill="#ec2828" stroke="#9a1414" stroke-width="0.45"/>
<circle cx="313.24" cy="251.34" r="1.95" fill="#ec2828" stroke="#9a1414" stroke-width="0.45"/>
<circle cx="315.66" cy="250.19" r="1.95" fill="#ec2828" stroke="#9a1414" stroke-width="0.45"/>
<circle cx="323.02" cy="246.93" r="1.95" fill="#ec2828" stroke="#9a1414" stroke-width="0.45"/>
<circle cx="302.68" cy="274.52" r="1.95" fill="#6a90e8" stroke="#34549e" stroke-width="0.45"/>
<path d="M341.8,273.9 A59,59 0 0 1 370.4,281.3 L356.97,305.52 A31.3,31.3 0 0 0 341.8,301.6 Z" fill="#f08a70" stroke="#222" stroke-width="0.7"/>
<path d="M376.24,285.49 A58.6,58.6 0 0 1 394.91,308.13 L370.17,319.67 A31.3,31.3 0 0 0 360.2,307.58 Z" fill="#f08a70" stroke="#222" stroke-width="0.7"/>
<path d="M396.3,315.19 A57.3,57.3 0 0 1 398.05,343.83 L372.52,338.87 A31.3,31.3 0 0 0 371.57,323.23 Z" fill="#f08a70" stroke="#222" stroke-width="0.7"/>
<path d="M392.49,349.37 A53.3,53.3 0 0 1 378.15,371.88 L363.15,355.79 A31.3,31.3 0 0 0 371.57,342.57 Z" fill="#fa2212" stroke="#222" stroke-width="0.7"/>
<path d="M372.78,375.54 A52.7,52.7 0 0 1 348.22,385.21 L345.61,363.97 A31.3,31.3 0 0 0 360.2,358.22 Z" fill="#fa1e0e" stroke="#222" stroke-width="0.7"/>
<path d="M341.8,376 A43.1,43.1 0 0 1 320.9,370.6 L326.63,360.28 A31.3,31.3 0 0 0 341.8,364.2 Z" fill="#f08068" stroke="#222" stroke-width="0.7"/>
<path d="M317.11,366.88 A42,42 0 0 1 303.74,350.65 L313.43,346.13 A31.3,31.3 0 0 0 323.4,358.22 Z" fill="#f08068" stroke="#222" stroke-width="0.7"/>
<path d="M303.28,345.42 A40.5,40.5 0 0 1 302.04,325.17 L311.08,326.93 A31.3,31.3 0 0 0 312.03,342.57 Z" fill="#f08068" stroke="#222" stroke-width="0.7"/>
<path d="M305.28,321.03 A38.4,38.4 0 0 1 315.61,304.82 L320.45,310.01 A31.3,31.3 0 0 0 312.03,323.23 Z" fill="#f08a70" stroke="#222" stroke-width="0.7"/>
<path d="M320.35,303.37 A36.5,36.5 0 0 1 337.35,296.67 L337.99,301.83 A31.3,31.3 0 0 0 323.4,307.58 Z" fill="#f08a70" stroke="#222" stroke-width="0.7"/>
<text transform="rotate(14.5 341.8 332.9)" x="341.8" y="230.3" font-size="7.8" text-anchor="middle" fill="#111" stroke="#111" stroke-width="0.3">GO:0034774</text>
<text transform="rotate(50.5 341.8 332.9)" x="341.8" y="230.3" font-size="7.8" text-anchor="middle" fill="#111" stroke="#111" stroke-width="0.3">GO:0060205</text>
<text transform="rotate(86.5 341.8 332.9)" x="341.8" y="230.3" font-size="7.8" text-anchor="middle" fill="#111" stroke="#111" stroke-width="0.3">GO:0031983</text>
<text transform="rotate(122.5 341.8 332.9)" x="341.8" y="230.3" font-size="7.8" text-anchor="middle" fill="#111" stroke="#111" stroke-width="0.3">GO:0005925</text>
<text transform="rotate(158.5 341.8 332.9)" x="341.8" y="230.3" font-size="7.8" text-anchor="middle" fill="#111" stroke="#111" stroke-width="0.3">GO:0030055</text>
<text transform="rotate(194.5 341.8 332.9)" x="341.8" y="230.3" font-size="7.8" text-anchor="middle" fill="#111" stroke="#111" stroke-width="0.3">GO:0005766</text>
<text transform="rotate(230.5 341.8 332.9)" x="341.8" y="230.3" font-size="7.8" text-anchor="middle" fill="#111" stroke="#111" stroke-width="0.3">GO:0042582</text>
<text transform="rotate(266.5 341.8 332.9)" x="341.8" y="230.3" font-size="7.8" text-anchor="middle" fill="#111" stroke="#111" stroke-width="0.3">GO:0101002</text>
<text transform="rotate(302.5 341.8 332.9)" x="341.8" y="230.3" font-size="7.8" text-anchor="middle" fill="#111" stroke="#111" stroke-width="0.3">GO:1904813</text>
<text transform="rotate(338.5 341.8 332.9)" x="341.8" y="230.3" font-size="7.8" text-anchor="middle" fill="#111" stroke="#111" stroke-width="0.3">GO:0035578</text>
</g>
<g transform="translate(572.4,0) scale(1.02,1) translate(-572.4,0)">
<path d="M572.4,236.4 A95.5,95.5 0 0 1 618.7,248.37 L603.09,276.54 A63.3,63.3 0 0 0 572.4,268.6 Z" fill="#b2b2b2"/>
<path d="M572.4,260.5 A71.4,71.4 0 0 1 607.02,269.45" fill="none" stroke="#fff" stroke-width="0.9"/>
<path d="M572.4,252.5 A79.4,79.4 0 0 1 610.89,262.46" fill="none" stroke="#fff" stroke-width="0.9"/>
<path d="M572.4,244.4 A87.5,87.5 0 0 1 614.82,255.37" fill="none" stroke="#fff" stroke-width="0.9"/>
<path d="M628.53,254.64 A95.5,95.5 0 0 1 658.95,291.54 L629.77,305.15 A63.3,63.3 0 0 0 609.61,280.69 Z" fill="#b2b2b2"/>
<path d="M614.37,274.14 A71.4,71.4 0 0 1 637.11,301.73" fill="none" stroke="#fff" stroke-width="0.9"/>
<path d="M619.07,267.66 A79.4,79.4 0 0 1 644.36,298.34" fill="none" stroke="#fff" stroke-width="0.9"/>
<path d="M623.83,261.11 A87.5,87.5 0 0 1 651.7,294.92" fill="none" stroke="#fff" stroke-width="0.9"/>
<path d="M663.23,302.39 A95.5,95.5 0 0 1 666.15,350.12 L634.54,343.98 A63.3,63.3 0 0 0 632.6,312.34 Z" fill="#b2b2b2"/>
<path d="M640.31,309.84 A71.4,71.4 0 0 1 642.49,345.52" fill="none" stroke="#fff" stroke-width="0.9"/>
<path d="M647.91,307.36 A79.4,79.4 0 0 1 650.34,347.05" fill="none" stroke="#fff" stroke-width="0.9"/>
<path d="M655.62,304.86 A87.5,87.5 0 0 1 658.29,348.6" fill="none" stroke="#fff" stroke-width="0.9"/>
<path d="M663.23,361.41 A95.5,95.5 0 0 1 637.53,401.74 L615.57,378.19 A63.3,63.3 0 0 0 632.6,351.46 Z" fill="#b2b2b2"/>
<path d="M640.31,353.96 A71.4,71.4 0 0 1 621.09,384.12" fill="none" stroke="#fff" stroke-width="0.9"/>
<path d="M647.91,356.44 A79.4,79.4 0 0 1 626.55,389.97" fill="none" stroke="#fff" stroke-width="0.9"/>
<path d="M655.62,358.94 A87.5,87.5 0 0 1 632.07,395.89" fill="none" stroke="#fff" stroke-width="0.9"/>
<path d="M628.53,409.16 A95.5,95.5 0 0 1 584.04,426.69 L580.11,394.73 A63.3,63.3 0 0 0 609.61,383.11 Z" fill="#b2b2b2"/>
<path d="M614.37,389.66 A71.4,71.4 0 0 1 581.1,402.77" fill="none" stroke="#fff" stroke-width="0.9"/>
<path d="M619.07,396.14 A79.4,79.4 0 0 1 582.08,410.71" fill="none" stroke="#fff" stroke-width="0.9"/>
<path d="M623.83,402.69 A87.5,87.5 0 0 1 583.06,418.75" fill="none" stroke="#fff" stroke-width="0.9"/>
<path d="M572.4,427.4 A95.5,95.5 0 0 1 526.1,415.43 L541.71,387.26 A63.3,63.3 0 0 0 572.4,395.2 Z" fill="#b2b2b2"/>
<path d="M572.4,403.3 A71.4,71.4 0 0 1 537.78,394.35" fill="none" stroke="#fff" stroke-width="0.9"/>
<path d="M572.4,411.3 A79.4,79.4 0 0 1 533.91,401.34" fill="none" stroke="#fff" stroke-width="0.9"/>
<path d="M572.4,419.4 A87.5,87.5 0 0 1 529.98,408.43" fill="none" stroke="#fff" stroke-width="0.9"/>
<path d="M516.27,409.16 A95.5,95.5 0 0 1 485.85,372.26 L515.03,358.65 A63.3,63.3 0 0 0 535.19,383.11 Z" fill="#b2b2b2"/>
<path d="M530.43,389.66 A71.4,71.4 0 0 1 507.69,362.07" fill="none" stroke="#fff" stroke-width="0.9"/>
<path d="M525.73,396.14 A79.4,79.4 0 0 1 500.44,365.46" fill="none" stroke="#fff" stroke-width="0.9"/>
<path d="M520.97,402.69 A87.5,87.5 0 0 1 493.1,368.88" fill="none" stroke="#fff" stroke-width="0.9"/>
<path d="M481.57,361.41 A95.5,95.5 0 0 1 478.65,313.68 L510.26,319.82 A63.3,63.3 0 0 0 512.2,351.46 Z" fill="#b2b2b2"/>
<path d="M504.49,353.96 A71.4,71.4 0 0 1 502.31,318.28" fill="none" stroke="#fff" stroke-width="0.9"/>
<path d="M496.89,356.44 A79.4,79.4 0 0 1 494.46,316.75" fill="none" stroke="#fff" stroke-width="0.9"/>
<path d="M489.18,358.94 A87.5,87.5 0 0 1 486.51,315.2" fill="none" stroke="#fff" stroke-width="0.9"/>
<path d="M481.57,302.39 A95.5,95.5 0 0 1 507.27,262.06 L529.23,285.61 A63.3,63.3 0 0 0 512.2,312.34 Z" fill="#b2b2b2"/>
<path d="M504.49,309.84 A71.4,71.4 0 0 1 523.71,279.68" fill="none" stroke="#fff" stroke-width="0.9"/>
<path d="M496.89,307.36 A79.4,79.4 0 0 1 518.25,273.83" fill="none" stroke="#fff" stroke-width="0.9"/>
<path d="M489.18,304.86 A87.5,87.5 0 0 1 512.73,267.91" fill="none" stroke="#fff" stroke-width="0.9"/>
<path d="M516.27,254.64 A95.5,95.5 0 0 1 560.76,237.11 L564.69,269.07 A63.3,63.3 0 0 0 535.19,280.69 Z" fill="#b2b2b2"/>
<path d="M530.43,274.14 A71.4,71.4 0 0 1 563.7,261.03" fill="none" stroke="#fff" stroke-width="0.9"/>
<path d="M525.73,267.66 A79.4,79.4 0 0 1 562.72,253.09" fill="none" stroke="#fff" stroke-width="0.9"/>
<path d="M520.97,261.11 A87.5,87.5 0 0 1 561.74,245.05" fill="none" stroke="#fff" stroke-width="0.9"/>
<circle cx="577.26" cy="255.52" r="1.95" fill="#6a90e8" stroke="#34549e" stroke-width="0.45"/>
<circle cx="579.13" cy="255.96" r="1.95" fill="#6a90e8" stroke="#34549e" stroke-width="0.45"/>
<circle cx="582.71" cy="254.58" r="1.95" fill="#6a90e8" stroke="#34549e" stroke-width="0.45"/>
<circle cx="583.37" cy="260.01" r="1.95" fill="#6a90e8" stroke="#34549e" stroke-width="0.45"/>
<circle cx="584.88" cy="261.9" r="1.95" fill="#6a90e8" stroke="#34549e" stroke-width="0.45"/>
<circle cx="586.79" cy="257.08" r="1.95" fill="#6a90e8" stroke="#34549e" stroke-width="0.45"/>
<circle cx="590.08" cy="256.11" r="1.95" fill="#6a90e8" stroke="#34549e" stroke-width="0.45"/>
<circle cx="591" cy="259.02" r="1.95" fill="#6a90e8" stroke="#34549e" stroke-width="0.45"/>
<circle cx="592.04" cy="259.76" r="1.95" fill="#6a90e8" stroke="#34549e" stroke-width="0.45"/>
<circle cx="595.17" cy="261.62" r="1.95" fill="#6a90e8" stroke="#34549e" stroke-width="0.45"/>
<circle cx="595.04" cy="263.01" r="1.95" fill="#6a90e8" stroke="#34549e" stroke-width="0.45"/>
<circle cx="595.89" cy="265.96" r="1.95" fill="#6a90e8" stroke="#34549e" stroke-width="0.45"/>
<circle cx="599.24" cy="264.19" r="1.95" fill="#6a90e8" stroke="#34549e" stroke-width="0.45"/>
<circle cx="601.58" cy="264.39" r="1.95" fill="#6a90e8" stroke="#34549e" stroke-width="0.45"/>
<circle cx="603.23" cy="263.95" r="1.95" fill="#6a90e8" stroke="#34549e" stroke-width="0.45"/>
<circle cx="605.03" cy="262.79" r="1.95" fill="#6a90e8" stroke="#34549e" stroke-width="0.45"/>
<circle cx="606.33" cy="265.6" r="1.95" fill="#6a90e8" stroke="#34549e" stroke-width="0.45"/>
<circle cx="576.97" cy="258.79" r="1.95" fill="#6a90e8" stroke="#34549e" stroke-width="0.45"/>
<circle cx="620.45" cy="269.29" r="1.95" fill="#6a90e8" stroke="#34549e" stroke-width="0.45"/>
<circle cx="627.07" cy="274.42" r="1.95" fill="#6a90e8" stroke="#34549e" stroke-width="0.45"/>
<circle cx="628.75" cy="277.24" r="1.95" fill="#6a90e8" stroke="#34549e" stroke-width="0.45"/>
<circle cx="634.65" cy="281.65" r="1.95" fill="#6a90e8" stroke="#34549e" stroke-width="0.45"/>
<circle cx="637.68" cy="285.66" r="1.95" fill="#6a90e8" stroke="#34549e" stroke-width="0.45"/>
<circle cx="639.42" cy="295.45" r="1.95" fill="#6a90e8" stroke="#34549e" stroke-width="0.45"/>
<circle cx="623.51" cy="278.33" r="1.95" fill="#6a90e8" stroke="#34549e" stroke-width="0.45"/>
<circle cx="644.91" cy="314.79" r="1.95" fill="#6a90e8" stroke="#34549e" stroke-width="0.45"/>
<circle cx="644.89" cy="316.91" r="1.95" fill="#6a90e8" stroke="#34549e" stroke-width="0.45"/>
<circle cx="647.51" cy="318.46" r="1.95" fill="#6a90e8" stroke="#34549e" stroke-width="0.45"/>
<circle cx="651.16" cy="319.23" r="1.95" fill="#6a90e8" stroke="#34549e" stroke-width="0.45"/>
<circle cx="653.02" cy="320.37" r="1.95" fill="#6a90e8" stroke="#34549e" stroke-width="0.45"/>
<circle cx="654.14" cy="322.24" r="1.95" fill="#6a90e8" stroke="#34549e" stroke-width="0.45"/>
<circle cx="652.3" cy="325.31" r="1.95" fill="#6a90e8" stroke="#34549e" stroke-width="0.45"/>
<circle cx="654.94" cy="325.8" r="1.95" fill="#6a90e8" stroke="#34549e" stroke-width="0.45"/>
<circle cx="649.48" cy="327.84" r="1.95" fill="#6a90e8" stroke="#34549e" stroke-width="0.45"/>
<circle cx="650.95" cy="330.94" r="1.95" fill="#6a90e8" stroke="#34549e" stroke-width="0.45"/>
<circle cx="653.07" cy="333.54" r="1.95" fill="#6a90e8" stroke="#34549e" stroke-width="0.45"/>
<circle cx="653.13" cy="336.38" r="1.95" fill="#6a90e8" stroke="#34549e" stroke-width="0.45"/>
<circle cx="650.82" cy="337.38" r="1.95" fill="#6a90e8" stroke="#34549e" stroke-width="0.45"/>
<circle cx="649.84" cy="337.64" r="1.95" fill="#6a90e8" stroke="#34549e" stroke-width="0.45"/>
<circle cx="649.94" cy="341.37" r="1.95" fill="#6a90e8" stroke="#34549e" stroke-width="0.45"/>
<circle cx="648.2" cy="343.55" r="1.95" fill="#6a90e8" stroke="#34549e" stroke-width="0.45"/>
<circle cx="645.2" cy="314.33" r="1.95" fill="#6a90e8" stroke="#34549e" stroke-width="0.45"/>
<circle cx="645.07" cy="315.79" r="1.95" fill="#6a90e8" stroke="#34549e" stroke-width="0.45"/>
<circle cx="643.55" cy="358.19" r="1.95" fill="#6a90e8" stroke="#34549e" stroke-width="0.45"/>
<circle cx="641.05" cy="360.53" r="1.95" fill="#6a90e8" stroke="#34549e" stroke-width="0.45"/>
<circle cx="634.91" cy="365.84" r="1.95" fill="#6a90e8" stroke="#34549e" stroke-width="0.45"/>
<circle cx="632.48" cy="367.82" r="1.95" fill="#6a90e8" stroke="#34549e" stroke-width="0.45"/>
<circle cx="629.8" cy="373.71" r="1.95" fill="#6a90e8" stroke="#34549e" stroke-width="0.45"/>
<circle cx="629.58" cy="375.13" r="1.95" fill="#6a90e8" stroke="#34549e" stroke-width="0.45"/>
<circle cx="625.87" cy="379.1" r="1.95" fill="#6a90e8" stroke="#34549e" stroke-width="0.45"/>
<circle cx="622.58" cy="380.71" r="1.95" fill="#6a90e8" stroke="#34549e" stroke-width="0.45"/>
<circle cx="610.87" cy="389.17" r="1.95" fill="#6a90e8" stroke="#34549e" stroke-width="0.45"/>
<circle cx="608.04" cy="391.96" r="1.95" fill="#6a90e8" stroke="#34549e" stroke-width="0.45"/>
<circle cx="607.96" cy="394.36" r="1.95" fill="#6a90e8" stroke="#34549e" stroke-width="0.45"/>
<circle cx="603.17" cy="395.63" r="1.95" fill="#6a90e8" stroke="#34549e" stroke-width="0.45"/>
<circle cx="597.93" cy="398.37" r="1.95" fill="#6a90e8" stroke="#34549e" stroke-width="0.45"/>
<circle cx="593.35" cy="396.59" r="1.95" fill="#6a90e8" stroke="#34549e" stroke-width="0.45"/>
<circle cx="590.27" cy="397.51" r="1.95" fill="#6a90e8" stroke="#34549e" stroke-width="0.45"/>
<circle cx="566.37" cy="413.42" r="1.95" fill="#6a90e8" stroke="#34549e" stroke-width="0.45"/>
<circle cx="557.29" cy="410.6" r="1.95" fill="#6a90e8" stroke="#34549e" stroke-width="0.45"/>
<circle cx="556.72" cy="407.89" r="1.95" fill="#6a90e8" stroke="#34549e" stroke-width="0.45"/>
<circle cx="553" cy="405.22" r="1.95" fill="#6a90e8" stroke="#34549e" stroke-width="0.45"/>
<circle cx="550.4" cy="407.27" r="1.95" fill="#6a90e8" stroke="#34549e" stroke-width="0.45"/>
<circle cx="547.13" cy="402.13" r="1.95" fill="#6a90e8" stroke="#34549e" stroke-width="0.45"/>
<circle cx="523.83" cy="390.02" r="1.95" fill="#6a90e8" stroke="#34549e" stroke-width="0.45"/>
<circle cx="519.08" cy="388.85" r="1.95" fill="#6a90e8" stroke="#34549e" stroke-width="0.45"/>
<circle cx="518.57" cy="386.15" r="1.95" fill="#6a90e8" stroke="#34549e" stroke-width="0.45"/>
<circle cx="514.9" cy="385.52" r="1.95" fill="#6a90e8" stroke="#34549e" stroke-width="0.45"/>
<circle cx="509.14" cy="383" r="1.95" fill="#6a90e8" stroke="#34549e" stroke-width="0.45"/>
<circle cx="507.88" cy="379.91" r="1.95" fill="#6a90e8" stroke="#34549e" stroke-width="0.45"/>
<circle cx="510.31" cy="376.31" r="1.95" fill="#6a90e8" stroke="#34549e" stroke-width="0.45"/>
<circle cx="508.3" cy="371.44" r="1.95" fill="#6a90e8" stroke="#34549e" stroke-width="0.45"/>
<circle cx="508.76" cy="370.19" r="1.95" fill="#6a90e8" stroke="#34549e" stroke-width="0.45"/>
<circle cx="508.17" cy="368.65" r="1.95" fill="#6a90e8" stroke="#34549e" stroke-width="0.45"/>
<circle cx="507.19" cy="366.87" r="1.95" fill="#6a90e8" stroke="#34549e" stroke-width="0.45"/>
<circle cx="524.52" cy="388.32" r="1.95" fill="#6a90e8" stroke="#34549e" stroke-width="0.45"/>
<circle cx="489.87" cy="355.52" r="1.95" fill="#6a90e8" stroke="#34549e" stroke-width="0.45"/>
<circle cx="491.34" cy="350.78" r="1.95" fill="#6a90e8" stroke="#34549e" stroke-width="0.45"/>
<circle cx="491.87" cy="348.31" r="1.95" fill="#6a90e8" stroke="#34549e" stroke-width="0.45"/>
<circle cx="486.81" cy="342.39" r="1.95" fill="#6a90e8" stroke="#34549e" stroke-width="0.45"/>
<circle cx="486.56" cy="337.69" r="1.95" fill="#6a90e8" stroke="#34549e" stroke-width="0.45"/>
<circle cx="485.66" cy="336.31" r="1.95" fill="#6a90e8" stroke="#34549e" stroke-width="0.45"/>
<circle cx="487.2" cy="329.58" r="1.95" fill="#6a90e8" stroke="#34549e" stroke-width="0.45"/>
<circle cx="490.99" cy="327.57" r="1.95" fill="#6a90e8" stroke="#34549e" stroke-width="0.45"/>
<circle cx="492.95" cy="325.96" r="1.95" fill="#6a90e8" stroke="#34549e" stroke-width="0.45"/>
<circle cx="492.85" cy="321.91" r="1.95" fill="#6a90e8" stroke="#34549e" stroke-width="0.45"/>
<circle cx="496.92" cy="299.32" r="1.95" fill="#6a90e8" stroke="#34549e" stroke-width="0.45"/>
<circle cx="502.29" cy="291.23" r="1.95" fill="#6a90e8" stroke="#34549e" stroke-width="0.45"/>
<circle cx="506.65" cy="281.24" r="1.95" fill="#6a90e8" stroke="#34549e" stroke-width="0.45"/>
<circle cx="513.07" cy="278.73" r="1.95" fill="#6a90e8" stroke="#34549e" stroke-width="0.45"/>
<circle cx="515.53" cy="279.24" r="1.95" fill="#6a90e8" stroke="#34549e" stroke-width="0.45"/>
<circle cx="528.62" cy="264.46" r="1.95" fill="#6a90e8" stroke="#34549e" stroke-width="0.45"/>
<circle cx="531.31" cy="262.51" r="1.95" fill="#6a90e8" stroke="#34549e" stroke-width="0.45"/>
<circle cx="538.26" cy="259.1" r="1.95" fill="#6a90e8" stroke="#34549e" stroke-width="0.45"/>
<circle cx="542.13" cy="254.35" r="1.95" fill="#6a90e8" stroke="#34549e" stroke-width="0.45"/>
<circle cx="550.58" cy="248.72" r="1.95" fill="#6a90e8" stroke="#34549e" stroke-width="0.45"/>
<path d="M572.4,276.4 A55.5,55.5 0 0 1 599.31,283.36 L587.57,304.52 A31.3,31.3 0 0 0 572.4,300.6 Z" fill="#fa1e0e" stroke="#222" stroke-width="0.7"/>
<path d="M600.44,293.31 A47.7,47.7 0 0 1 615.63,311.74 L600.77,318.67 A31.3,31.3 0 0 0 590.8,306.58 Z" fill="#f07055" stroke="#222" stroke-width="0.7"/>
<path d="M615.39,317.93 A45.2,45.2 0 0 1 616.77,340.52 L603.12,337.87 A31.3,31.3 0 0 0 602.17,322.23 Z" fill="#fa1e0e" stroke="#222" stroke-width="0.7"/>
<path d="M614.15,345.47 A43.9,43.9 0 0 1 602.34,364.01 L593.75,354.79 A31.3,31.3 0 0 0 602.17,341.57 Z" fill="#f07055" stroke="#222" stroke-width="0.7"/>
<path d="M596.91,365.64 A41.7,41.7 0 0 1 577.48,373.29 L576.21,362.97 A31.3,31.3 0 0 0 590.8,357.22 Z" fill="#f08870" stroke="#222" stroke-width="0.7"/>
<path d="M572.4,374.5 A42.6,42.6 0 0 1 551.75,369.16 L557.23,359.28 A31.3,31.3 0 0 0 572.4,363.2 Z" fill="#f08870" stroke="#222" stroke-width="0.7"/>
<path d="M546.95,366.93 A43.3,43.3 0 0 1 533.16,350.2 L544.03,345.13 A31.3,31.3 0 0 0 554,357.22 Z" fill="#f45a40" stroke="#222" stroke-width="0.7"/>
<path d="M531.6,345.16 A42.9,42.9 0 0 1 530.29,323.71 L541.68,325.93 A31.3,31.3 0 0 0 542.63,341.57 Z" fill="#f45a40" stroke="#222" stroke-width="0.7"/>
<path d="M532.65,318.98 A41.8,41.8 0 0 1 543.89,301.33 L551.05,309.01 A31.3,31.3 0 0 0 542.63,322.23 Z" fill="#f08870" stroke="#222" stroke-width="0.7"/>
<path d="M548.36,298.81 A40.9,40.9 0 0 1 567.42,291.3 L568.59,300.83 A31.3,31.3 0 0 0 554,306.58 Z" fill="#f08870" stroke="#222" stroke-width="0.7"/>
<text transform="rotate(14.5 572.4 331.9)" x="572.4" y="229.3" font-size="7.8" text-anchor="middle" fill="#111" stroke="#111" stroke-width="0.3">GO:0045296</text>
<text transform="rotate(50.5 572.4 331.9)" x="572.4" y="229.3" font-size="7.8" text-anchor="middle" fill="#111" stroke="#111" stroke-width="0.3">GO:0051219</text>
<text transform="rotate(86.5 572.4 331.9)" x="572.4" y="229.3" font-size="7.8" text-anchor="middle" fill="#111" stroke="#111" stroke-width="0.3">GO:0003779</text>
<text transform="rotate(122.5 572.4 331.9)" x="572.4" y="229.3" font-size="7.8" text-anchor="middle" fill="#111" stroke="#111" stroke-width="0.3">GO:0044325</text>
<text transform="rotate(158.5 572.4 331.9)" x="572.4" y="229.3" font-size="7.8" text-anchor="middle" fill="#111" stroke="#111" stroke-width="0.3">GO:0004860</text>
<text transform="rotate(194.5 572.4 331.9)" x="572.4" y="229.3" font-size="7.8" text-anchor="middle" fill="#111" stroke="#111" stroke-width="0.3">GO:0019210</text>
<text transform="rotate(230.5 572.4 331.9)" x="572.4" y="229.3" font-size="7.8" text-anchor="middle" fill="#111" stroke="#111" stroke-width="0.3">GO:0031625</text>
<text transform="rotate(266.5 572.4 331.9)" x="572.4" y="229.3" font-size="7.8" text-anchor="middle" fill="#111" stroke="#111" stroke-width="0.3">GO:0044389</text>
<text transform="rotate(302.5 572.4 331.9)" x="572.4" y="229.3" font-size="7.8" text-anchor="middle" fill="#111" stroke="#111" stroke-width="0.3">GO:0005080</text>
<text transform="rotate(338.5 572.4 331.9)" x="572.4" y="229.3" font-size="7.8" text-anchor="middle" fill="#111" stroke="#111" stroke-width="0.3">GO:0045309</text>
</g>
<defs><linearGradient id="zg" x1="0" y1="0" x2="1" y2="0"><stop offset="0" stop-color="#f29a84"/><stop offset="1" stop-color="#fa1a0a"/></linearGradient></defs>
<text x="405" y="435.8" font-size="7.2" font-weight="normal" text-anchor="middle" fill="#333" >z&#8722;score</text>
<rect x="376.8" y="439.7" width="57.2" height="11" fill="url(#zg)"/>
<text x="377.3" y="459.6" font-size="5.8" font-weight="normal" text-anchor="middle" fill="#222" >decreasing</text>
<text x="434" y="459.6" font-size="5.8" font-weight="normal" text-anchor="middle" fill="#222" >increasing</text>
<text x="498.7" y="435.8" font-size="7.1" font-weight="normal" text-anchor="middle" fill="#333" >logFC</text>
<rect x="448.5" y="439.9" width="11.2" height="11" fill="#ececec"/>
<circle cx="454.1" cy="445.4" r="2.2" fill="#6a90e8"/>
<text x="463" y="447.4" font-size="5.95" font-weight="normal" text-anchor="start" fill="#222" >downregulated</text>
<rect x="505.3" y="439.9" width="10.8" height="11" fill="#ececec"/>
<circle cx="510.7" cy="445.4" r="2.2" fill="#ec2828"/>
<text x="520" y="447.4" font-size="5.95" font-weight="normal" text-anchor="start" fill="#222" >upregulated</text>
<text x="109.35" y="471.9" font-size="11.5" font-weight="bold" text-anchor="middle" fill="#000" >Biological Processes</text>
<rect x="2" y="476.6" width="48.2" height="11.6" fill="#cccccc"/>
<rect x="51.2" y="476.6" width="168.8" height="11.6" fill="#cccccc"/>
<text x="26.1" y="485.2" font-size="7.2" font-weight="bold" text-anchor="middle" fill="#111" >ID</text>
<text x="135.6" y="485.2" font-size="7.2" font-weight="bold" text-anchor="middle" fill="#111" >Description</text>
<rect x="2" y="488.8" width="48.2" height="11.62" fill="#f2f2f2"/>
<rect x="51.2" y="488.8" width="168.8" height="11.62" fill="#f2f2f2"/>
<text x="26.1" y="497.51" font-size="7.2" font-weight="normal" text-anchor="middle" fill="#222" >GO:0042060</text>
<text x="135.6" y="497.51" font-size="7.3" font-weight="normal" text-anchor="middle" fill="#222" >wound healing</text>
<rect x="2" y="501.42" width="48.2" height="11.62" fill="#e4e4e4"/>
<rect x="51.2" y="501.42" width="168.8" height="11.62" fill="#e4e4e4"/>
<text x="26.1" y="510.13" font-size="7.2" font-weight="normal" text-anchor="middle" fill="#222" >GO:0007596</text>
<text x="135.6" y="510.13" font-size="7.3" font-weight="normal" text-anchor="middle" fill="#222" >blood coagulation</text>
<rect x="2" y="514.04" width="48.2" height="11.62" fill="#f2f2f2"/>
<rect x="51.2" y="514.04" width="168.8" height="11.62" fill="#f2f2f2"/>
<text x="26.1" y="522.75" font-size="7.2" font-weight="normal" text-anchor="middle" fill="#222" >GO:0007599</text>
<text x="135.6" y="522.75" font-size="7.3" font-weight="normal" text-anchor="middle" fill="#222" >hemostasis</text>
<rect x="2" y="526.66" width="48.2" height="11.62" fill="#e4e4e4"/>
<rect x="51.2" y="526.66" width="168.8" height="11.62" fill="#e4e4e4"/>
<text x="26.1" y="535.37" font-size="7.2" font-weight="normal" text-anchor="middle" fill="#222" >GO:0050817</text>
<text x="135.6" y="535.37" font-size="7.3" font-weight="normal" text-anchor="middle" fill="#222" >coagulation</text>
<rect x="2" y="539.28" width="48.2" height="11.62" fill="#f2f2f2"/>
<rect x="51.2" y="539.28" width="168.8" height="11.62" fill="#f2f2f2"/>
<text x="26.1" y="547.99" font-size="7.2" font-weight="normal" text-anchor="middle" fill="#222" >GO:0070527</text>
<text x="135.6" y="547.99" font-size="7.3" font-weight="normal" text-anchor="middle" fill="#222" >platelet aggregation</text>
<rect x="2" y="551.9" width="48.2" height="11.62" fill="#e4e4e4"/>
<rect x="51.2" y="551.9" width="168.8" height="11.62" fill="#e4e4e4"/>
<text x="26.1" y="560.61" font-size="7.2" font-weight="normal" text-anchor="middle" fill="#222" >GO:0034109</text>
<text x="135.6" y="560.61" font-size="7.3" font-weight="normal" text-anchor="middle" fill="#222" >homotypic cell&#8722;cell adhesion</text>
<rect x="2" y="564.52" width="48.2" height="11.62" fill="#f2f2f2"/>
<rect x="51.2" y="564.52" width="168.8" height="11.62" fill="#f2f2f2"/>
<text x="26.1" y="573.23" font-size="7.2" font-weight="normal" text-anchor="middle" fill="#222" >GO:0030168</text>
<text x="135.6" y="573.23" font-size="7.3" font-weight="normal" text-anchor="middle" fill="#222" >platelet activation</text>
<rect x="2" y="577.14" width="48.2" height="11.62" fill="#e4e4e4"/>
<rect x="51.2" y="577.14" width="168.8" height="11.62" fill="#e4e4e4"/>
<text x="26.1" y="585.85" font-size="7.2" font-weight="normal" text-anchor="middle" fill="#222" >GO:0050878</text>
<text x="135.6" y="585.85" font-size="7.3" font-weight="normal" text-anchor="middle" fill="#222" >regulation of body fluid levels</text>
<rect x="2" y="589.76" width="48.2" height="11.62" fill="#f2f2f2"/>
<rect x="51.2" y="589.76" width="168.8" height="11.62" fill="#f2f2f2"/>
<text x="26.1" y="598.47" font-size="7.2" font-weight="normal" text-anchor="middle" fill="#222" >GO:0044403</text>
<text x="135.6" y="598.47" font-size="7.3" font-weight="normal" text-anchor="middle" fill="#222" >biological process involved in symbiotic interaction</text>
<rect x="2" y="602.38" width="48.2" height="11.62" fill="#e4e4e4"/>
<rect x="51.2" y="602.38" width="168.8" height="11.62" fill="#e4e4e4"/>
<text x="26.1" y="611.09" font-size="7.2" font-weight="normal" text-anchor="middle" fill="#222" >GO:0022407</text>
<text x="135.6" y="611.09" font-size="7.3" font-weight="normal" text-anchor="middle" fill="#222" >regulation of cell&#8722;cell adhesion</text>
<text x="348" y="471.9" font-size="11.5" font-weight="bold" text-anchor="middle" fill="#000" >Cellular Components</text>
<rect x="243.4" y="479.8" width="64.5" height="11.6" fill="#cccccc"/>
<rect x="308.9" y="479.8" width="131.6" height="11.6" fill="#cccccc"/>
<text x="275.65" y="488.4" font-size="9.8" font-weight="bold" text-anchor="middle" fill="#111" >ID</text>
<text x="374.7" y="488.4" font-size="9.8" font-weight="bold" text-anchor="middle" fill="#111" >Description</text>
<rect x="243.4" y="492" width="64.5" height="11.43" fill="#f2f2f2"/>
<rect x="308.9" y="492" width="131.6" height="11.43" fill="#f2f2f2"/>
<text x="275.65" y="500.62" font-size="9.8" font-weight="normal" text-anchor="middle" fill="#222" >GO:0034774</text>
<text x="374.7" y="500.62" font-size="9.8" font-weight="normal" text-anchor="middle" fill="#222" >secretory granule lumen</text>
<rect x="243.4" y="504.43" width="64.5" height="11.43" fill="#e4e4e4"/>
<rect x="308.9" y="504.43" width="131.6" height="11.43" fill="#e4e4e4"/>
<text x="275.65" y="513.05" font-size="9.8" font-weight="normal" text-anchor="middle" fill="#222" >GO:0060205</text>
<text x="374.7" y="513.05" font-size="9.8" font-weight="normal" text-anchor="middle" fill="#222" >cytoplasmic vesicle lumen</text>
<rect x="243.4" y="516.86" width="64.5" height="11.43" fill="#f2f2f2"/>
<rect x="308.9" y="516.86" width="131.6" height="11.43" fill="#f2f2f2"/>
<text x="275.65" y="525.48" font-size="9.8" font-weight="normal" text-anchor="middle" fill="#222" >GO:0031983</text>
<text x="374.7" y="525.48" font-size="9.8" font-weight="normal" text-anchor="middle" fill="#222" >vesicle lumen</text>
<rect x="243.4" y="529.29" width="64.5" height="11.43" fill="#e4e4e4"/>
<rect x="308.9" y="529.29" width="131.6" height="11.43" fill="#e4e4e4"/>
<text x="275.65" y="537.9" font-size="9.8" font-weight="normal" text-anchor="middle" fill="#222" >GO:0005925</text>
<text x="374.7" y="537.9" font-size="9.8" font-weight="normal" text-anchor="middle" fill="#222" >focal adhesion</text>
<rect x="243.4" y="541.72" width="64.5" height="11.43" fill="#f2f2f2"/>
<rect x="308.9" y="541.72" width="131.6" height="11.43" fill="#f2f2f2"/>
<text x="275.65" y="550.33" font-size="9.8" font-weight="normal" text-anchor="middle" fill="#222" >GO:0030055</text>
<text x="374.7" y="550.33" font-size="9.8" font-weight="normal" text-anchor="middle" fill="#222" >cell&#8722;substrate junction</text>
<rect x="243.4" y="554.15" width="64.5" height="11.43" fill="#e4e4e4"/>
<rect x="308.9" y="554.15" width="131.6" height="11.43" fill="#e4e4e4"/>
<text x="275.65" y="562.76" font-size="9.8" font-weight="normal" text-anchor="middle" fill="#222" >GO:0005766</text>
<text x="374.7" y="562.76" font-size="9.8" font-weight="normal" text-anchor="middle" fill="#222" >primary lysosome</text>
<rect x="243.4" y="566.58" width="64.5" height="11.43" fill="#f2f2f2"/>
<rect x="308.9" y="566.58" width="131.6" height="11.43" fill="#f2f2f2"/>
<text x="275.65" y="575.19" font-size="9.8" font-weight="normal" text-anchor="middle" fill="#222" >GO:0042582</text>
<text x="374.7" y="575.19" font-size="9.8" font-weight="normal" text-anchor="middle" fill="#222" >azurophil granule</text>
<rect x="243.4" y="579.01" width="64.5" height="11.43" fill="#e4e4e4"/>
<rect x="308.9" y="579.01" width="131.6" height="11.43" fill="#e4e4e4"/>
<text x="275.65" y="587.62" font-size="9.8" font-weight="normal" text-anchor="middle" fill="#222" >GO:0101002</text>
<text x="374.7" y="587.62" font-size="9.8" font-weight="normal" text-anchor="middle" fill="#222" >ficolin&#8722;1&#8722;rich granule</text>
<rect x="243.4" y="591.44" width="64.5" height="11.43" fill="#f2f2f2"/>
<rect x="308.9" y="591.44" width="131.6" height="11.43" fill="#f2f2f2"/>
<text x="275.65" y="600.05" font-size="9.8" font-weight="normal" text-anchor="middle" fill="#222" >GO:1904813</text>
<text x="374.7" y="600.05" font-size="9.8" font-weight="normal" text-anchor="middle" fill="#222" >ficolin&#8722;1&#8722;rich granule lumen</text>
<rect x="243.4" y="603.87" width="64.5" height="11.43" fill="#e4e4e4"/>
<rect x="308.9" y="603.87" width="131.6" height="11.43" fill="#e4e4e4"/>
<text x="275.65" y="612.48" font-size="9.8" font-weight="normal" text-anchor="middle" fill="#222" >GO:0035578</text>
<text x="374.7" y="612.48" font-size="9.8" font-weight="normal" text-anchor="middle" fill="#222" >azurophil granule lumen</text>
<text x="573.4" y="471.9" font-size="11.5" font-weight="bold" text-anchor="middle" fill="#000" >Molecular Functions</text>
<rect x="464" y="479.8" width="50.4" height="11.6" fill="#cccccc"/>
<rect x="515.4" y="479.8" width="151.8" height="11.6" fill="#cccccc"/>
<text x="489.2" y="488.4" font-size="7.7" font-weight="bold" text-anchor="middle" fill="#111" >ID</text>
<text x="591.3" y="488.4" font-size="7.7" font-weight="bold" text-anchor="middle" fill="#111" >Description</text>
<rect x="464" y="492" width="50.4" height="11.43" fill="#f2f2f2"/>
<rect x="515.4" y="492" width="151.8" height="11.43" fill="#f2f2f2"/>
<text x="489.2" y="500.62" font-size="7.7" font-weight="normal" text-anchor="middle" fill="#222" >GO:0045296</text>
<text x="591.3" y="500.62" font-size="7.7" font-weight="normal" text-anchor="middle" fill="#222" >cadherin binding</text>
<rect x="464" y="504.43" width="50.4" height="11.43" fill="#e4e4e4"/>
<rect x="515.4" y="504.43" width="151.8" height="11.43" fill="#e4e4e4"/>
<text x="489.2" y="513.05" font-size="7.7" font-weight="normal" text-anchor="middle" fill="#222" >GO:0051219</text>
<text x="591.3" y="513.05" font-size="7.7" font-weight="normal" text-anchor="middle" fill="#222" >phosphoprotein binding</text>
<rect x="464" y="516.86" width="50.4" height="11.43" fill="#f2f2f2"/>
<rect x="515.4" y="516.86" width="151.8" height="11.43" fill="#f2f2f2"/>
<text x="489.2" y="525.48" font-size="7.7" font-weight="normal" text-anchor="middle" fill="#222" >GO:0003779</text>
<text x="591.3" y="525.48" font-size="7.7" font-weight="normal" text-anchor="middle" fill="#222" >actin binding</text>
<rect x="464" y="529.29" width="50.4" height="11.43" fill="#e4e4e4"/>
<rect x="515.4" y="529.29" width="151.8" height="11.43" fill="#e4e4e4"/>
<text x="489.2" y="537.9" font-size="7.7" font-weight="normal" text-anchor="middle" fill="#222" >GO:0044325</text>
<text x="591.3" y="537.9" font-size="7.7" font-weight="normal" text-anchor="middle" fill="#222" >ion channel binding</text>
<rect x="464" y="541.72" width="50.4" height="11.43" fill="#f2f2f2"/>
<rect x="515.4" y="541.72" width="151.8" height="11.43" fill="#f2f2f2"/>
<text x="489.2" y="550.33" font-size="7.7" font-weight="normal" text-anchor="middle" fill="#222" >GO:0004860</text>
<text x="591.3" y="550.33" font-size="7.7" font-weight="normal" text-anchor="middle" fill="#222" >protein kinase inhibitor activity</text>
<rect x="464" y="554.15" width="50.4" height="11.43" fill="#e4e4e4"/>
<rect x="515.4" y="554.15" width="151.8" height="11.43" fill="#e4e4e4"/>
<text x="489.2" y="562.76" font-size="7.7" font-weight="normal" text-anchor="middle" fill="#222" >GO:0019210</text>
<text x="591.3" y="562.76" font-size="7.7" font-weight="normal" text-anchor="middle" fill="#222" >kinase inhibitor activity</text>
<rect x="464" y="566.58" width="50.4" height="11.43" fill="#f2f2f2"/>
<rect x="515.4" y="566.58" width="151.8" height="11.43" fill="#f2f2f2"/>
<text x="489.2" y="575.19" font-size="7.7" font-weight="normal" text-anchor="middle" fill="#222" >GO:0031625</text>
<text x="591.3" y="575.19" font-size="7.7" font-weight="normal" text-anchor="middle" fill="#222" >ubiquitin protein ligase binding</text>
<rect x="464" y="579.01" width="50.4" height="11.43" fill="#e4e4e4"/>
<rect x="515.4" y="579.01" width="151.8" height="11.43" fill="#e4e4e4"/>
<text x="489.2" y="587.62" font-size="7.7" font-weight="normal" text-anchor="middle" fill="#222" >GO:0044389</text>
<text x="591.3" y="587.62" font-size="7.7" font-weight="normal" text-anchor="middle" fill="#222" >ubiquitin&#8722;like protein ligase binding</text>
<rect x="464" y="591.44" width="50.4" height="11.43" fill="#f2f2f2"/>
<rect x="515.4" y="591.44" width="151.8" height="11.43" fill="#f2f2f2"/>
<text x="489.2" y="600.05" font-size="7.7" font-weight="normal" text-anchor="middle" fill="#222" >GO:0005080</text>
<text x="591.3" y="600.05" font-size="7.7" font-weight="normal" text-anchor="middle" fill="#222" >protein kinase C binding</text>
<rect x="464" y="603.87" width="50.4" height="11.43" fill="#e4e4e4"/>
<rect x="515.4" y="603.87" width="151.8" height="11.43" fill="#e4e4e4"/>
<text x="489.2" y="612.48" font-size="7.7" font-weight="normal" text-anchor="middle" fill="#222" >GO:0045309</text>
<text x="591.3" y="612.48" font-size="7.7" font-weight="normal" text-anchor="middle" fill="#222" >protein phosphorylated amino acid binding</text>
<rect x="339.8" y="650.7" width="163.96" height="8" fill="#f7631c"/>
<line x1="335" y1="654.7" x2="339.8" y2="654.7" stroke="#000" stroke-width="1.3"/>
<text x="328.3" y="657.9" font-size="9.17" font-weight="bold" text-anchor="end" fill="#111" >Remodeling of Epithelial Adherens Junctions</text>
<rect x="339.8" y="668.5" width="118.13" height="8" fill="#f7631c"/>
<line x1="335" y1="672.5" x2="339.8" y2="672.5" stroke="#000" stroke-width="1.3"/>
<text x="328.3" y="675.7" font-size="9.17" font-weight="bold" text-anchor="end" fill="#111" >Phagosome Maturation</text>
<rect x="339.8" y="686.3" width="116.22" height="8" fill="#f7631c"/>
<line x1="335" y1="690.3" x2="339.8" y2="690.3" stroke="#000" stroke-width="1.3"/>
<text x="328.3" y="693.5" font-size="9.17" font-weight="bold" text-anchor="end" fill="#111" >14-3-3-mediated Signaling</text>
<rect x="339.8" y="704.1" width="95.35" height="8" fill="#f7631c"/>
<line x1="335" y1="708.1" x2="339.8" y2="708.1" stroke="#000" stroke-width="1.3"/>
<text x="328.3" y="711.3" font-size="9.17" font-weight="bold" text-anchor="end" fill="#111" >Integrin Signaling</text>
<rect x="339.8" y="721.9" width="80.07" height="8" fill="#f7631c"/>
<line x1="335" y1="725.9" x2="339.8" y2="725.9" stroke="#000" stroke-width="1.3"/>
<text x="328.3" y="729.1" font-size="9.17" font-weight="bold" text-anchor="end" fill="#111" >Extrinsic Prothrombin Activation Pathway</text>
<rect x="339.8" y="739.7" width="79.44" height="8" fill="#f7631c"/>
<line x1="335" y1="743.7" x2="339.8" y2="743.7" stroke="#000" stroke-width="1.3"/>
<text x="328.3" y="746.9" font-size="9.17" font-weight="bold" text-anchor="end" fill="#111" >Fc&#947; Receptor-mediated Phagocytosis in Macrophages and Monocytes</text>
<rect x="339.8" y="757.5" width="77.14" height="8" fill="#f7631c"/>
<line x1="335" y1="761.5" x2="339.8" y2="761.5" stroke="#000" stroke-width="1.3"/>
<text x="328.3" y="764.7" font-size="9.17" font-weight="bold" text-anchor="end" fill="#111" >Axonal Guidance Signaling</text>
<rect x="339.8" y="775.3" width="72.18" height="8" fill="#f7631c"/>
<line x1="335" y1="779.3" x2="339.8" y2="779.3" stroke="#000" stroke-width="1.3"/>
<text x="328.3" y="782.5" font-size="9.17" font-weight="bold" text-anchor="end" fill="#111" >Complement System</text>
<rect x="339.8" y="793.1" width="69.12" height="8" fill="#f7631c"/>
<line x1="335" y1="797.1" x2="339.8" y2="797.1" stroke="#000" stroke-width="1.3"/>
<text x="328.3" y="800.3" font-size="9.17" font-weight="bold" text-anchor="end" fill="#111" >Protein Kinase A Signaling</text>
<rect x="339.8" y="810.9" width="67.21" height="8" fill="#f7631c"/>
<line x1="335" y1="814.9" x2="339.8" y2="814.9" stroke="#000" stroke-width="1.3"/>
<text x="328.3" y="818.1" font-size="9.17" font-weight="bold" text-anchor="end" fill="#111" >Leukocyte Extravasation Signaling</text>
<rect x="339.8" y="828.7" width="66.07" height="8" fill="#f7631c"/>
<line x1="335" y1="832.7" x2="339.8" y2="832.7" stroke="#000" stroke-width="1.3"/>
<text x="328.3" y="835.9" font-size="9.17" font-weight="bold" text-anchor="end" fill="#111" >GP6 Signaling Pathway</text>
<rect x="339.8" y="846.5" width="63.01" height="8" fill="#f7631c"/>
<line x1="335" y1="850.5" x2="339.8" y2="850.5" stroke="#000" stroke-width="1.3"/>
<text x="328.3" y="853.7" font-size="9.17" font-weight="bold" text-anchor="end" fill="#111" >HIF1&#945; Signaling</text>
<rect x="339.8" y="864.3" width="57.03" height="8" fill="#f7631c"/>
<line x1="335" y1="868.3" x2="339.8" y2="868.3" stroke="#000" stroke-width="1.3"/>
<text x="328.3" y="871.5" font-size="9.17" font-weight="bold" text-anchor="end" fill="#111" >Phospholipase C Signaling</text>
<rect x="339.8" y="882.1" width="57.03" height="8" fill="#f7631c"/>
<line x1="335" y1="886.1" x2="339.8" y2="886.1" stroke="#000" stroke-width="1.3"/>
<text x="328.3" y="889.3" font-size="9.17" font-weight="bold" text-anchor="end" fill="#111" >Coagulation System</text>
<rect x="339.8" y="899.9" width="55.76" height="8" fill="#f7631c"/>
<line x1="335" y1="903.9" x2="339.8" y2="903.9" stroke="#000" stroke-width="1.3"/>
<text x="328.3" y="907.1" font-size="9.17" font-weight="bold" text-anchor="end" fill="#111" >Epithelial Adherens Junction Signaling</text>
<line x1="339.8" y1="642.3" x2="339.8" y2="915.3" stroke="#000" stroke-width="1.8"/>
<line x1="339.1" y1="914.7" x2="531.45" y2="914.7" stroke="#000" stroke-width="1.3"/>
<line x1="339.8" y1="914.7" x2="339.8" y2="920.5" stroke="#000" stroke-width="1.1"/>
<text x="339.8" y="931.2" font-size="10.3" font-weight="bold" text-anchor="middle" fill="#111" >0</text>
<line x1="352.53" y1="914.7" x2="352.53" y2="918.4" stroke="#000" stroke-width="1.1"/>
<line x1="365.26" y1="914.7" x2="365.26" y2="918.4" stroke="#000" stroke-width="1.1"/>
<line x1="377.99" y1="914.7" x2="377.99" y2="918.4" stroke="#000" stroke-width="1.1"/>
<line x1="390.72" y1="914.7" x2="390.72" y2="918.4" stroke="#000" stroke-width="1.1"/>
<line x1="403.45" y1="914.7" x2="403.45" y2="920.5" stroke="#000" stroke-width="1.1"/>
<text x="403.45" y="931.2" font-size="10.3" font-weight="bold" text-anchor="middle" fill="#111" >5</text>
<line x1="416.18" y1="914.7" x2="416.18" y2="918.4" stroke="#000" stroke-width="1.1"/>
<line x1="428.91" y1="914.7" x2="428.91" y2="918.4" stroke="#000" stroke-width="1.1"/>
<line x1="441.64" y1="914.7" x2="441.64" y2="918.4" stroke="#000" stroke-width="1.1"/>
<line x1="454.37" y1="914.7" x2="454.37" y2="918.4" stroke="#000" stroke-width="1.1"/>
<line x1="467.1" y1="914.7" x2="467.1" y2="920.5" stroke="#000" stroke-width="1.1"/>
<text x="467.1" y="931.2" font-size="10.3" font-weight="bold" text-anchor="middle" fill="#111" >10</text>
<line x1="479.83" y1="914.7" x2="479.83" y2="918.4" stroke="#000" stroke-width="1.1"/>
<line x1="492.56" y1="914.7" x2="492.56" y2="918.4" stroke="#000" stroke-width="1.1"/>
<line x1="505.29" y1="914.7" x2="505.29" y2="918.4" stroke="#000" stroke-width="1.1"/>
<line x1="518.02" y1="914.7" x2="518.02" y2="918.4" stroke="#000" stroke-width="1.1"/>
<line x1="530.75" y1="914.7" x2="530.75" y2="920.5" stroke="#000" stroke-width="1.1"/>
<text x="530.75" y="931.2" font-size="10.3" font-weight="bold" text-anchor="middle" fill="#111" >15</text>
<line x1="356.48" y1="642.3" x2="356.48" y2="914.7" stroke="#000" stroke-width="1.7"/>
<text transform="translate(360.3,634.2) scale(1,1.1)" font-size="9.85" font-weight="bold" text-anchor="middle" fill="#f0822a">Threshold</text>
<text x="410" y="942.6" font-size="10" font-weight="bold" text-anchor="middle" fill="#111" >-log</text>
<text x="410" y="955" font-size="10" font-weight="bold" text-anchor="middle" fill="#111" >(p-value)</text>
<text transform="translate(2.6,13.7) scale(1.14,1.226)" font-size="16" font-weight="bold">A</text>
<text transform="translate(332.8,13.7) scale(1.07,1.226)" font-size="16" font-weight="bold">B</text>
<text transform="translate(3.4,229.0) scale(1.0,1.226)" font-size="16" font-weight="bold">C</text>
<text transform="translate(265.9,229.3) scale(1.0,1.226)" font-size="16" font-weight="bold">D</text>
<text transform="translate(483.6,228.7) scale(1.0,1.226)" font-size="16" font-weight="bold">E</text>
<text transform="translate(2.0,641.0) scale(1.0,1.226)" font-size="16" font-weight="bold">F</text>
</g></svg>
</body></html>
